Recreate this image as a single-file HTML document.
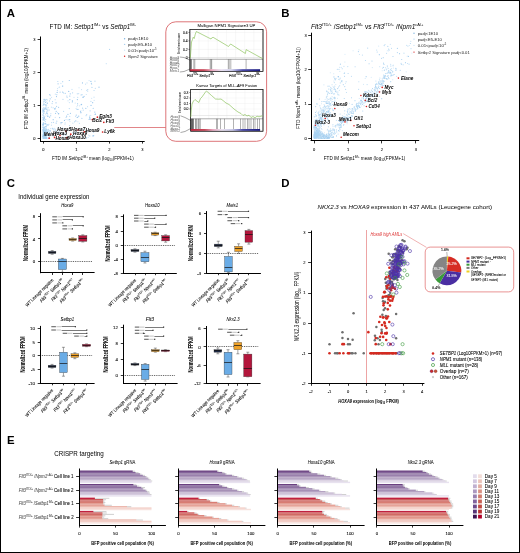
<!DOCTYPE html>
<html><head><meta charset="utf-8"><style>
html,body{margin:0;padding:0;background:#fff;}
#wrap{position:relative;width:520px;height:553px;overflow:hidden;background:#fff;}
svg{display:block;font-family:"Liberation Sans", sans-serif;filter:blur(0.3px);}
#frame{position:absolute;left:0;top:0;width:518px;height:551px;border:1px solid #000;}
</style></head><body><div id="wrap">
<svg width="520" height="553" viewBox="0 0 520 553">
<rect x="0" y="0" width="520" height="553" fill="#fff"/>
<text x="6.70" y="17.00" font-size="11.4" font-weight="bold">A</text>
<text x="281.30" y="17.00" font-size="11.4" font-weight="bold">B</text>
<text x="6.70" y="186.90" font-size="11.4" font-weight="bold">C</text>
<text x="281.20" y="187.00" font-size="11.4" font-weight="bold">D</text>
<text x="6.90" y="444.00" font-size="11.4" font-weight="bold">E</text>
<circle cx="87.77" cy="89.59" r="0.60" fill="#b3d6f2"/>
<circle cx="51.58" cy="97.29" r="0.60" fill="#c9e2f6"/>
<circle cx="46.44" cy="109.59" r="0.60" fill="#98c5ec"/>
<circle cx="51.71" cy="122.54" r="0.60" fill="#b3d6f2"/>
<circle cx="58.58" cy="107.24" r="0.60" fill="#98c5ec"/>
<circle cx="95.34" cy="88.26" r="0.60" fill="#b3d6f2"/>
<circle cx="94.83" cy="112.06" r="0.60" fill="#98c5ec"/>
<circle cx="46.25" cy="138.00" r="0.60" fill="#b3d6f2"/>
<circle cx="43.39" cy="124.85" r="0.60" fill="#98c5ec"/>
<circle cx="75.08" cy="133.05" r="0.60" fill="#b3d6f2"/>
<circle cx="49.40" cy="132.34" r="0.60" fill="#98c5ec"/>
<circle cx="45.04" cy="134.31" r="0.60" fill="#c9e2f6"/>
<circle cx="42.91" cy="111.00" r="0.60" fill="#c9e2f6"/>
<circle cx="43.19" cy="105.27" r="0.60" fill="#b3d6f2"/>
<circle cx="84.07" cy="96.28" r="0.60" fill="#98c5ec"/>
<circle cx="44.36" cy="118.77" r="0.60" fill="#b3d6f2"/>
<circle cx="85.85" cy="108.37" r="0.60" fill="#98c5ec"/>
<circle cx="43.66" cy="124.17" r="0.60" fill="#c9e2f6"/>
<circle cx="45.97" cy="107.36" r="0.60" fill="#b3d6f2"/>
<circle cx="94.03" cy="97.22" r="0.60" fill="#c9e2f6"/>
<circle cx="69.81" cy="96.12" r="0.60" fill="#98c5ec"/>
<circle cx="46.03" cy="133.13" r="0.60" fill="#b3d6f2"/>
<circle cx="44.49" cy="104.00" r="0.60" fill="#c9e2f6"/>
<circle cx="45.00" cy="131.12" r="0.60" fill="#b3d6f2"/>
<circle cx="76.77" cy="137.11" r="0.60" fill="#c9e2f6"/>
<circle cx="91.40" cy="83.42" r="0.60" fill="#b3d6f2"/>
<circle cx="45.83" cy="128.69" r="0.60" fill="#b3d6f2"/>
<circle cx="71.15" cy="136.59" r="0.60" fill="#c9e2f6"/>
<circle cx="75.72" cy="132.47" r="0.60" fill="#98c5ec"/>
<circle cx="56.81" cy="121.21" r="0.60" fill="#b3d6f2"/>
<circle cx="42.96" cy="124.79" r="0.60" fill="#98c5ec"/>
<circle cx="52.55" cy="101.60" r="0.60" fill="#b3d6f2"/>
<circle cx="46.31" cy="138.20" r="0.60" fill="#98c5ec"/>
<circle cx="48.27" cy="116.40" r="0.60" fill="#c9e2f6"/>
<circle cx="62.91" cy="86.10" r="0.60" fill="#c9e2f6"/>
<circle cx="66.85" cy="96.07" r="0.60" fill="#b3d6f2"/>
<circle cx="62.65" cy="92.07" r="0.60" fill="#98c5ec"/>
<circle cx="50.63" cy="128.61" r="0.60" fill="#c9e2f6"/>
<circle cx="42.99" cy="108.90" r="0.60" fill="#98c5ec"/>
<circle cx="45.17" cy="108.66" r="0.60" fill="#c9e2f6"/>
<circle cx="43.14" cy="109.79" r="0.60" fill="#b3d6f2"/>
<circle cx="75.55" cy="116.41" r="0.60" fill="#c9e2f6"/>
<circle cx="48.52" cy="134.92" r="0.60" fill="#98c5ec"/>
<circle cx="91.65" cy="98.27" r="0.60" fill="#c9e2f6"/>
<circle cx="50.37" cy="95.55" r="0.60" fill="#c9e2f6"/>
<circle cx="94.15" cy="100.35" r="0.60" fill="#c9e2f6"/>
<circle cx="87.72" cy="91.12" r="0.60" fill="#b3d6f2"/>
<circle cx="57.61" cy="88.49" r="0.60" fill="#c9e2f6"/>
<circle cx="89.70" cy="118.54" r="0.60" fill="#b3d6f2"/>
<circle cx="62.67" cy="81.71" r="0.60" fill="#b3d6f2"/>
<circle cx="81.11" cy="94.89" r="0.60" fill="#b3d6f2"/>
<circle cx="69.28" cy="80.48" r="0.60" fill="#98c5ec"/>
<circle cx="56.17" cy="123.12" r="0.60" fill="#98c5ec"/>
<circle cx="47.27" cy="103.40" r="0.60" fill="#c9e2f6"/>
<circle cx="44.89" cy="116.17" r="0.60" fill="#b3d6f2"/>
<circle cx="67.11" cy="97.31" r="0.60" fill="#b3d6f2"/>
<circle cx="92.67" cy="102.67" r="0.60" fill="#98c5ec"/>
<circle cx="69.63" cy="119.70" r="0.60" fill="#c9e2f6"/>
<circle cx="44.32" cy="111.25" r="0.60" fill="#98c5ec"/>
<circle cx="75.83" cy="120.89" r="0.60" fill="#98c5ec"/>
<circle cx="83.92" cy="129.20" r="0.60" fill="#c9e2f6"/>
<circle cx="89.16" cy="119.38" r="0.60" fill="#98c5ec"/>
<circle cx="43.30" cy="132.71" r="0.60" fill="#b3d6f2"/>
<circle cx="47.19" cy="115.16" r="0.60" fill="#b3d6f2"/>
<circle cx="46.55" cy="135.28" r="0.60" fill="#98c5ec"/>
<circle cx="43.06" cy="126.83" r="0.60" fill="#c9e2f6"/>
<circle cx="70.44" cy="129.90" r="0.60" fill="#98c5ec"/>
<circle cx="68.10" cy="119.78" r="0.60" fill="#b3d6f2"/>
<circle cx="43.32" cy="111.39" r="0.60" fill="#98c5ec"/>
<circle cx="86.58" cy="137.96" r="0.60" fill="#98c5ec"/>
<circle cx="52.37" cy="128.31" r="0.60" fill="#98c5ec"/>
<circle cx="80.50" cy="111.54" r="0.60" fill="#98c5ec"/>
<circle cx="83.67" cy="137.13" r="0.60" fill="#c9e2f6"/>
<circle cx="86.68" cy="114.79" r="0.60" fill="#98c5ec"/>
<circle cx="69.85" cy="99.55" r="0.60" fill="#98c5ec"/>
<circle cx="44.23" cy="117.61" r="0.60" fill="#98c5ec"/>
<circle cx="80.93" cy="110.86" r="0.60" fill="#c9e2f6"/>
<circle cx="85.54" cy="84.14" r="0.60" fill="#c9e2f6"/>
<circle cx="43.84" cy="116.73" r="0.60" fill="#98c5ec"/>
<circle cx="46.58" cy="101.82" r="0.60" fill="#c9e2f6"/>
<circle cx="49.61" cy="117.14" r="0.60" fill="#98c5ec"/>
<circle cx="44.60" cy="123.70" r="0.60" fill="#c9e2f6"/>
<circle cx="43.67" cy="107.87" r="0.60" fill="#b3d6f2"/>
<circle cx="54.87" cy="108.93" r="0.60" fill="#b3d6f2"/>
<circle cx="51.48" cy="125.21" r="0.60" fill="#c9e2f6"/>
<circle cx="43.02" cy="120.02" r="0.60" fill="#b3d6f2"/>
<circle cx="44.04" cy="111.75" r="0.60" fill="#c9e2f6"/>
<circle cx="43.04" cy="136.20" r="0.60" fill="#98c5ec"/>
<circle cx="44.36" cy="132.17" r="0.60" fill="#98c5ec"/>
<circle cx="83.03" cy="97.33" r="0.60" fill="#b3d6f2"/>
<circle cx="46.26" cy="105.08" r="0.60" fill="#c9e2f6"/>
<circle cx="74.55" cy="121.86" r="0.60" fill="#b3d6f2"/>
<circle cx="79.03" cy="87.76" r="0.60" fill="#c9e2f6"/>
<circle cx="54.82" cy="129.04" r="0.60" fill="#c9e2f6"/>
<circle cx="77.71" cy="117.34" r="0.60" fill="#b3d6f2"/>
<circle cx="63.63" cy="92.92" r="0.60" fill="#b3d6f2"/>
<circle cx="49.33" cy="136.55" r="0.60" fill="#c9e2f6"/>
<circle cx="70.22" cy="93.78" r="0.60" fill="#98c5ec"/>
<circle cx="90.94" cy="129.57" r="0.60" fill="#b3d6f2"/>
<circle cx="56.01" cy="102.86" r="0.60" fill="#98c5ec"/>
<circle cx="43.44" cy="111.57" r="0.60" fill="#b3d6f2"/>
<circle cx="58.56" cy="113.62" r="0.60" fill="#98c5ec"/>
<circle cx="43.22" cy="110.11" r="0.60" fill="#98c5ec"/>
<circle cx="55.64" cy="107.79" r="0.60" fill="#c9e2f6"/>
<circle cx="55.34" cy="94.15" r="0.60" fill="#c9e2f6"/>
<circle cx="62.72" cy="137.04" r="0.60" fill="#b3d6f2"/>
<circle cx="95.14" cy="114.38" r="0.60" fill="#98c5ec"/>
<circle cx="82.49" cy="82.89" r="0.60" fill="#98c5ec"/>
<circle cx="46.53" cy="99.45" r="0.60" fill="#c9e2f6"/>
<circle cx="44.49" cy="120.20" r="0.60" fill="#b3d6f2"/>
<circle cx="77.22" cy="117.47" r="0.60" fill="#98c5ec"/>
<circle cx="54.01" cy="130.35" r="0.60" fill="#c9e2f6"/>
<circle cx="45.66" cy="138.17" r="0.60" fill="#98c5ec"/>
<circle cx="52.11" cy="103.57" r="0.60" fill="#b3d6f2"/>
<circle cx="43.61" cy="104.41" r="0.60" fill="#98c5ec"/>
<circle cx="89.77" cy="135.89" r="0.60" fill="#b3d6f2"/>
<circle cx="48.62" cy="129.46" r="0.60" fill="#c9e2f6"/>
<circle cx="43.01" cy="136.38" r="0.60" fill="#b3d6f2"/>
<circle cx="45.39" cy="124.11" r="0.60" fill="#b3d6f2"/>
<circle cx="43.67" cy="132.28" r="0.60" fill="#b3d6f2"/>
<circle cx="50.85" cy="113.68" r="0.60" fill="#c9e2f6"/>
<circle cx="63.63" cy="111.30" r="0.60" fill="#b3d6f2"/>
<circle cx="86.00" cy="115.65" r="0.60" fill="#c9e2f6"/>
<circle cx="47.35" cy="99.91" r="0.60" fill="#c9e2f6"/>
<circle cx="54.70" cy="128.23" r="0.60" fill="#c9e2f6"/>
<circle cx="43.30" cy="123.56" r="0.60" fill="#b3d6f2"/>
<circle cx="44.97" cy="135.16" r="0.60" fill="#b3d6f2"/>
<circle cx="43.80" cy="128.48" r="0.60" fill="#98c5ec"/>
<circle cx="86.55" cy="90.37" r="0.60" fill="#c9e2f6"/>
<circle cx="77.96" cy="93.70" r="0.60" fill="#c9e2f6"/>
<circle cx="72.60" cy="92.80" r="0.60" fill="#b3d6f2"/>
<circle cx="46.52" cy="108.88" r="0.60" fill="#c9e2f6"/>
<circle cx="43.80" cy="119.22" r="0.60" fill="#c9e2f6"/>
<circle cx="90.76" cy="115.29" r="0.60" fill="#c9e2f6"/>
<circle cx="44.36" cy="104.28" r="0.60" fill="#c9e2f6"/>
<circle cx="80.94" cy="112.78" r="0.60" fill="#c9e2f6"/>
<circle cx="74.01" cy="97.30" r="0.60" fill="#c9e2f6"/>
<circle cx="65.07" cy="134.10" r="0.60" fill="#98c5ec"/>
<circle cx="83.19" cy="110.04" r="0.60" fill="#b3d6f2"/>
<circle cx="47.95" cy="114.99" r="0.60" fill="#c9e2f6"/>
<circle cx="43.78" cy="113.25" r="0.60" fill="#b3d6f2"/>
<circle cx="47.09" cy="124.75" r="0.60" fill="#98c5ec"/>
<circle cx="75.19" cy="103.02" r="0.60" fill="#c9e2f6"/>
<circle cx="44.20" cy="118.22" r="0.60" fill="#98c5ec"/>
<circle cx="90.42" cy="119.22" r="0.60" fill="#98c5ec"/>
<circle cx="69.37" cy="102.57" r="0.60" fill="#c9e2f6"/>
<circle cx="43.70" cy="133.66" r="0.60" fill="#b3d6f2"/>
<circle cx="43.03" cy="134.39" r="0.60" fill="#c9e2f6"/>
<circle cx="77.21" cy="93.79" r="0.60" fill="#c9e2f6"/>
<circle cx="81.18" cy="104.70" r="0.60" fill="#98c5ec"/>
<circle cx="82.03" cy="94.71" r="0.60" fill="#b3d6f2"/>
<circle cx="56.57" cy="106.40" r="0.60" fill="#b3d6f2"/>
<circle cx="76.80" cy="109.38" r="0.60" fill="#c9e2f6"/>
<circle cx="77.57" cy="103.57" r="0.60" fill="#b3d6f2"/>
<circle cx="82.60" cy="108.19" r="0.60" fill="#b3d6f2"/>
<circle cx="79.64" cy="105.81" r="0.60" fill="#c9e2f6"/>
<circle cx="43.24" cy="124.42" r="0.60" fill="#98c5ec"/>
<circle cx="72.54" cy="132.59" r="0.60" fill="#c9e2f6"/>
<circle cx="72.36" cy="100.50" r="0.60" fill="#c9e2f6"/>
<circle cx="47.05" cy="124.87" r="0.60" fill="#b3d6f2"/>
<circle cx="57.83" cy="81.50" r="0.60" fill="#b3d6f2"/>
<circle cx="58.70" cy="113.84" r="0.60" fill="#98c5ec"/>
<circle cx="91.63" cy="84.10" r="0.60" fill="#b3d6f2"/>
<circle cx="50.18" cy="98.80" r="0.60" fill="#98c5ec"/>
<circle cx="72.87" cy="123.20" r="0.60" fill="#c9e2f6"/>
<circle cx="58.91" cy="133.26" r="0.60" fill="#98c5ec"/>
<circle cx="44.87" cy="108.00" r="0.60" fill="#98c5ec"/>
<circle cx="60.11" cy="92.13" r="0.60" fill="#b3d6f2"/>
<circle cx="54.95" cy="108.55" r="0.60" fill="#b3d6f2"/>
<circle cx="45.65" cy="114.08" r="0.60" fill="#c9e2f6"/>
<circle cx="43.61" cy="113.29" r="0.60" fill="#b3d6f2"/>
<circle cx="58.58" cy="127.77" r="0.60" fill="#98c5ec"/>
<circle cx="49.35" cy="109.98" r="0.60" fill="#b3d6f2"/>
<circle cx="69.75" cy="116.43" r="0.60" fill="#c9e2f6"/>
<circle cx="62.97" cy="99.30" r="0.60" fill="#b3d6f2"/>
<circle cx="47.83" cy="131.51" r="0.60" fill="#98c5ec"/>
<circle cx="49.75" cy="130.75" r="0.60" fill="#98c5ec"/>
<circle cx="78.70" cy="93.54" r="0.60" fill="#c9e2f6"/>
<circle cx="43.17" cy="130.39" r="0.60" fill="#c9e2f6"/>
<circle cx="60.90" cy="83.33" r="0.60" fill="#c9e2f6"/>
<circle cx="68.73" cy="91.46" r="0.60" fill="#98c5ec"/>
<circle cx="53.55" cy="122.31" r="0.60" fill="#b3d6f2"/>
<circle cx="60.97" cy="123.79" r="0.60" fill="#c9e2f6"/>
<circle cx="69.92" cy="121.62" r="0.60" fill="#c9e2f6"/>
<circle cx="44.02" cy="131.70" r="0.60" fill="#b3d6f2"/>
<circle cx="44.22" cy="136.55" r="0.60" fill="#c9e2f6"/>
<circle cx="46.08" cy="138.39" r="0.60" fill="#b3d6f2"/>
<circle cx="46.37" cy="126.03" r="0.60" fill="#98c5ec"/>
<circle cx="47.07" cy="113.43" r="0.60" fill="#98c5ec"/>
<circle cx="57.15" cy="92.44" r="0.60" fill="#98c5ec"/>
<circle cx="44.63" cy="104.57" r="0.60" fill="#c9e2f6"/>
<circle cx="43.48" cy="115.71" r="0.60" fill="#c9e2f6"/>
<circle cx="78.73" cy="116.14" r="0.60" fill="#98c5ec"/>
<circle cx="88.23" cy="137.29" r="0.60" fill="#c9e2f6"/>
<circle cx="43.21" cy="110.57" r="0.60" fill="#98c5ec"/>
<circle cx="93.53" cy="132.02" r="0.60" fill="#98c5ec"/>
<circle cx="72.40" cy="101.16" r="0.60" fill="#98c5ec"/>
<circle cx="73.99" cy="134.94" r="0.60" fill="#98c5ec"/>
<circle cx="43.03" cy="114.27" r="0.60" fill="#b3d6f2"/>
<circle cx="57.33" cy="90.34" r="0.60" fill="#b3d6f2"/>
<circle cx="53.21" cy="129.18" r="0.60" fill="#b3d6f2"/>
<circle cx="44.83" cy="131.00" r="0.60" fill="#98c5ec"/>
<circle cx="90.10" cy="110.81" r="0.60" fill="#b3d6f2"/>
<circle cx="77.71" cy="129.46" r="0.60" fill="#c9e2f6"/>
<circle cx="42.91" cy="112.40" r="0.60" fill="#c9e2f6"/>
<circle cx="45.74" cy="108.29" r="0.60" fill="#98c5ec"/>
<circle cx="48.07" cy="125.10" r="0.60" fill="#98c5ec"/>
<circle cx="56.64" cy="131.06" r="0.60" fill="#c9e2f6"/>
<circle cx="44.90" cy="136.52" r="0.60" fill="#98c5ec"/>
<circle cx="43.25" cy="119.55" r="0.60" fill="#98c5ec"/>
<circle cx="44.19" cy="127.18" r="0.60" fill="#98c5ec"/>
<circle cx="67.94" cy="114.36" r="0.60" fill="#98c5ec"/>
<circle cx="59.09" cy="87.28" r="0.60" fill="#c9e2f6"/>
<circle cx="77.73" cy="97.25" r="0.60" fill="#b3d6f2"/>
<circle cx="55.18" cy="99.65" r="0.60" fill="#c9e2f6"/>
<circle cx="55.64" cy="129.99" r="0.60" fill="#98c5ec"/>
<circle cx="79.40" cy="136.33" r="0.60" fill="#c9e2f6"/>
<circle cx="50.67" cy="115.74" r="0.60" fill="#98c5ec"/>
<circle cx="65.82" cy="135.45" r="0.60" fill="#c9e2f6"/>
<circle cx="44.03" cy="128.84" r="0.60" fill="#b3d6f2"/>
<circle cx="46.70" cy="131.97" r="0.60" fill="#c9e2f6"/>
<circle cx="48.14" cy="107.56" r="0.60" fill="#b3d6f2"/>
<circle cx="56.86" cy="132.44" r="0.60" fill="#98c5ec"/>
<circle cx="43.99" cy="131.41" r="0.60" fill="#c9e2f6"/>
<circle cx="67.15" cy="129.98" r="0.60" fill="#b3d6f2"/>
<circle cx="46.10" cy="106.06" r="0.60" fill="#b3d6f2"/>
<circle cx="43.19" cy="132.97" r="0.60" fill="#c9e2f6"/>
<circle cx="77.89" cy="121.77" r="0.60" fill="#c9e2f6"/>
<circle cx="81.58" cy="104.46" r="0.60" fill="#98c5ec"/>
<circle cx="93.23" cy="108.47" r="0.60" fill="#b3d6f2"/>
<circle cx="43.27" cy="135.62" r="0.60" fill="#98c5ec"/>
<circle cx="43.78" cy="101.34" r="0.60" fill="#b3d6f2"/>
<circle cx="70.39" cy="113.32" r="0.60" fill="#98c5ec"/>
<circle cx="77.35" cy="99.53" r="0.60" fill="#98c5ec"/>
<circle cx="64.46" cy="120.40" r="0.60" fill="#98c5ec"/>
<circle cx="61.06" cy="122.71" r="0.60" fill="#98c5ec"/>
<circle cx="81.89" cy="118.41" r="0.60" fill="#b3d6f2"/>
<circle cx="76.08" cy="108.50" r="0.60" fill="#c9e2f6"/>
<circle cx="54.89" cy="108.80" r="0.60" fill="#98c5ec"/>
<circle cx="64.98" cy="124.14" r="0.60" fill="#c9e2f6"/>
<circle cx="89.79" cy="117.44" r="0.60" fill="#98c5ec"/>
<circle cx="46.72" cy="105.11" r="0.60" fill="#b3d6f2"/>
<circle cx="45.16" cy="134.98" r="0.60" fill="#98c5ec"/>
<circle cx="47.36" cy="103.07" r="0.60" fill="#98c5ec"/>
<circle cx="43.77" cy="123.99" r="0.60" fill="#c9e2f6"/>
<circle cx="76.89" cy="106.75" r="0.60" fill="#c9e2f6"/>
<circle cx="45.83" cy="99.77" r="0.60" fill="#b3d6f2"/>
<circle cx="45.00" cy="108.96" r="0.60" fill="#c9e2f6"/>
<circle cx="79.37" cy="123.26" r="0.60" fill="#b3d6f2"/>
<circle cx="51.20" cy="133.67" r="0.60" fill="#c9e2f6"/>
<circle cx="62.01" cy="122.48" r="0.60" fill="#98c5ec"/>
<circle cx="44.33" cy="137.86" r="0.60" fill="#b3d6f2"/>
<circle cx="42.98" cy="124.91" r="0.60" fill="#98c5ec"/>
<circle cx="66.64" cy="116.13" r="0.60" fill="#98c5ec"/>
<circle cx="46.71" cy="111.69" r="0.60" fill="#c9e2f6"/>
<circle cx="56.49" cy="96.53" r="0.60" fill="#98c5ec"/>
<circle cx="87.02" cy="82.88" r="0.60" fill="#c9e2f6"/>
<circle cx="76.24" cy="115.11" r="0.60" fill="#98c5ec"/>
<circle cx="44.31" cy="118.96" r="0.60" fill="#c9e2f6"/>
<circle cx="50.36" cy="130.95" r="0.60" fill="#98c5ec"/>
<circle cx="45.42" cy="102.37" r="0.60" fill="#98c5ec"/>
<circle cx="45.34" cy="104.96" r="0.60" fill="#98c5ec"/>
<circle cx="48.05" cy="130.03" r="0.60" fill="#98c5ec"/>
<circle cx="44.59" cy="128.77" r="0.60" fill="#b3d6f2"/>
<circle cx="43.82" cy="118.41" r="0.60" fill="#98c5ec"/>
<circle cx="65.26" cy="93.38" r="0.60" fill="#b3d6f2"/>
<circle cx="95.48" cy="113.99" r="0.60" fill="#98c5ec"/>
<circle cx="56.82" cy="94.64" r="0.60" fill="#b3d6f2"/>
<circle cx="93.64" cy="135.68" r="0.60" fill="#98c5ec"/>
<circle cx="91.23" cy="81.47" r="0.60" fill="#c9e2f6"/>
<circle cx="91.04" cy="105.46" r="0.60" fill="#98c5ec"/>
<circle cx="77.65" cy="105.07" r="0.60" fill="#b3d6f2"/>
<circle cx="55.57" cy="113.29" r="0.60" fill="#98c5ec"/>
<circle cx="44.57" cy="111.75" r="0.60" fill="#b3d6f2"/>
<circle cx="71.98" cy="89.40" r="0.60" fill="#c9e2f6"/>
<circle cx="48.87" cy="124.27" r="0.60" fill="#b3d6f2"/>
<circle cx="77.93" cy="109.44" r="0.60" fill="#98c5ec"/>
<circle cx="69.70" cy="119.57" r="0.60" fill="#98c5ec"/>
<circle cx="43.64" cy="111.63" r="0.60" fill="#b3d6f2"/>
<circle cx="69.68" cy="125.49" r="0.60" fill="#b3d6f2"/>
<circle cx="66.10" cy="117.52" r="0.60" fill="#b3d6f2"/>
<circle cx="68.03" cy="100.78" r="0.60" fill="#c9e2f6"/>
<circle cx="45.12" cy="137.34" r="0.60" fill="#c9e2f6"/>
<circle cx="53.25" cy="135.81" r="0.60" fill="#98c5ec"/>
<circle cx="45.43" cy="131.59" r="0.60" fill="#c9e2f6"/>
<circle cx="94.96" cy="81.20" r="0.60" fill="#b3d6f2"/>
<circle cx="43.39" cy="119.01" r="0.60" fill="#98c5ec"/>
<circle cx="53.18" cy="119.64" r="0.60" fill="#98c5ec"/>
<circle cx="45.24" cy="121.30" r="0.60" fill="#b3d6f2"/>
<circle cx="45.99" cy="129.97" r="0.60" fill="#c9e2f6"/>
<circle cx="43.48" cy="102.78" r="0.60" fill="#c9e2f6"/>
<circle cx="47.80" cy="109.16" r="0.60" fill="#b3d6f2"/>
<circle cx="49.46" cy="100.95" r="0.60" fill="#b3d6f2"/>
<circle cx="75.43" cy="137.51" r="0.60" fill="#c9e2f6"/>
<circle cx="43.15" cy="129.31" r="0.60" fill="#c9e2f6"/>
<circle cx="42.94" cy="117.55" r="0.60" fill="#98c5ec"/>
<circle cx="43.74" cy="104.08" r="0.60" fill="#c9e2f6"/>
<circle cx="53.05" cy="128.94" r="0.60" fill="#c9e2f6"/>
<circle cx="72.27" cy="102.31" r="0.60" fill="#c9e2f6"/>
<circle cx="44.58" cy="127.36" r="0.60" fill="#98c5ec"/>
<circle cx="91.96" cy="87.39" r="0.60" fill="#b3d6f2"/>
<circle cx="62.63" cy="128.19" r="0.60" fill="#98c5ec"/>
<circle cx="46.32" cy="137.13" r="0.60" fill="#98c5ec"/>
<circle cx="81.54" cy="89.53" r="0.60" fill="#c9e2f6"/>
<circle cx="46.83" cy="132.61" r="0.60" fill="#b3d6f2"/>
<circle cx="92.91" cy="135.91" r="0.60" fill="#98c5ec"/>
<circle cx="63.49" cy="135.20" r="0.60" fill="#b3d6f2"/>
<circle cx="42.94" cy="123.08" r="0.60" fill="#c9e2f6"/>
<circle cx="45.69" cy="123.34" r="0.60" fill="#98c5ec"/>
<circle cx="88.76" cy="135.14" r="0.60" fill="#c9e2f6"/>
<circle cx="90.95" cy="101.36" r="0.60" fill="#b3d6f2"/>
<circle cx="44.28" cy="99.31" r="0.60" fill="#98c5ec"/>
<circle cx="43.57" cy="120.45" r="0.60" fill="#c9e2f6"/>
<circle cx="58.07" cy="83.79" r="0.60" fill="#98c5ec"/>
<circle cx="49.29" cy="136.89" r="0.60" fill="#b3d6f2"/>
<circle cx="83.12" cy="97.14" r="0.60" fill="#98c5ec"/>
<circle cx="65.99" cy="119.49" r="0.60" fill="#c9e2f6"/>
<circle cx="42.99" cy="115.15" r="0.60" fill="#b3d6f2"/>
<circle cx="45.36" cy="100.16" r="0.60" fill="#b3d6f2"/>
<circle cx="43.62" cy="122.96" r="0.60" fill="#98c5ec"/>
<circle cx="43.61" cy="128.14" r="0.60" fill="#b3d6f2"/>
<circle cx="44.20" cy="128.19" r="0.60" fill="#c9e2f6"/>
<circle cx="51.40" cy="107.18" r="0.60" fill="#c9e2f6"/>
<circle cx="43.46" cy="100.98" r="0.60" fill="#c9e2f6"/>
<circle cx="59.66" cy="86.99" r="0.60" fill="#c9e2f6"/>
<circle cx="80.90" cy="112.57" r="0.60" fill="#98c5ec"/>
<circle cx="53.09" cy="107.77" r="0.60" fill="#b3d6f2"/>
<circle cx="45.68" cy="129.95" r="0.60" fill="#c9e2f6"/>
<circle cx="55.22" cy="117.29" r="0.60" fill="#c9e2f6"/>
<circle cx="43.11" cy="118.02" r="0.60" fill="#c9e2f6"/>
<circle cx="44.57" cy="100.86" r="0.60" fill="#c9e2f6"/>
<circle cx="88.38" cy="129.96" r="0.60" fill="#c9e2f6"/>
<circle cx="45.31" cy="134.25" r="0.60" fill="#b3d6f2"/>
<circle cx="87.80" cy="131.91" r="0.60" fill="#c9e2f6"/>
<circle cx="47.64" cy="116.48" r="0.60" fill="#98c5ec"/>
<circle cx="45.26" cy="130.78" r="0.60" fill="#98c5ec"/>
<circle cx="89.68" cy="116.06" r="0.60" fill="#b3d6f2"/>
<circle cx="43.32" cy="136.11" r="0.60" fill="#b3d6f2"/>
<circle cx="45.61" cy="126.62" r="0.60" fill="#98c5ec"/>
<circle cx="47.82" cy="110.83" r="0.60" fill="#98c5ec"/>
<circle cx="56.21" cy="111.33" r="0.60" fill="#98c5ec"/>
<circle cx="55.50" cy="130.89" r="0.60" fill="#c9e2f6"/>
<circle cx="87.56" cy="106.64" r="0.60" fill="#c9e2f6"/>
<circle cx="86.28" cy="94.50" r="0.60" fill="#c9e2f6"/>
<circle cx="43.50" cy="99.29" r="0.60" fill="#c9e2f6"/>
<circle cx="44.82" cy="101.05" r="0.60" fill="#b3d6f2"/>
<circle cx="43.62" cy="133.93" r="0.60" fill="#98c5ec"/>
<circle cx="45.71" cy="119.41" r="0.60" fill="#b3d6f2"/>
<circle cx="44.79" cy="109.13" r="0.60" fill="#98c5ec"/>
<circle cx="65.15" cy="122.83" r="0.60" fill="#c9e2f6"/>
<circle cx="69.27" cy="108.61" r="0.60" fill="#b3d6f2"/>
<circle cx="62.85" cy="133.09" r="0.60" fill="#c9e2f6"/>
<circle cx="44.44" cy="111.13" r="0.60" fill="#c9e2f6"/>
<circle cx="49.78" cy="94.72" r="0.60" fill="#98c5ec"/>
<circle cx="57.46" cy="112.65" r="0.60" fill="#c9e2f6"/>
<circle cx="46.79" cy="112.90" r="0.60" fill="#98c5ec"/>
<circle cx="62.49" cy="86.10" r="0.60" fill="#98c5ec"/>
<circle cx="59.64" cy="117.57" r="0.60" fill="#98c5ec"/>
<circle cx="59.08" cy="131.14" r="0.60" fill="#b3d6f2"/>
<circle cx="90.67" cy="81.38" r="0.60" fill="#b3d6f2"/>
<circle cx="109.56" cy="49.46" r="0.60" fill="#b3d6f2"/>
<circle cx="106.26" cy="63.69" r="0.60" fill="#c9e2f6"/>
<circle cx="99.00" cy="87.19" r="0.60" fill="#98c5ec"/>
<circle cx="94.05" cy="90.50" r="0.60" fill="#b3d6f2"/>
<circle cx="89.10" cy="80.57" r="0.60" fill="#c9e2f6"/>
<circle cx="43.13" cy="127.50" r="0.60" fill="#a7d0f0"/>
<circle cx="44.39" cy="132.47" r="0.60" fill="#a7d0f0"/>
<circle cx="44.68" cy="137.49" r="0.60" fill="#a7d0f0"/>
<circle cx="45.35" cy="138.11" r="0.60" fill="#a7d0f0"/>
<circle cx="47.58" cy="135.49" r="0.60" fill="#a7d0f0"/>
<circle cx="44.32" cy="133.95" r="0.60" fill="#a7d0f0"/>
<circle cx="46.13" cy="131.41" r="0.60" fill="#a7d0f0"/>
<circle cx="43.56" cy="133.73" r="0.60" fill="#a7d0f0"/>
<circle cx="43.48" cy="138.41" r="0.60" fill="#a7d0f0"/>
<circle cx="44.10" cy="136.22" r="0.60" fill="#a7d0f0"/>
<circle cx="43.70" cy="138.12" r="0.60" fill="#a7d0f0"/>
<circle cx="43.77" cy="134.87" r="0.60" fill="#a7d0f0"/>
<circle cx="43.19" cy="131.49" r="0.60" fill="#a7d0f0"/>
<circle cx="43.10" cy="130.51" r="0.60" fill="#a7d0f0"/>
<circle cx="45.71" cy="133.96" r="0.60" fill="#a7d0f0"/>
<circle cx="44.77" cy="132.06" r="0.60" fill="#a7d0f0"/>
<circle cx="46.28" cy="130.24" r="0.60" fill="#a7d0f0"/>
<circle cx="43.59" cy="134.47" r="0.60" fill="#a7d0f0"/>
<circle cx="45.90" cy="138.12" r="0.60" fill="#a7d0f0"/>
<circle cx="44.20" cy="137.07" r="0.60" fill="#a7d0f0"/>
<circle cx="48.15" cy="131.05" r="0.60" fill="#a7d0f0"/>
<circle cx="44.94" cy="131.73" r="0.60" fill="#a7d0f0"/>
<circle cx="43.32" cy="135.67" r="0.60" fill="#a7d0f0"/>
<circle cx="45.84" cy="136.66" r="0.60" fill="#a7d0f0"/>
<circle cx="43.83" cy="130.65" r="0.60" fill="#a7d0f0"/>
<circle cx="45.27" cy="136.81" r="0.60" fill="#a7d0f0"/>
<circle cx="47.55" cy="132.06" r="0.60" fill="#a7d0f0"/>
<circle cx="43.41" cy="131.35" r="0.60" fill="#a7d0f0"/>
<circle cx="45.38" cy="137.61" r="0.60" fill="#a7d0f0"/>
<circle cx="44.77" cy="136.77" r="0.60" fill="#a7d0f0"/>
<circle cx="43.02" cy="127.03" r="0.60" fill="#a7d0f0"/>
<circle cx="43.59" cy="138.43" r="0.60" fill="#a7d0f0"/>
<circle cx="43.86" cy="130.16" r="0.60" fill="#a7d0f0"/>
<circle cx="44.19" cy="133.18" r="0.60" fill="#a7d0f0"/>
<circle cx="44.70" cy="136.05" r="0.60" fill="#a7d0f0"/>
<circle cx="43.10" cy="129.19" r="0.60" fill="#a7d0f0"/>
<circle cx="48.16" cy="137.54" r="0.60" fill="#a7d0f0"/>
<circle cx="42.97" cy="137.91" r="0.60" fill="#a7d0f0"/>
<circle cx="44.60" cy="132.78" r="0.60" fill="#a7d0f0"/>
<circle cx="45.89" cy="138.29" r="0.60" fill="#a7d0f0"/>
<circle cx="44.89" cy="130.28" r="0.60" fill="#a7d0f0"/>
<circle cx="43.75" cy="138.30" r="0.60" fill="#a7d0f0"/>
<circle cx="43.69" cy="132.60" r="0.60" fill="#a7d0f0"/>
<circle cx="45.31" cy="134.98" r="0.60" fill="#a7d0f0"/>
<circle cx="43.90" cy="127.50" r="0.60" fill="#a7d0f0"/>
<circle cx="44.48" cy="131.46" r="0.60" fill="#a7d0f0"/>
<circle cx="43.39" cy="138.23" r="0.60" fill="#a7d0f0"/>
<circle cx="48.26" cy="138.32" r="0.60" fill="#a7d0f0"/>
<circle cx="45.23" cy="137.46" r="0.60" fill="#a7d0f0"/>
<circle cx="43.73" cy="136.39" r="0.60" fill="#a7d0f0"/>
<circle cx="45.43" cy="129.95" r="0.60" fill="#a7d0f0"/>
<circle cx="43.73" cy="138.11" r="0.60" fill="#a7d0f0"/>
<circle cx="44.27" cy="133.98" r="0.60" fill="#a7d0f0"/>
<circle cx="43.19" cy="136.90" r="0.60" fill="#a7d0f0"/>
<circle cx="43.82" cy="137.29" r="0.60" fill="#a7d0f0"/>
<circle cx="46.91" cy="129.83" r="0.60" fill="#a7d0f0"/>
<circle cx="44.37" cy="138.46" r="0.60" fill="#a7d0f0"/>
<circle cx="43.08" cy="136.61" r="0.60" fill="#a7d0f0"/>
<circle cx="43.73" cy="129.29" r="0.60" fill="#a7d0f0"/>
<circle cx="44.40" cy="129.22" r="0.60" fill="#a7d0f0"/>
<circle cx="46.65" cy="129.54" r="0.60" fill="#a7d0f0"/>
<circle cx="43.65" cy="136.93" r="0.60" fill="#a7d0f0"/>
<circle cx="45.69" cy="136.25" r="0.60" fill="#a7d0f0"/>
<circle cx="43.23" cy="129.71" r="0.60" fill="#a7d0f0"/>
<circle cx="43.30" cy="137.73" r="0.60" fill="#a7d0f0"/>
<circle cx="43.13" cy="134.85" r="0.60" fill="#a7d0f0"/>
<circle cx="46.05" cy="127.91" r="0.60" fill="#a7d0f0"/>
<circle cx="44.68" cy="131.28" r="0.60" fill="#a7d0f0"/>
<circle cx="44.26" cy="136.87" r="0.60" fill="#a7d0f0"/>
<circle cx="48.16" cy="138.50" r="0.60" fill="#a7d0f0"/>
<line x1="40.50" y1="36.50" x2="40.50" y2="141.30" stroke="#000" stroke-width="1.0"/>
<line x1="40.00" y1="141.50" x2="144.70" y2="141.50" stroke="#000" stroke-width="1.0"/>
<line x1="37.60" y1="39.50" x2="40.40" y2="39.50" stroke="#000" stroke-width="0.8"/>
<text x="33.30" y="40.60" font-size="4" stroke="#000" stroke-width="0.07">3</text>
<line x1="37.60" y1="72.50" x2="40.40" y2="72.50" stroke="#000" stroke-width="0.8"/>
<text x="33.30" y="73.70" font-size="4" stroke="#000" stroke-width="0.07">2</text>
<line x1="37.60" y1="105.50" x2="40.40" y2="105.50" stroke="#000" stroke-width="0.8"/>
<text x="33.30" y="106.80" font-size="4" stroke="#000" stroke-width="0.07">1</text>
<line x1="37.60" y1="138.50" x2="40.40" y2="138.50" stroke="#000" stroke-width="0.8"/>
<text x="33.30" y="139.90" font-size="4" stroke="#000" stroke-width="0.07">0</text>
<line x1="43.50" y1="141.00" x2="43.50" y2="143.60" stroke="#000" stroke-width="0.8"/>
<text x="43.30" y="151.00" font-size="4" text-anchor="middle" stroke="#000" stroke-width="0.07">0</text>
<line x1="76.50" y1="141.00" x2="76.50" y2="143.60" stroke="#000" stroke-width="0.8"/>
<text x="76.30" y="151.00" font-size="4" text-anchor="middle" stroke="#000" stroke-width="0.07">1</text>
<line x1="109.50" y1="141.00" x2="109.50" y2="143.60" stroke="#000" stroke-width="0.8"/>
<text x="109.30" y="151.00" font-size="4" text-anchor="middle" stroke="#000" stroke-width="0.07">2</text>
<line x1="142.50" y1="141.00" x2="142.50" y2="143.60" stroke="#000" stroke-width="0.8"/>
<text x="142.30" y="151.00" font-size="4" text-anchor="middle" stroke="#000" stroke-width="0.07">3</text>
<text x="28.00" y="88.50" font-size="6.0" text-anchor="middle" textLength="81.00" lengthAdjust="spacingAndGlyphs" transform="rotate(-90 28.00 88.50)"><tspan>FTD IM </tspan><tspan font-style="italic">Setbp1</tspan><tspan baseline-shift="2.52" font-size="3.72">IM-</tspan><tspan> mean (log10(FPKM+1)</tspan></text>
<text x="51.90" y="159.60" font-size="5.9" textLength="81.80" lengthAdjust="spacingAndGlyphs"><tspan>FTD IM </tspan><tspan font-style="italic">Setbp1</tspan><tspan baseline-shift="2.48" font-size="3.66">IM+</tspan><tspan> mean (log</tspan><tspan baseline-shift="-1.30" font-size="3.66">10</tspan><tspan>(FPKM+1)</tspan></text>
<text x="49.60" y="28.60" font-size="6.8" textLength="86.20" lengthAdjust="spacingAndGlyphs"><tspan>FTD IM: </tspan><tspan font-style="italic">Setbp1</tspan><tspan baseline-shift="2.86" font-size="4.22">IM+</tspan><tspan> vs </tspan><tspan font-style="italic">Setbp1</tspan><tspan baseline-shift="2.86" font-size="4.22">IM-</tspan></text>
<circle cx="124.60" cy="38.70" r="0.70" fill="#7fb5e3"/>
<text x="128.00" y="40.20" font-size="4.4" fill="#222" textLength="20.30" lengthAdjust="spacingAndGlyphs">padj&lt;1E10</text>
<circle cx="124.60" cy="44.40" r="0.70" fill="#a9cfee"/>
<text x="128.00" y="45.90" font-size="4.4" fill="#222" textLength="24.10" lengthAdjust="spacingAndGlyphs">padj&lt;E5-E10</text>
<circle cx="124.60" cy="50.20" r="0.70" fill="#cfe6f7"/>
<text x="128.00" y="51.70" font-size="4.4" fill="#222" textLength="28.50" lengthAdjust="spacingAndGlyphs"><tspan>0.01&lt;padj&lt;10</tspan><tspan baseline-shift="1.85" font-size="2.73">-5</tspan></text>
<circle cx="124.60" cy="56.20" r="0.70" fill="#d62020"/>
<text x="128.00" y="57.70" font-size="4.4" fill="#222" textLength="29.90" lengthAdjust="spacingAndGlyphs"><tspan font-style="italic">Npm1</tspan><tspan> Signature</tspan></text>
<circle cx="97.40" cy="117.20" r="0.85" fill="#d62020"/>
<circle cx="92.30" cy="119.50" r="0.85" fill="#d62020"/>
<circle cx="103.80" cy="122.30" r="0.85" fill="#d62020"/>
<circle cx="102.60" cy="132.00" r="0.85" fill="#d62020"/>
<circle cx="84.30" cy="131.80" r="0.85" fill="#d62020"/>
<circle cx="78.00" cy="130.00" r="0.85" fill="#d62020"/>
<circle cx="66.00" cy="131.00" r="0.85" fill="#d62020"/>
<circle cx="70.80" cy="134.20" r="0.85" fill="#d62020"/>
<circle cx="60.00" cy="135.50" r="0.85" fill="#d62020"/>
<circle cx="49.20" cy="138.20" r="0.85" fill="#d62020"/>
<circle cx="66.90" cy="137.70" r="0.85" fill="#d62020"/>
<circle cx="54.60" cy="137.40" r="0.85" fill="#d62020"/>
<text x="99.20" y="117.70" font-size="4.7" font-weight="600" font-style="italic">Egln3</text>
<text x="92.30" y="122.00" font-size="4.7" font-weight="600" font-style="italic">Bcl2</text>
<text x="105.80" y="123.00" font-size="4.7" font-weight="600" font-style="italic">Flt3</text>
<text x="104.30" y="132.80" font-size="4.7" font-weight="600" font-style="italic">Ly6k</text>
<text x="85.40" y="132.30" font-size="4.7" font-weight="600" font-style="italic">Hoxa9</text>
<text x="71.20" y="130.50" font-size="4.7" font-weight="600" font-style="italic">Hoxa7</text>
<text x="57.20" y="131.00" font-size="4.7" font-weight="600" font-style="italic">Hoxa5</text>
<text x="73.00" y="134.90" font-size="4.7" font-weight="600" font-style="italic">Hoxa9</text>
<text x="53.00" y="134.90" font-size="4.7" font-weight="600" font-style="italic">Hoxa3</text>
<text x="43.80" y="135.70" font-size="4.7" font-weight="600" font-style="italic">Meis1</text>
<text x="69.20" y="138.50" font-size="4.7" font-weight="600" font-style="italic">Hoxa10</text>
<text x="55.40" y="140.00" font-size="4.7" font-weight="600" font-style="italic">Hoxa6</text>
<line x1="114.30" y1="127.50" x2="165.80" y2="127.50" stroke="#d9666a" stroke-width="0.8"/>
<rect x="165.8" y="21.8" width="100.8" height="119.5" rx="10" ry="10" fill="none" stroke="#d9666a" stroke-width="0.9"/>
<rect x="189.9" y="29.4" width="73.1" height="42.199999999999996" fill="#fff" stroke="#222" stroke-width="0.6"/>
<line x1="199.04" y1="29.40" x2="199.04" y2="59.30" stroke="#e6e6e6" stroke-width="0.3"/>
<line x1="208.18" y1="29.40" x2="208.18" y2="59.30" stroke="#e6e6e6" stroke-width="0.3"/>
<line x1="217.31" y1="29.40" x2="217.31" y2="59.30" stroke="#e6e6e6" stroke-width="0.3"/>
<line x1="226.45" y1="29.40" x2="226.45" y2="59.30" stroke="#e6e6e6" stroke-width="0.3"/>
<line x1="235.59" y1="29.40" x2="235.59" y2="59.30" stroke="#e6e6e6" stroke-width="0.3"/>
<line x1="244.72" y1="29.40" x2="244.72" y2="59.30" stroke="#e6e6e6" stroke-width="0.3"/>
<line x1="253.86" y1="29.40" x2="253.86" y2="59.30" stroke="#e6e6e6" stroke-width="0.3"/>
<line x1="189.90" y1="32.50" x2="263.00" y2="32.50" stroke="#e6e6e6" stroke-width="0.3"/>
<line x1="188.40" y1="32.50" x2="189.90" y2="32.50" stroke="#000" stroke-width="0.4"/>
<text x="187.70" y="33.60" font-size="3.4" text-anchor="end" stroke="#000" stroke-width="0.07">0.6</text>
<line x1="189.90" y1="40.90" x2="263.00" y2="40.90" stroke="#e6e6e6" stroke-width="0.3"/>
<line x1="188.40" y1="40.90" x2="189.90" y2="40.90" stroke="#000" stroke-width="0.4"/>
<text x="187.70" y="42.00" font-size="3.4" text-anchor="end" stroke="#000" stroke-width="0.07">0.4</text>
<line x1="189.90" y1="49.40" x2="263.00" y2="49.40" stroke="#e6e6e6" stroke-width="0.3"/>
<line x1="188.40" y1="49.40" x2="189.90" y2="49.40" stroke="#000" stroke-width="0.4"/>
<text x="187.70" y="50.50" font-size="3.4" text-anchor="end" stroke="#000" stroke-width="0.07">0.2</text>
<line x1="189.90" y1="57.50" x2="263.00" y2="57.50" stroke="#e6e6e6" stroke-width="0.3"/>
<line x1="188.40" y1="57.50" x2="189.90" y2="57.50" stroke="#000" stroke-width="0.4"/>
<text x="187.70" y="58.60" font-size="3.4" text-anchor="end" stroke="#000" stroke-width="0.07">0</text>
<line x1="189.90" y1="57.70" x2="263.00" y2="57.70" stroke="#cccccc" stroke-width="0.4"/>
<line x1="189.90" y1="59.30" x2="263.00" y2="59.30" stroke="#333" stroke-width="0.4"/>
<line x1="190.30" y1="59.30" x2="190.30" y2="69.20" stroke="#222" stroke-width="0.35"/>
<line x1="190.70" y1="59.30" x2="190.70" y2="69.20" stroke="#222" stroke-width="0.35"/>
<line x1="191.10" y1="59.30" x2="191.10" y2="69.20" stroke="#222" stroke-width="0.35"/>
<line x1="191.50" y1="59.30" x2="191.50" y2="69.20" stroke="#222" stroke-width="0.35"/>
<line x1="193.80" y1="59.30" x2="193.80" y2="69.20" stroke="#222" stroke-width="0.35"/>
<line x1="194.80" y1="59.30" x2="194.80" y2="69.20" stroke="#222" stroke-width="0.35"/>
<line x1="210.20" y1="59.30" x2="210.20" y2="69.20" stroke="#222" stroke-width="0.35"/>
<line x1="211.10" y1="59.30" x2="211.10" y2="69.20" stroke="#222" stroke-width="0.35"/>
<line x1="211.70" y1="59.30" x2="211.70" y2="69.20" stroke="#222" stroke-width="0.35"/>
<line x1="228.30" y1="59.30" x2="228.30" y2="69.20" stroke="#222" stroke-width="0.35"/>
<line x1="229.20" y1="59.30" x2="229.20" y2="69.20" stroke="#222" stroke-width="0.35"/>
<line x1="230.80" y1="59.30" x2="230.80" y2="69.20" stroke="#222" stroke-width="0.35"/>
<line x1="246.10" y1="59.30" x2="246.10" y2="69.20" stroke="#222" stroke-width="0.35"/>
<defs><linearGradient id="g18929" x1="0" x2="1" y1="0" y2="0"><stop offset="0" stop-color="#c0203a"/><stop offset="0.2" stop-color="#c84a5a"/><stop offset="0.32" stop-color="#e8a8c0"/><stop offset="0.45" stop-color="#e8e0f0"/><stop offset="0.6" stop-color="#c8c8e8"/><stop offset="0.75" stop-color="#4a4aa8"/><stop offset="1" stop-color="#1a1a80"/></linearGradient></defs>
<rect x="189.90" y="69.20" width="70.20" height="2.10" fill="url(#g18929)"/>
<rect x="189.9" y="29.4" width="73.1" height="42.199999999999996" fill="none" stroke="#222" stroke-width="0.6"/>
<polyline points="190.30,58.00 190.90,50.00 191.50,42.00 192.50,39.50 193.20,37.20 194.20,38.50 195.20,34.50 196.30,31.50 211.00,39.00 211.60,38.00 213.10,37.30 228.50,46.50 230.60,44.00 245.40,53.50 246.10,49.60 262.50,58.60" fill="none" stroke="#7cbb45" stroke-width="0.6"/>
<text x="226.45" y="27.30" font-size="4.3" text-anchor="middle" stroke="#000" stroke-width="0.02" textLength="58.00" lengthAdjust="spacingAndGlyphs">Mulligan NPM1 Signature3 UP</text>
<text x="180.00" y="43.55" font-size="3.5" text-anchor="middle" font-weight="bold" fill="#222" textLength="21.00" lengthAdjust="spacingAndGlyphs" transform="rotate(-90 180.00 43.55)">Enrichment score</text>
<text x="187.00" y="77.20" font-size="4.4" font-style="italic" stroke="#000" stroke-width="0.07" textLength="27.00" lengthAdjust="spacingAndGlyphs"><tspan font-style="italic">Flt3</tspan><tspan baseline-shift="1.85" font-size="2.73">ITD/+</tspan><tspan> </tspan><tspan font-style="italic">Setbp1</tspan><tspan baseline-shift="1.85" font-size="2.73">IM+</tspan></text>
<text x="229.00" y="77.20" font-size="4.4" font-style="italic" stroke="#000" stroke-width="0.07" textLength="31.00" lengthAdjust="spacingAndGlyphs"><tspan font-style="italic">Flt3</tspan><tspan baseline-shift="1.85" font-size="2.73">ITD/+</tspan><tspan> </tspan><tspan font-style="italic">Setbp1</tspan><tspan baseline-shift="1.85" font-size="2.73">IM-</tspan></text>
<text x="179.20" y="58.60" font-size="2.9" text-anchor="end" font-style="italic" fill="#555" textLength="9.50" lengthAdjust="spacingAndGlyphs">Hoxa9</text>
<text x="179.20" y="61.20" font-size="2.9" text-anchor="end" font-style="italic" fill="#555" textLength="9.50" lengthAdjust="spacingAndGlyphs">Hoxa5</text>
<text x="179.20" y="63.80" font-size="2.9" text-anchor="end" font-style="italic" fill="#555" textLength="9.50" lengthAdjust="spacingAndGlyphs">Hoxa6</text>
<text x="179.20" y="66.40" font-size="2.9" text-anchor="end" font-style="italic" fill="#555" textLength="9.50" lengthAdjust="spacingAndGlyphs">Hoxa10</text>
<text x="179.20" y="69.00" font-size="2.9" text-anchor="end" font-style="italic" fill="#555" textLength="9.50" lengthAdjust="spacingAndGlyphs">Hoxa7</text>
<text x="179.20" y="71.60" font-size="2.9" text-anchor="end" font-style="italic" fill="#555" textLength="9.50" lengthAdjust="spacingAndGlyphs">Meis1</text>
<polyline points="179.80,57.00 184.00,57.50 190.00,60.20" fill="none" stroke="#000" stroke-width="0.35"/>
<polyline points="179.80,72.00 184.00,71.50 190.00,69.00" fill="none" stroke="#000" stroke-width="0.35"/>
<rect x="190.7" y="89.5" width="72.30000000000001" height="41.69999999999999" fill="#fff" stroke="#222" stroke-width="0.6"/>
<line x1="199.74" y1="89.50" x2="199.74" y2="118.80" stroke="#e6e6e6" stroke-width="0.3"/>
<line x1="208.77" y1="89.50" x2="208.77" y2="118.80" stroke="#e6e6e6" stroke-width="0.3"/>
<line x1="217.81" y1="89.50" x2="217.81" y2="118.80" stroke="#e6e6e6" stroke-width="0.3"/>
<line x1="226.85" y1="89.50" x2="226.85" y2="118.80" stroke="#e6e6e6" stroke-width="0.3"/>
<line x1="235.89" y1="89.50" x2="235.89" y2="118.80" stroke="#e6e6e6" stroke-width="0.3"/>
<line x1="244.93" y1="89.50" x2="244.93" y2="118.80" stroke="#e6e6e6" stroke-width="0.3"/>
<line x1="253.96" y1="89.50" x2="253.96" y2="118.80" stroke="#e6e6e6" stroke-width="0.3"/>
<line x1="190.70" y1="92.50" x2="263.00" y2="92.50" stroke="#e6e6e6" stroke-width="0.3"/>
<line x1="189.20" y1="92.50" x2="190.70" y2="92.50" stroke="#000" stroke-width="0.4"/>
<text x="188.50" y="93.60" font-size="3.4" text-anchor="end" stroke="#000" stroke-width="0.07">0.3</text>
<line x1="190.70" y1="98.00" x2="263.00" y2="98.00" stroke="#e6e6e6" stroke-width="0.3"/>
<line x1="189.20" y1="98.00" x2="190.70" y2="98.00" stroke="#000" stroke-width="0.4"/>
<text x="188.50" y="99.10" font-size="3.4" text-anchor="end" stroke="#000" stroke-width="0.07">0.2</text>
<line x1="190.70" y1="103.50" x2="263.00" y2="103.50" stroke="#e6e6e6" stroke-width="0.3"/>
<line x1="189.20" y1="103.50" x2="190.70" y2="103.50" stroke="#000" stroke-width="0.4"/>
<text x="188.50" y="104.60" font-size="3.4" text-anchor="end" stroke="#000" stroke-width="0.07">0.1</text>
<line x1="190.70" y1="109.00" x2="263.00" y2="109.00" stroke="#e6e6e6" stroke-width="0.3"/>
<line x1="189.20" y1="109.00" x2="190.70" y2="109.00" stroke="#000" stroke-width="0.4"/>
<text x="188.50" y="110.10" font-size="3.4" text-anchor="end" stroke="#000" stroke-width="0.07">0.0</text>
<line x1="190.70" y1="115.50" x2="263.00" y2="115.50" stroke="#cccccc" stroke-width="0.4"/>
<line x1="190.70" y1="118.80" x2="263.00" y2="118.80" stroke="#333" stroke-width="0.4"/>
<line x1="190.80" y1="118.80" x2="190.80" y2="129.00" stroke="#222" stroke-width="0.35"/>
<line x1="191.14" y1="118.80" x2="191.14" y2="129.00" stroke="#222" stroke-width="0.35"/>
<line x1="191.48" y1="118.80" x2="191.48" y2="129.00" stroke="#222" stroke-width="0.35"/>
<line x1="191.81" y1="118.80" x2="191.81" y2="129.00" stroke="#222" stroke-width="0.35"/>
<line x1="192.15" y1="118.80" x2="192.15" y2="129.00" stroke="#222" stroke-width="0.35"/>
<line x1="192.49" y1="118.80" x2="192.49" y2="129.00" stroke="#222" stroke-width="0.35"/>
<line x1="192.82" y1="118.80" x2="192.82" y2="129.00" stroke="#222" stroke-width="0.35"/>
<line x1="193.16" y1="118.80" x2="193.16" y2="129.00" stroke="#222" stroke-width="0.35"/>
<line x1="193.50" y1="118.80" x2="193.50" y2="129.00" stroke="#222" stroke-width="0.35"/>
<line x1="195.50" y1="118.80" x2="195.50" y2="129.00" stroke="#222" stroke-width="0.35"/>
<line x1="196.20" y1="118.80" x2="196.20" y2="129.00" stroke="#222" stroke-width="0.35"/>
<line x1="197.00" y1="118.80" x2="197.00" y2="129.00" stroke="#222" stroke-width="0.35"/>
<line x1="198.50" y1="118.80" x2="198.50" y2="129.00" stroke="#222" stroke-width="0.35"/>
<line x1="199.20" y1="118.80" x2="199.20" y2="129.00" stroke="#222" stroke-width="0.35"/>
<line x1="200.30" y1="118.80" x2="200.30" y2="129.00" stroke="#222" stroke-width="0.35"/>
<line x1="216.50" y1="118.80" x2="216.50" y2="129.00" stroke="#222" stroke-width="0.35"/>
<line x1="217.50" y1="118.80" x2="217.50" y2="129.00" stroke="#222" stroke-width="0.35"/>
<line x1="220.50" y1="118.80" x2="220.50" y2="129.00" stroke="#222" stroke-width="0.35"/>
<line x1="224.50" y1="118.80" x2="224.50" y2="129.00" stroke="#222" stroke-width="0.35"/>
<line x1="233.50" y1="118.80" x2="233.50" y2="129.00" stroke="#222" stroke-width="0.35"/>
<line x1="240.50" y1="118.80" x2="240.50" y2="129.00" stroke="#222" stroke-width="0.35"/>
<line x1="243.00" y1="118.80" x2="243.00" y2="129.00" stroke="#222" stroke-width="0.35"/>
<line x1="245.00" y1="118.80" x2="245.00" y2="129.00" stroke="#222" stroke-width="0.35"/>
<line x1="247.50" y1="118.80" x2="247.50" y2="129.00" stroke="#222" stroke-width="0.35"/>
<line x1="249.00" y1="118.80" x2="249.00" y2="129.00" stroke="#222" stroke-width="0.35"/>
<line x1="251.00" y1="118.80" x2="251.00" y2="129.00" stroke="#222" stroke-width="0.35"/>
<line x1="253.50" y1="118.80" x2="253.50" y2="129.00" stroke="#222" stroke-width="0.35"/>
<line x1="255.00" y1="118.80" x2="255.00" y2="129.00" stroke="#222" stroke-width="0.35"/>
<line x1="257.50" y1="118.80" x2="257.50" y2="129.00" stroke="#222" stroke-width="0.35"/>
<line x1="259.50" y1="118.80" x2="259.50" y2="129.00" stroke="#222" stroke-width="0.35"/>
<defs><linearGradient id="g19089" x1="0" x2="1" y1="0" y2="0"><stop offset="0" stop-color="#c0203a"/><stop offset="0.2" stop-color="#c84a5a"/><stop offset="0.32" stop-color="#e8a8c0"/><stop offset="0.45" stop-color="#e8e0f0"/><stop offset="0.6" stop-color="#c8c8e8"/><stop offset="0.75" stop-color="#4a4aa8"/><stop offset="1" stop-color="#1a1a80"/></linearGradient></defs>
<rect x="190.70" y="129.00" width="69.40" height="1.90" fill="url(#g19089)"/>
<rect x="190.7" y="89.5" width="72.30000000000001" height="41.69999999999999" fill="none" stroke="#222" stroke-width="0.6"/>
<polyline points="190.80,117.00 191.30,110.00 192.00,104.00 193.50,101.00 195.00,99.50 197.00,101.20 198.80,102.50 200.50,98.50 202.00,97.00 205.50,92.00 206.50,91.00 211.50,95.50 215.50,99.00 218.50,99.20 221.00,99.00 223.00,100.50 226.00,103.00 229.00,104.50 234.00,109.00 238.00,112.00 241.00,113.50 243.00,115.50 245.00,114.50 247.00,116.00 249.00,115.20 251.00,117.50 253.00,116.50 255.00,117.80 257.00,116.20 259.00,116.80 262.50,115.80" fill="none" stroke="#7cbb45" stroke-width="0.6"/>
<text x="226.85" y="86.90" font-size="4.3" text-anchor="middle" stroke="#000" stroke-width="0.02" textLength="61.00" lengthAdjust="spacingAndGlyphs">Kumar Targets of MLL-AF9 Fusion</text>
<text x="180.80" y="102.50" font-size="3.5" text-anchor="middle" font-weight="bold" fill="#222" textLength="21.00" lengthAdjust="spacingAndGlyphs" transform="rotate(-90 180.80 102.50)">Enrichment score</text>
<text x="180.00" y="117.90" font-size="2.9" text-anchor="end" font-style="italic" fill="#555" textLength="9.50" lengthAdjust="spacingAndGlyphs">Hoxa9</text>
<text x="180.00" y="120.80" font-size="2.9" text-anchor="end" font-style="italic" fill="#555" textLength="9.50" lengthAdjust="spacingAndGlyphs">Hoxa5</text>
<text x="180.00" y="123.70" font-size="2.9" text-anchor="end" font-style="italic" fill="#555" textLength="9.50" lengthAdjust="spacingAndGlyphs">Hoxa6</text>
<text x="180.00" y="126.60" font-size="2.9" text-anchor="end" font-style="italic" fill="#555" textLength="9.50" lengthAdjust="spacingAndGlyphs">Hoxa10</text>
<text x="180.00" y="129.50" font-size="2.9" text-anchor="end" font-style="italic" fill="#555" textLength="9.50" lengthAdjust="spacingAndGlyphs">Hoxa7</text>
<text x="180.00" y="132.40" font-size="2.9" text-anchor="end" font-style="italic" fill="#555" textLength="9.50" lengthAdjust="spacingAndGlyphs">Meis1</text>
<polyline points="180.50,115.80 185.00,117.50 190.70,120.50" fill="none" stroke="#000" stroke-width="0.35"/>
<polyline points="180.50,132.50 185.00,131.50 190.70,128.50" fill="none" stroke="#000" stroke-width="0.35"/>
<circle cx="324.75" cy="137.72" r="0.55" fill="#a3cdef"/>
<circle cx="314.30" cy="136.00" r="0.55" fill="#add3f1"/>
<circle cx="315.79" cy="131.11" r="0.55" fill="#b9dbf3"/>
<circle cx="314.20" cy="136.86" r="0.55" fill="#add3f1"/>
<circle cx="326.42" cy="136.28" r="0.55" fill="#add3f1"/>
<circle cx="320.22" cy="135.01" r="0.55" fill="#a3cdef"/>
<circle cx="314.95" cy="128.16" r="0.55" fill="#cfe6f7"/>
<circle cx="323.00" cy="136.28" r="0.55" fill="#a3cdef"/>
<circle cx="314.59" cy="137.03" r="0.55" fill="#cfe6f7"/>
<circle cx="316.39" cy="136.17" r="0.55" fill="#a3cdef"/>
<circle cx="314.26" cy="134.94" r="0.55" fill="#add3f1"/>
<circle cx="317.26" cy="136.70" r="0.55" fill="#a3cdef"/>
<circle cx="316.45" cy="136.17" r="0.55" fill="#add3f1"/>
<circle cx="316.36" cy="132.85" r="0.55" fill="#cfe6f7"/>
<circle cx="317.96" cy="137.44" r="0.55" fill="#a3cdef"/>
<circle cx="323.82" cy="136.54" r="0.55" fill="#add3f1"/>
<circle cx="317.40" cy="132.10" r="0.55" fill="#b9dbf3"/>
<circle cx="322.80" cy="133.87" r="0.55" fill="#add3f1"/>
<circle cx="324.21" cy="135.86" r="0.55" fill="#add3f1"/>
<circle cx="322.11" cy="137.91" r="0.55" fill="#add3f1"/>
<circle cx="321.64" cy="137.45" r="0.55" fill="#cfe6f7"/>
<circle cx="315.21" cy="137.79" r="0.55" fill="#cfe6f7"/>
<circle cx="316.60" cy="138.27" r="0.55" fill="#add3f1"/>
<circle cx="320.76" cy="133.51" r="0.55" fill="#a3cdef"/>
<circle cx="323.35" cy="138.06" r="0.55" fill="#add3f1"/>
<circle cx="320.45" cy="132.41" r="0.55" fill="#add3f1"/>
<circle cx="314.22" cy="137.19" r="0.55" fill="#add3f1"/>
<circle cx="315.29" cy="134.50" r="0.55" fill="#a3cdef"/>
<circle cx="314.65" cy="133.30" r="0.55" fill="#cfe6f7"/>
<circle cx="316.00" cy="132.21" r="0.55" fill="#b9dbf3"/>
<circle cx="318.49" cy="132.98" r="0.55" fill="#b9dbf3"/>
<circle cx="315.12" cy="131.02" r="0.55" fill="#b9dbf3"/>
<circle cx="322.41" cy="134.62" r="0.55" fill="#cfe6f7"/>
<circle cx="314.27" cy="126.36" r="0.55" fill="#a3cdef"/>
<circle cx="319.26" cy="137.06" r="0.55" fill="#add3f1"/>
<circle cx="317.07" cy="134.36" r="0.55" fill="#b9dbf3"/>
<circle cx="318.28" cy="137.12" r="0.55" fill="#b9dbf3"/>
<circle cx="315.27" cy="135.64" r="0.55" fill="#add3f1"/>
<circle cx="323.48" cy="136.83" r="0.55" fill="#a3cdef"/>
<circle cx="314.22" cy="134.34" r="0.55" fill="#b9dbf3"/>
<circle cx="314.82" cy="138.28" r="0.55" fill="#add3f1"/>
<circle cx="328.72" cy="138.19" r="0.55" fill="#b9dbf3"/>
<circle cx="318.59" cy="136.31" r="0.55" fill="#add3f1"/>
<circle cx="314.24" cy="127.19" r="0.55" fill="#a3cdef"/>
<circle cx="327.52" cy="138.17" r="0.55" fill="#add3f1"/>
<circle cx="316.86" cy="135.84" r="0.55" fill="#a3cdef"/>
<circle cx="314.63" cy="131.48" r="0.55" fill="#add3f1"/>
<circle cx="323.50" cy="134.95" r="0.55" fill="#a3cdef"/>
<circle cx="321.14" cy="138.28" r="0.55" fill="#add3f1"/>
<circle cx="315.00" cy="133.74" r="0.55" fill="#a3cdef"/>
<circle cx="321.71" cy="136.72" r="0.55" fill="#a3cdef"/>
<circle cx="317.27" cy="130.28" r="0.55" fill="#cfe6f7"/>
<circle cx="314.21" cy="136.49" r="0.55" fill="#cfe6f7"/>
<circle cx="315.48" cy="126.49" r="0.55" fill="#cfe6f7"/>
<circle cx="314.99" cy="138.17" r="0.55" fill="#cfe6f7"/>
<circle cx="316.84" cy="132.66" r="0.55" fill="#a3cdef"/>
<circle cx="314.56" cy="128.51" r="0.55" fill="#b9dbf3"/>
<circle cx="314.79" cy="130.89" r="0.55" fill="#cfe6f7"/>
<circle cx="314.60" cy="127.79" r="0.55" fill="#cfe6f7"/>
<circle cx="314.82" cy="130.48" r="0.55" fill="#cfe6f7"/>
<circle cx="324.90" cy="137.80" r="0.55" fill="#a3cdef"/>
<circle cx="314.33" cy="132.50" r="0.55" fill="#add3f1"/>
<circle cx="317.99" cy="135.05" r="0.55" fill="#a3cdef"/>
<circle cx="323.49" cy="136.70" r="0.55" fill="#add3f1"/>
<circle cx="317.96" cy="134.96" r="0.55" fill="#b9dbf3"/>
<circle cx="317.34" cy="135.63" r="0.55" fill="#cfe6f7"/>
<circle cx="314.59" cy="136.26" r="0.55" fill="#add3f1"/>
<circle cx="315.27" cy="136.80" r="0.55" fill="#b9dbf3"/>
<circle cx="323.52" cy="138.11" r="0.55" fill="#add3f1"/>
<circle cx="314.84" cy="133.53" r="0.55" fill="#a3cdef"/>
<circle cx="315.69" cy="136.92" r="0.55" fill="#b9dbf3"/>
<circle cx="316.32" cy="134.31" r="0.55" fill="#a3cdef"/>
<circle cx="321.12" cy="131.49" r="0.55" fill="#cfe6f7"/>
<circle cx="325.26" cy="137.30" r="0.55" fill="#a3cdef"/>
<circle cx="317.30" cy="135.52" r="0.55" fill="#add3f1"/>
<circle cx="315.07" cy="126.89" r="0.55" fill="#b9dbf3"/>
<circle cx="314.27" cy="137.10" r="0.55" fill="#a3cdef"/>
<circle cx="320.87" cy="134.99" r="0.55" fill="#a3cdef"/>
<circle cx="315.38" cy="127.40" r="0.55" fill="#a3cdef"/>
<circle cx="316.75" cy="133.31" r="0.55" fill="#a3cdef"/>
<circle cx="314.33" cy="127.43" r="0.55" fill="#b9dbf3"/>
<circle cx="314.36" cy="135.11" r="0.55" fill="#b9dbf3"/>
<circle cx="326.13" cy="135.72" r="0.55" fill="#a3cdef"/>
<circle cx="326.63" cy="136.51" r="0.55" fill="#cfe6f7"/>
<circle cx="315.03" cy="138.23" r="0.55" fill="#a3cdef"/>
<circle cx="317.30" cy="138.14" r="0.55" fill="#cfe6f7"/>
<circle cx="328.23" cy="138.30" r="0.55" fill="#a3cdef"/>
<circle cx="315.81" cy="137.23" r="0.55" fill="#a3cdef"/>
<circle cx="314.20" cy="133.71" r="0.55" fill="#b9dbf3"/>
<circle cx="314.29" cy="127.24" r="0.55" fill="#b9dbf3"/>
<circle cx="321.39" cy="136.75" r="0.55" fill="#add3f1"/>
<circle cx="324.97" cy="135.59" r="0.55" fill="#a3cdef"/>
<circle cx="315.82" cy="129.22" r="0.55" fill="#a3cdef"/>
<circle cx="327.34" cy="137.43" r="0.55" fill="#b9dbf3"/>
<circle cx="316.08" cy="128.54" r="0.55" fill="#add3f1"/>
<circle cx="327.72" cy="138.00" r="0.55" fill="#cfe6f7"/>
<circle cx="314.31" cy="127.84" r="0.55" fill="#cfe6f7"/>
<circle cx="320.92" cy="137.49" r="0.55" fill="#add3f1"/>
<circle cx="319.09" cy="136.79" r="0.55" fill="#b9dbf3"/>
<circle cx="327.05" cy="137.90" r="0.55" fill="#cfe6f7"/>
<circle cx="314.79" cy="138.19" r="0.55" fill="#b9dbf3"/>
<circle cx="315.98" cy="126.98" r="0.55" fill="#cfe6f7"/>
<circle cx="314.93" cy="134.45" r="0.55" fill="#a3cdef"/>
<circle cx="328.57" cy="138.30" r="0.55" fill="#cfe6f7"/>
<circle cx="315.52" cy="129.45" r="0.55" fill="#b9dbf3"/>
<circle cx="314.34" cy="126.75" r="0.55" fill="#a3cdef"/>
<circle cx="324.79" cy="138.09" r="0.55" fill="#cfe6f7"/>
<circle cx="319.54" cy="134.80" r="0.55" fill="#add3f1"/>
<circle cx="321.52" cy="137.15" r="0.55" fill="#a3cdef"/>
<circle cx="316.44" cy="136.99" r="0.55" fill="#b9dbf3"/>
<circle cx="315.50" cy="137.42" r="0.55" fill="#b9dbf3"/>
<circle cx="326.64" cy="136.32" r="0.55" fill="#cfe6f7"/>
<circle cx="316.17" cy="131.75" r="0.55" fill="#add3f1"/>
<circle cx="317.86" cy="136.83" r="0.55" fill="#b9dbf3"/>
<circle cx="316.06" cy="127.45" r="0.55" fill="#a3cdef"/>
<circle cx="315.97" cy="133.23" r="0.55" fill="#b9dbf3"/>
<circle cx="327.79" cy="138.07" r="0.55" fill="#add3f1"/>
<circle cx="324.15" cy="138.13" r="0.55" fill="#b9dbf3"/>
<circle cx="322.38" cy="133.93" r="0.55" fill="#b9dbf3"/>
<circle cx="324.87" cy="134.55" r="0.55" fill="#add3f1"/>
<circle cx="321.89" cy="132.07" r="0.55" fill="#add3f1"/>
<circle cx="315.38" cy="133.77" r="0.55" fill="#add3f1"/>
<circle cx="314.90" cy="138.00" r="0.55" fill="#b9dbf3"/>
<circle cx="317.13" cy="131.88" r="0.55" fill="#a3cdef"/>
<circle cx="323.42" cy="138.29" r="0.55" fill="#cfe6f7"/>
<circle cx="327.70" cy="138.12" r="0.55" fill="#add3f1"/>
<circle cx="315.50" cy="129.25" r="0.55" fill="#add3f1"/>
<circle cx="326.36" cy="136.65" r="0.55" fill="#b9dbf3"/>
<circle cx="315.88" cy="134.65" r="0.55" fill="#a3cdef"/>
<circle cx="324.79" cy="137.46" r="0.55" fill="#add3f1"/>
<circle cx="324.06" cy="135.13" r="0.55" fill="#cfe6f7"/>
<circle cx="317.54" cy="129.67" r="0.55" fill="#cfe6f7"/>
<circle cx="316.45" cy="131.09" r="0.55" fill="#add3f1"/>
<circle cx="320.43" cy="136.83" r="0.55" fill="#add3f1"/>
<circle cx="318.50" cy="133.89" r="0.55" fill="#add3f1"/>
<circle cx="318.58" cy="137.96" r="0.55" fill="#cfe6f7"/>
<circle cx="329.15" cy="137.65" r="0.55" fill="#a3cdef"/>
<circle cx="314.22" cy="126.36" r="0.55" fill="#b9dbf3"/>
<circle cx="318.50" cy="137.88" r="0.55" fill="#b9dbf3"/>
<circle cx="324.44" cy="137.09" r="0.55" fill="#cfe6f7"/>
<circle cx="321.94" cy="133.48" r="0.55" fill="#add3f1"/>
<circle cx="318.60" cy="138.20" r="0.55" fill="#add3f1"/>
<circle cx="324.49" cy="135.86" r="0.55" fill="#add3f1"/>
<circle cx="326.80" cy="137.99" r="0.55" fill="#a3cdef"/>
<circle cx="323.58" cy="134.22" r="0.55" fill="#a3cdef"/>
<circle cx="316.12" cy="135.31" r="0.55" fill="#b9dbf3"/>
<circle cx="315.90" cy="138.29" r="0.55" fill="#cfe6f7"/>
<circle cx="315.02" cy="135.95" r="0.55" fill="#add3f1"/>
<circle cx="314.38" cy="129.67" r="0.55" fill="#add3f1"/>
<circle cx="316.97" cy="133.73" r="0.55" fill="#a3cdef"/>
<circle cx="315.43" cy="135.71" r="0.55" fill="#b9dbf3"/>
<circle cx="322.83" cy="136.49" r="0.55" fill="#add3f1"/>
<circle cx="319.61" cy="135.99" r="0.55" fill="#add3f1"/>
<circle cx="318.92" cy="130.66" r="0.55" fill="#add3f1"/>
<circle cx="315.29" cy="133.77" r="0.55" fill="#a3cdef"/>
<circle cx="321.38" cy="138.12" r="0.55" fill="#a3cdef"/>
<circle cx="328.28" cy="137.96" r="0.55" fill="#cfe6f7"/>
<circle cx="315.12" cy="130.18" r="0.55" fill="#add3f1"/>
<circle cx="324.32" cy="136.11" r="0.55" fill="#b9dbf3"/>
<circle cx="326.97" cy="138.24" r="0.55" fill="#a3cdef"/>
<circle cx="318.43" cy="132.28" r="0.55" fill="#b9dbf3"/>
<circle cx="326.98" cy="137.23" r="0.55" fill="#b9dbf3"/>
<circle cx="319.72" cy="136.29" r="0.55" fill="#b9dbf3"/>
<circle cx="319.17" cy="134.67" r="0.55" fill="#add3f1"/>
<circle cx="326.66" cy="136.53" r="0.55" fill="#cfe6f7"/>
<circle cx="322.47" cy="133.02" r="0.55" fill="#a3cdef"/>
<circle cx="314.27" cy="129.54" r="0.55" fill="#a3cdef"/>
<circle cx="317.47" cy="131.63" r="0.55" fill="#a3cdef"/>
<circle cx="315.53" cy="134.50" r="0.55" fill="#add3f1"/>
<circle cx="324.54" cy="138.27" r="0.55" fill="#a3cdef"/>
<circle cx="315.49" cy="134.23" r="0.55" fill="#b9dbf3"/>
<circle cx="325.23" cy="137.80" r="0.55" fill="#cfe6f7"/>
<circle cx="324.50" cy="137.79" r="0.55" fill="#add3f1"/>
<circle cx="315.60" cy="133.42" r="0.55" fill="#b9dbf3"/>
<circle cx="320.70" cy="132.14" r="0.55" fill="#add3f1"/>
<circle cx="325.96" cy="137.93" r="0.55" fill="#b9dbf3"/>
<circle cx="322.66" cy="135.37" r="0.55" fill="#a3cdef"/>
<circle cx="316.47" cy="130.72" r="0.55" fill="#add3f1"/>
<circle cx="326.45" cy="137.46" r="0.55" fill="#add3f1"/>
<circle cx="326.96" cy="138.20" r="0.55" fill="#b9dbf3"/>
<circle cx="314.62" cy="129.83" r="0.55" fill="#cfe6f7"/>
<circle cx="315.62" cy="133.01" r="0.55" fill="#cfe6f7"/>
<circle cx="317.96" cy="137.75" r="0.55" fill="#a3cdef"/>
<circle cx="322.85" cy="134.71" r="0.55" fill="#add3f1"/>
<circle cx="314.52" cy="136.61" r="0.55" fill="#cfe6f7"/>
<circle cx="323.95" cy="134.22" r="0.55" fill="#b9dbf3"/>
<circle cx="325.71" cy="137.17" r="0.55" fill="#a3cdef"/>
<circle cx="316.25" cy="134.95" r="0.55" fill="#cfe6f7"/>
<circle cx="314.67" cy="133.89" r="0.55" fill="#cfe6f7"/>
<circle cx="315.01" cy="137.50" r="0.55" fill="#cfe6f7"/>
<circle cx="316.40" cy="138.12" r="0.55" fill="#cfe6f7"/>
<circle cx="317.56" cy="132.40" r="0.55" fill="#b9dbf3"/>
<circle cx="320.65" cy="131.07" r="0.55" fill="#b9dbf3"/>
<circle cx="326.13" cy="136.88" r="0.55" fill="#b9dbf3"/>
<circle cx="326.46" cy="137.55" r="0.55" fill="#cfe6f7"/>
<circle cx="323.91" cy="137.58" r="0.55" fill="#a3cdef"/>
<circle cx="318.42" cy="129.16" r="0.55" fill="#add3f1"/>
<circle cx="319.65" cy="135.28" r="0.55" fill="#add3f1"/>
<circle cx="323.63" cy="137.44" r="0.55" fill="#b9dbf3"/>
<circle cx="324.70" cy="138.29" r="0.55" fill="#a3cdef"/>
<circle cx="315.06" cy="137.38" r="0.55" fill="#a3cdef"/>
<circle cx="315.21" cy="127.11" r="0.55" fill="#cfe6f7"/>
<circle cx="314.21" cy="136.17" r="0.55" fill="#add3f1"/>
<circle cx="319.22" cy="133.15" r="0.55" fill="#cfe6f7"/>
<circle cx="323.31" cy="137.06" r="0.55" fill="#a3cdef"/>
<circle cx="314.94" cy="128.54" r="0.55" fill="#cfe6f7"/>
<circle cx="314.43" cy="138.09" r="0.55" fill="#a3cdef"/>
<circle cx="315.02" cy="134.04" r="0.55" fill="#cfe6f7"/>
<circle cx="327.70" cy="137.39" r="0.55" fill="#b9dbf3"/>
<circle cx="319.04" cy="134.96" r="0.55" fill="#cfe6f7"/>
<circle cx="321.51" cy="134.94" r="0.55" fill="#a3cdef"/>
<circle cx="315.92" cy="137.97" r="0.55" fill="#cfe6f7"/>
<circle cx="314.81" cy="129.64" r="0.55" fill="#cfe6f7"/>
<circle cx="320.32" cy="132.76" r="0.55" fill="#cfe6f7"/>
<circle cx="314.23" cy="127.18" r="0.55" fill="#cfe6f7"/>
<circle cx="316.42" cy="128.38" r="0.55" fill="#b9dbf3"/>
<circle cx="319.58" cy="134.89" r="0.55" fill="#add3f1"/>
<circle cx="324.38" cy="136.17" r="0.55" fill="#cfe6f7"/>
<circle cx="321.12" cy="137.86" r="0.55" fill="#cfe6f7"/>
<circle cx="319.76" cy="136.54" r="0.55" fill="#a3cdef"/>
<circle cx="314.29" cy="137.67" r="0.55" fill="#b9dbf3"/>
<circle cx="317.70" cy="136.95" r="0.55" fill="#add3f1"/>
<circle cx="323.11" cy="138.07" r="0.55" fill="#add3f1"/>
<circle cx="314.20" cy="125.33" r="0.55" fill="#add3f1"/>
<circle cx="315.69" cy="134.02" r="0.55" fill="#a3cdef"/>
<circle cx="314.87" cy="137.11" r="0.55" fill="#add3f1"/>
<circle cx="316.66" cy="130.63" r="0.55" fill="#add3f1"/>
<circle cx="314.22" cy="128.33" r="0.55" fill="#cfe6f7"/>
<circle cx="329.12" cy="138.01" r="0.55" fill="#add3f1"/>
<circle cx="316.17" cy="137.02" r="0.55" fill="#add3f1"/>
<circle cx="314.71" cy="135.98" r="0.55" fill="#b9dbf3"/>
<circle cx="325.23" cy="138.30" r="0.55" fill="#b9dbf3"/>
<circle cx="323.60" cy="135.58" r="0.55" fill="#a3cdef"/>
<circle cx="314.21" cy="138.06" r="0.55" fill="#cfe6f7"/>
<circle cx="322.42" cy="134.99" r="0.55" fill="#cfe6f7"/>
<circle cx="315.69" cy="128.91" r="0.55" fill="#cfe6f7"/>
<circle cx="314.87" cy="134.82" r="0.55" fill="#add3f1"/>
<circle cx="314.40" cy="131.63" r="0.55" fill="#add3f1"/>
<circle cx="314.32" cy="137.32" r="0.55" fill="#b9dbf3"/>
<circle cx="323.13" cy="136.40" r="0.55" fill="#a3cdef"/>
<circle cx="320.86" cy="133.69" r="0.55" fill="#add3f1"/>
<circle cx="319.80" cy="137.58" r="0.55" fill="#add3f1"/>
<circle cx="321.62" cy="138.04" r="0.55" fill="#b9dbf3"/>
<circle cx="315.31" cy="134.67" r="0.55" fill="#cfe6f7"/>
<circle cx="314.40" cy="137.86" r="0.55" fill="#b9dbf3"/>
<circle cx="320.67" cy="133.51" r="0.55" fill="#cfe6f7"/>
<circle cx="316.29" cy="135.56" r="0.55" fill="#add3f1"/>
<circle cx="314.86" cy="133.60" r="0.55" fill="#b9dbf3"/>
<circle cx="319.32" cy="130.50" r="0.55" fill="#add3f1"/>
<circle cx="314.23" cy="127.03" r="0.55" fill="#a3cdef"/>
<circle cx="329.13" cy="138.16" r="0.55" fill="#add3f1"/>
<circle cx="322.21" cy="133.68" r="0.55" fill="#add3f1"/>
<circle cx="320.65" cy="137.13" r="0.55" fill="#b9dbf3"/>
<circle cx="320.10" cy="131.75" r="0.55" fill="#cfe6f7"/>
<circle cx="314.37" cy="134.02" r="0.55" fill="#add3f1"/>
<circle cx="314.21" cy="128.18" r="0.55" fill="#a3cdef"/>
<circle cx="323.42" cy="138.25" r="0.55" fill="#cfe6f7"/>
<circle cx="322.66" cy="134.97" r="0.55" fill="#a3cdef"/>
<circle cx="314.44" cy="133.42" r="0.55" fill="#b9dbf3"/>
<circle cx="321.43" cy="136.97" r="0.55" fill="#a3cdef"/>
<circle cx="318.06" cy="128.92" r="0.55" fill="#a3cdef"/>
<circle cx="320.35" cy="135.54" r="0.55" fill="#add3f1"/>
<circle cx="314.27" cy="137.75" r="0.55" fill="#b9dbf3"/>
<circle cx="325.21" cy="136.00" r="0.55" fill="#a3cdef"/>
<circle cx="324.81" cy="136.57" r="0.55" fill="#a3cdef"/>
<circle cx="319.25" cy="134.93" r="0.55" fill="#cfe6f7"/>
<circle cx="322.42" cy="137.16" r="0.55" fill="#add3f1"/>
<circle cx="317.95" cy="135.14" r="0.55" fill="#cfe6f7"/>
<circle cx="320.86" cy="137.56" r="0.55" fill="#add3f1"/>
<circle cx="314.21" cy="137.96" r="0.55" fill="#b9dbf3"/>
<circle cx="314.69" cy="128.29" r="0.55" fill="#cfe6f7"/>
<circle cx="322.02" cy="134.18" r="0.55" fill="#b9dbf3"/>
<circle cx="317.20" cy="137.96" r="0.55" fill="#add3f1"/>
<circle cx="317.49" cy="130.11" r="0.55" fill="#cfe6f7"/>
<circle cx="318.14" cy="133.45" r="0.55" fill="#b9dbf3"/>
<circle cx="316.33" cy="137.65" r="0.55" fill="#add3f1"/>
<circle cx="320.17" cy="135.63" r="0.55" fill="#cfe6f7"/>
<circle cx="316.02" cy="136.79" r="0.55" fill="#a3cdef"/>
<circle cx="321.57" cy="137.10" r="0.55" fill="#b9dbf3"/>
<circle cx="319.25" cy="137.15" r="0.55" fill="#add3f1"/>
<circle cx="322.83" cy="137.01" r="0.55" fill="#cfe6f7"/>
<circle cx="317.68" cy="129.32" r="0.55" fill="#add3f1"/>
<circle cx="322.05" cy="134.31" r="0.55" fill="#b9dbf3"/>
<circle cx="315.95" cy="129.42" r="0.55" fill="#cfe6f7"/>
<circle cx="316.46" cy="127.40" r="0.55" fill="#a3cdef"/>
<circle cx="326.41" cy="136.92" r="0.55" fill="#cfe6f7"/>
<circle cx="324.72" cy="136.69" r="0.55" fill="#cfe6f7"/>
<circle cx="322.37" cy="138.03" r="0.55" fill="#add3f1"/>
<circle cx="329.06" cy="137.81" r="0.55" fill="#add3f1"/>
<circle cx="314.51" cy="136.77" r="0.55" fill="#b9dbf3"/>
<circle cx="319.23" cy="132.49" r="0.55" fill="#add3f1"/>
<circle cx="314.54" cy="126.30" r="0.55" fill="#b9dbf3"/>
<circle cx="316.02" cy="126.91" r="0.55" fill="#b9dbf3"/>
<circle cx="322.81" cy="136.39" r="0.55" fill="#a3cdef"/>
<circle cx="316.20" cy="137.96" r="0.55" fill="#a3cdef"/>
<circle cx="314.32" cy="131.84" r="0.55" fill="#add3f1"/>
<circle cx="323.30" cy="133.77" r="0.55" fill="#cfe6f7"/>
<circle cx="316.23" cy="128.04" r="0.55" fill="#a3cdef"/>
<circle cx="315.54" cy="127.47" r="0.55" fill="#add3f1"/>
<circle cx="327.04" cy="138.18" r="0.55" fill="#add3f1"/>
<circle cx="380.01" cy="81.42" r="0.55" fill="#cfe6f7"/>
<circle cx="365.43" cy="101.07" r="0.55" fill="#cfe6f7"/>
<circle cx="351.37" cy="113.11" r="0.55" fill="#add3f1"/>
<circle cx="338.49" cy="130.43" r="0.55" fill="#a3cdef"/>
<circle cx="383.88" cy="77.85" r="0.55" fill="#add3f1"/>
<circle cx="371.72" cy="90.68" r="0.55" fill="#b9dbf3"/>
<circle cx="326.83" cy="136.16" r="0.55" fill="#b9dbf3"/>
<circle cx="354.36" cy="107.96" r="0.55" fill="#add3f1"/>
<circle cx="330.24" cy="136.54" r="0.55" fill="#b9dbf3"/>
<circle cx="371.90" cy="93.06" r="0.55" fill="#a3cdef"/>
<circle cx="347.08" cy="123.69" r="0.55" fill="#cfe6f7"/>
<circle cx="320.56" cy="137.62" r="0.55" fill="#b9dbf3"/>
<circle cx="393.06" cy="65.71" r="0.55" fill="#a3cdef"/>
<circle cx="326.05" cy="137.33" r="0.55" fill="#a3cdef"/>
<circle cx="326.10" cy="137.55" r="0.55" fill="#b9dbf3"/>
<circle cx="381.58" cy="82.88" r="0.55" fill="#cfe6f7"/>
<circle cx="321.06" cy="137.07" r="0.55" fill="#a3cdef"/>
<circle cx="349.34" cy="108.59" r="0.55" fill="#b9dbf3"/>
<circle cx="351.94" cy="113.42" r="0.55" fill="#add3f1"/>
<circle cx="347.05" cy="122.17" r="0.55" fill="#a3cdef"/>
<circle cx="330.58" cy="131.54" r="0.55" fill="#b9dbf3"/>
<circle cx="320.57" cy="137.45" r="0.55" fill="#add3f1"/>
<circle cx="319.38" cy="137.36" r="0.55" fill="#a3cdef"/>
<circle cx="341.20" cy="126.02" r="0.55" fill="#b9dbf3"/>
<circle cx="328.95" cy="136.75" r="0.55" fill="#a3cdef"/>
<circle cx="368.30" cy="100.58" r="0.55" fill="#a3cdef"/>
<circle cx="390.68" cy="64.23" r="0.55" fill="#b9dbf3"/>
<circle cx="354.29" cy="106.70" r="0.55" fill="#a3cdef"/>
<circle cx="332.27" cy="136.09" r="0.55" fill="#b9dbf3"/>
<circle cx="360.42" cy="104.54" r="0.55" fill="#b9dbf3"/>
<circle cx="333.16" cy="124.78" r="0.55" fill="#cfe6f7"/>
<circle cx="322.84" cy="137.85" r="0.55" fill="#b9dbf3"/>
<circle cx="327.16" cy="136.98" r="0.55" fill="#b9dbf3"/>
<circle cx="321.17" cy="137.73" r="0.55" fill="#b9dbf3"/>
<circle cx="379.01" cy="91.85" r="0.55" fill="#a3cdef"/>
<circle cx="336.37" cy="120.34" r="0.55" fill="#b9dbf3"/>
<circle cx="364.06" cy="96.58" r="0.55" fill="#cfe6f7"/>
<circle cx="392.75" cy="71.35" r="0.55" fill="#add3f1"/>
<circle cx="362.12" cy="104.03" r="0.55" fill="#add3f1"/>
<circle cx="321.41" cy="138.12" r="0.55" fill="#a3cdef"/>
<circle cx="357.57" cy="107.18" r="0.55" fill="#add3f1"/>
<circle cx="319.40" cy="137.31" r="0.55" fill="#add3f1"/>
<circle cx="369.55" cy="98.63" r="0.55" fill="#cfe6f7"/>
<circle cx="374.98" cy="91.74" r="0.55" fill="#add3f1"/>
<circle cx="347.97" cy="109.17" r="0.55" fill="#a3cdef"/>
<circle cx="372.47" cy="93.97" r="0.55" fill="#cfe6f7"/>
<circle cx="329.78" cy="131.19" r="0.55" fill="#cfe6f7"/>
<circle cx="363.63" cy="95.51" r="0.55" fill="#cfe6f7"/>
<circle cx="379.49" cy="84.15" r="0.55" fill="#cfe6f7"/>
<circle cx="387.91" cy="73.27" r="0.55" fill="#b9dbf3"/>
<circle cx="392.06" cy="75.24" r="0.55" fill="#add3f1"/>
<circle cx="368.30" cy="97.03" r="0.55" fill="#b9dbf3"/>
<circle cx="342.61" cy="121.46" r="0.55" fill="#a3cdef"/>
<circle cx="320.43" cy="136.11" r="0.55" fill="#cfe6f7"/>
<circle cx="368.76" cy="90.30" r="0.55" fill="#add3f1"/>
<circle cx="348.31" cy="113.80" r="0.55" fill="#b9dbf3"/>
<circle cx="329.86" cy="136.53" r="0.55" fill="#cfe6f7"/>
<circle cx="349.03" cy="114.33" r="0.55" fill="#a3cdef"/>
<circle cx="365.60" cy="101.88" r="0.55" fill="#b9dbf3"/>
<circle cx="331.54" cy="134.15" r="0.55" fill="#a3cdef"/>
<circle cx="345.89" cy="117.16" r="0.55" fill="#cfe6f7"/>
<circle cx="319.66" cy="138.29" r="0.55" fill="#b9dbf3"/>
<circle cx="341.91" cy="122.09" r="0.55" fill="#add3f1"/>
<circle cx="370.72" cy="95.58" r="0.55" fill="#b9dbf3"/>
<circle cx="326.30" cy="135.80" r="0.55" fill="#b9dbf3"/>
<circle cx="388.74" cy="70.60" r="0.55" fill="#a3cdef"/>
<circle cx="376.78" cy="88.49" r="0.55" fill="#b9dbf3"/>
<circle cx="333.94" cy="130.03" r="0.55" fill="#add3f1"/>
<circle cx="325.08" cy="137.23" r="0.55" fill="#add3f1"/>
<circle cx="319.49" cy="136.47" r="0.55" fill="#add3f1"/>
<circle cx="364.97" cy="101.10" r="0.55" fill="#b9dbf3"/>
<circle cx="377.59" cy="88.84" r="0.55" fill="#add3f1"/>
<circle cx="378.67" cy="85.97" r="0.55" fill="#a3cdef"/>
<circle cx="386.42" cy="78.63" r="0.55" fill="#a3cdef"/>
<circle cx="320.34" cy="138.06" r="0.55" fill="#cfe6f7"/>
<circle cx="330.85" cy="135.66" r="0.55" fill="#b9dbf3"/>
<circle cx="381.22" cy="84.30" r="0.55" fill="#b9dbf3"/>
<circle cx="326.72" cy="137.63" r="0.55" fill="#add3f1"/>
<circle cx="329.10" cy="134.69" r="0.55" fill="#a3cdef"/>
<circle cx="390.38" cy="72.40" r="0.55" fill="#add3f1"/>
<circle cx="344.47" cy="120.55" r="0.55" fill="#a3cdef"/>
<circle cx="331.91" cy="134.56" r="0.55" fill="#b9dbf3"/>
<circle cx="373.46" cy="93.68" r="0.55" fill="#a3cdef"/>
<circle cx="365.82" cy="98.32" r="0.55" fill="#b9dbf3"/>
<circle cx="366.99" cy="97.94" r="0.55" fill="#b9dbf3"/>
<circle cx="324.01" cy="137.66" r="0.55" fill="#b9dbf3"/>
<circle cx="379.96" cy="83.09" r="0.55" fill="#a3cdef"/>
<circle cx="363.73" cy="103.06" r="0.55" fill="#a3cdef"/>
<circle cx="327.43" cy="138.18" r="0.55" fill="#a3cdef"/>
<circle cx="383.70" cy="75.10" r="0.55" fill="#add3f1"/>
<circle cx="344.05" cy="118.53" r="0.55" fill="#add3f1"/>
<circle cx="387.03" cy="68.67" r="0.55" fill="#cfe6f7"/>
<circle cx="333.63" cy="129.06" r="0.55" fill="#b9dbf3"/>
<circle cx="340.13" cy="129.19" r="0.55" fill="#cfe6f7"/>
<circle cx="345.48" cy="117.51" r="0.55" fill="#cfe6f7"/>
<circle cx="319.62" cy="136.69" r="0.55" fill="#cfe6f7"/>
<circle cx="378.09" cy="86.94" r="0.55" fill="#b9dbf3"/>
<circle cx="329.92" cy="131.61" r="0.55" fill="#b9dbf3"/>
<circle cx="387.34" cy="66.72" r="0.55" fill="#a3cdef"/>
<circle cx="327.78" cy="137.10" r="0.55" fill="#a3cdef"/>
<circle cx="380.70" cy="84.48" r="0.55" fill="#add3f1"/>
<circle cx="341.62" cy="123.43" r="0.55" fill="#a3cdef"/>
<circle cx="380.94" cy="80.82" r="0.55" fill="#cfe6f7"/>
<circle cx="379.11" cy="84.04" r="0.55" fill="#add3f1"/>
<circle cx="333.00" cy="126.60" r="0.55" fill="#cfe6f7"/>
<circle cx="380.94" cy="84.48" r="0.55" fill="#b9dbf3"/>
<circle cx="338.50" cy="120.44" r="0.55" fill="#a3cdef"/>
<circle cx="344.41" cy="117.41" r="0.55" fill="#add3f1"/>
<circle cx="328.98" cy="135.06" r="0.55" fill="#b9dbf3"/>
<circle cx="331.75" cy="132.56" r="0.55" fill="#b9dbf3"/>
<circle cx="349.67" cy="112.87" r="0.55" fill="#cfe6f7"/>
<circle cx="372.47" cy="88.58" r="0.55" fill="#add3f1"/>
<circle cx="344.12" cy="121.29" r="0.55" fill="#add3f1"/>
<circle cx="324.40" cy="137.18" r="0.55" fill="#cfe6f7"/>
<circle cx="352.47" cy="110.80" r="0.55" fill="#cfe6f7"/>
<circle cx="372.90" cy="96.17" r="0.55" fill="#a3cdef"/>
<circle cx="377.40" cy="90.15" r="0.55" fill="#b9dbf3"/>
<circle cx="363.29" cy="99.39" r="0.55" fill="#cfe6f7"/>
<circle cx="346.26" cy="121.36" r="0.55" fill="#b9dbf3"/>
<circle cx="374.05" cy="92.73" r="0.55" fill="#add3f1"/>
<circle cx="328.73" cy="133.36" r="0.55" fill="#b9dbf3"/>
<circle cx="353.96" cy="108.98" r="0.55" fill="#b9dbf3"/>
<circle cx="379.13" cy="83.71" r="0.55" fill="#add3f1"/>
<circle cx="385.68" cy="78.20" r="0.55" fill="#b9dbf3"/>
<circle cx="375.01" cy="88.78" r="0.55" fill="#cfe6f7"/>
<circle cx="350.68" cy="117.35" r="0.55" fill="#b9dbf3"/>
<circle cx="370.55" cy="92.28" r="0.55" fill="#add3f1"/>
<circle cx="325.58" cy="137.56" r="0.55" fill="#b9dbf3"/>
<circle cx="346.81" cy="118.59" r="0.55" fill="#cfe6f7"/>
<circle cx="319.93" cy="134.78" r="0.55" fill="#add3f1"/>
<circle cx="349.51" cy="117.24" r="0.55" fill="#a3cdef"/>
<circle cx="357.17" cy="107.91" r="0.55" fill="#b9dbf3"/>
<circle cx="374.90" cy="89.80" r="0.55" fill="#b9dbf3"/>
<circle cx="367.15" cy="96.87" r="0.55" fill="#b9dbf3"/>
<circle cx="321.08" cy="136.44" r="0.55" fill="#add3f1"/>
<circle cx="360.28" cy="101.23" r="0.55" fill="#cfe6f7"/>
<circle cx="365.77" cy="95.89" r="0.55" fill="#add3f1"/>
<circle cx="342.25" cy="118.12" r="0.55" fill="#cfe6f7"/>
<circle cx="347.63" cy="111.02" r="0.55" fill="#cfe6f7"/>
<circle cx="342.89" cy="121.93" r="0.55" fill="#b9dbf3"/>
<circle cx="319.96" cy="137.89" r="0.55" fill="#b9dbf3"/>
<circle cx="359.48" cy="107.38" r="0.55" fill="#add3f1"/>
<circle cx="357.80" cy="108.71" r="0.55" fill="#add3f1"/>
<circle cx="357.75" cy="106.22" r="0.55" fill="#a3cdef"/>
<circle cx="339.14" cy="131.08" r="0.55" fill="#add3f1"/>
<circle cx="388.26" cy="72.52" r="0.55" fill="#cfe6f7"/>
<circle cx="319.43" cy="135.73" r="0.55" fill="#a3cdef"/>
<circle cx="357.22" cy="103.44" r="0.55" fill="#b9dbf3"/>
<circle cx="356.10" cy="106.69" r="0.55" fill="#cfe6f7"/>
<circle cx="330.30" cy="136.77" r="0.55" fill="#add3f1"/>
<circle cx="362.63" cy="104.34" r="0.55" fill="#add3f1"/>
<circle cx="366.53" cy="97.88" r="0.55" fill="#a3cdef"/>
<circle cx="366.10" cy="101.56" r="0.55" fill="#b9dbf3"/>
<circle cx="342.63" cy="122.04" r="0.55" fill="#a3cdef"/>
<circle cx="319.66" cy="137.22" r="0.55" fill="#b9dbf3"/>
<circle cx="387.98" cy="75.67" r="0.55" fill="#add3f1"/>
<circle cx="385.02" cy="75.58" r="0.55" fill="#a3cdef"/>
<circle cx="382.96" cy="80.81" r="0.55" fill="#add3f1"/>
<circle cx="359.03" cy="102.73" r="0.55" fill="#b9dbf3"/>
<circle cx="365.65" cy="94.58" r="0.55" fill="#add3f1"/>
<circle cx="351.63" cy="112.14" r="0.55" fill="#a3cdef"/>
<circle cx="319.29" cy="136.91" r="0.55" fill="#add3f1"/>
<circle cx="328.45" cy="134.90" r="0.55" fill="#cfe6f7"/>
<circle cx="330.51" cy="133.69" r="0.55" fill="#add3f1"/>
<circle cx="355.43" cy="108.90" r="0.55" fill="#b9dbf3"/>
<circle cx="379.43" cy="79.86" r="0.55" fill="#b9dbf3"/>
<circle cx="382.25" cy="85.60" r="0.55" fill="#a3cdef"/>
<circle cx="324.60" cy="135.42" r="0.55" fill="#add3f1"/>
<circle cx="358.45" cy="105.23" r="0.55" fill="#add3f1"/>
<circle cx="375.86" cy="86.21" r="0.55" fill="#cfe6f7"/>
<circle cx="342.38" cy="115.48" r="0.55" fill="#cfe6f7"/>
<circle cx="379.99" cy="91.60" r="0.55" fill="#b9dbf3"/>
<circle cx="359.19" cy="106.18" r="0.55" fill="#add3f1"/>
<circle cx="326.42" cy="137.71" r="0.55" fill="#cfe6f7"/>
<circle cx="368.29" cy="102.30" r="0.55" fill="#cfe6f7"/>
<circle cx="353.22" cy="113.00" r="0.55" fill="#add3f1"/>
<circle cx="357.38" cy="105.33" r="0.55" fill="#b9dbf3"/>
<circle cx="349.46" cy="111.07" r="0.55" fill="#cfe6f7"/>
<circle cx="353.55" cy="112.75" r="0.55" fill="#cfe6f7"/>
<circle cx="375.24" cy="90.46" r="0.55" fill="#add3f1"/>
<circle cx="375.90" cy="81.06" r="0.55" fill="#b9dbf3"/>
<circle cx="371.89" cy="94.20" r="0.55" fill="#cfe6f7"/>
<circle cx="383.71" cy="85.46" r="0.55" fill="#add3f1"/>
<circle cx="322.86" cy="137.59" r="0.55" fill="#cfe6f7"/>
<circle cx="339.35" cy="121.28" r="0.55" fill="#b9dbf3"/>
<circle cx="341.01" cy="121.75" r="0.55" fill="#add3f1"/>
<circle cx="322.30" cy="137.99" r="0.55" fill="#b9dbf3"/>
<circle cx="335.52" cy="125.37" r="0.55" fill="#b9dbf3"/>
<circle cx="387.20" cy="76.51" r="0.55" fill="#add3f1"/>
<circle cx="375.28" cy="88.27" r="0.55" fill="#cfe6f7"/>
<circle cx="389.02" cy="72.30" r="0.55" fill="#a3cdef"/>
<circle cx="339.71" cy="127.55" r="0.55" fill="#add3f1"/>
<circle cx="345.67" cy="116.23" r="0.55" fill="#cfe6f7"/>
<circle cx="326.88" cy="133.79" r="0.55" fill="#b9dbf3"/>
<circle cx="383.33" cy="81.55" r="0.55" fill="#b9dbf3"/>
<circle cx="349.09" cy="117.82" r="0.55" fill="#add3f1"/>
<circle cx="328.87" cy="136.32" r="0.55" fill="#add3f1"/>
<circle cx="330.55" cy="128.91" r="0.55" fill="#b9dbf3"/>
<circle cx="349.90" cy="108.89" r="0.55" fill="#cfe6f7"/>
<circle cx="382.43" cy="80.10" r="0.55" fill="#cfe6f7"/>
<circle cx="320.37" cy="134.99" r="0.55" fill="#a3cdef"/>
<circle cx="372.56" cy="95.53" r="0.55" fill="#b9dbf3"/>
<circle cx="357.74" cy="107.88" r="0.55" fill="#a3cdef"/>
<circle cx="319.63" cy="136.93" r="0.55" fill="#add3f1"/>
<circle cx="335.97" cy="125.81" r="0.55" fill="#cfe6f7"/>
<circle cx="347.83" cy="110.72" r="0.55" fill="#b9dbf3"/>
<circle cx="319.29" cy="137.28" r="0.55" fill="#add3f1"/>
<circle cx="343.76" cy="117.02" r="0.55" fill="#cfe6f7"/>
<circle cx="352.31" cy="116.55" r="0.55" fill="#a3cdef"/>
<circle cx="320.01" cy="137.18" r="0.55" fill="#a3cdef"/>
<circle cx="319.85" cy="136.15" r="0.55" fill="#b9dbf3"/>
<circle cx="365.83" cy="92.19" r="0.55" fill="#a3cdef"/>
<circle cx="338.71" cy="125.01" r="0.55" fill="#a3cdef"/>
<circle cx="384.71" cy="76.91" r="0.55" fill="#a3cdef"/>
<circle cx="321.97" cy="138.11" r="0.55" fill="#add3f1"/>
<circle cx="334.82" cy="131.94" r="0.55" fill="#add3f1"/>
<circle cx="356.28" cy="104.51" r="0.55" fill="#a3cdef"/>
<circle cx="356.54" cy="106.41" r="0.55" fill="#add3f1"/>
<circle cx="341.27" cy="121.78" r="0.55" fill="#cfe6f7"/>
<circle cx="319.56" cy="136.59" r="0.55" fill="#add3f1"/>
<circle cx="324.24" cy="136.78" r="0.55" fill="#add3f1"/>
<circle cx="375.78" cy="88.04" r="0.55" fill="#cfe6f7"/>
<circle cx="327.20" cy="136.10" r="0.55" fill="#cfe6f7"/>
<circle cx="355.20" cy="109.22" r="0.55" fill="#add3f1"/>
<circle cx="390.36" cy="72.39" r="0.55" fill="#add3f1"/>
<circle cx="336.74" cy="131.89" r="0.55" fill="#add3f1"/>
<circle cx="323.70" cy="137.68" r="0.55" fill="#a3cdef"/>
<circle cx="323.11" cy="137.10" r="0.55" fill="#a3cdef"/>
<circle cx="334.55" cy="132.90" r="0.55" fill="#b9dbf3"/>
<circle cx="321.56" cy="134.23" r="0.55" fill="#add3f1"/>
<circle cx="361.39" cy="100.31" r="0.55" fill="#add3f1"/>
<circle cx="366.14" cy="91.72" r="0.55" fill="#a3cdef"/>
<circle cx="361.96" cy="98.01" r="0.55" fill="#a3cdef"/>
<circle cx="368.92" cy="99.90" r="0.55" fill="#b9dbf3"/>
<circle cx="328.42" cy="131.16" r="0.55" fill="#add3f1"/>
<circle cx="327.31" cy="136.56" r="0.55" fill="#cfe6f7"/>
<circle cx="331.35" cy="135.60" r="0.55" fill="#add3f1"/>
<circle cx="377.49" cy="84.17" r="0.55" fill="#cfe6f7"/>
<circle cx="344.21" cy="118.91" r="0.55" fill="#cfe6f7"/>
<circle cx="374.76" cy="87.46" r="0.55" fill="#cfe6f7"/>
<circle cx="343.81" cy="124.61" r="0.55" fill="#add3f1"/>
<circle cx="364.55" cy="92.05" r="0.55" fill="#add3f1"/>
<circle cx="362.09" cy="102.50" r="0.55" fill="#a3cdef"/>
<circle cx="352.48" cy="108.52" r="0.55" fill="#cfe6f7"/>
<circle cx="378.26" cy="91.18" r="0.55" fill="#add3f1"/>
<circle cx="346.43" cy="122.00" r="0.55" fill="#cfe6f7"/>
<circle cx="320.85" cy="137.89" r="0.55" fill="#add3f1"/>
<circle cx="387.30" cy="65.67" r="0.55" fill="#cfe6f7"/>
<circle cx="384.92" cy="76.40" r="0.55" fill="#add3f1"/>
<circle cx="377.50" cy="88.62" r="0.55" fill="#b9dbf3"/>
<circle cx="336.45" cy="129.90" r="0.55" fill="#b9dbf3"/>
<circle cx="328.52" cy="138.01" r="0.55" fill="#b9dbf3"/>
<circle cx="376.90" cy="91.89" r="0.55" fill="#a3cdef"/>
<circle cx="322.48" cy="138.22" r="0.55" fill="#a3cdef"/>
<circle cx="386.89" cy="73.30" r="0.55" fill="#add3f1"/>
<circle cx="363.47" cy="98.36" r="0.55" fill="#add3f1"/>
<circle cx="327.64" cy="129.18" r="0.55" fill="#b9dbf3"/>
<circle cx="364.30" cy="100.54" r="0.55" fill="#add3f1"/>
<circle cx="380.39" cy="82.17" r="0.55" fill="#cfe6f7"/>
<circle cx="329.83" cy="137.46" r="0.55" fill="#add3f1"/>
<circle cx="361.25" cy="102.64" r="0.55" fill="#a3cdef"/>
<circle cx="335.11" cy="126.16" r="0.55" fill="#add3f1"/>
<circle cx="345.60" cy="117.81" r="0.55" fill="#b9dbf3"/>
<circle cx="351.50" cy="115.70" r="0.55" fill="#a3cdef"/>
<circle cx="360.05" cy="107.52" r="0.55" fill="#a3cdef"/>
<circle cx="347.63" cy="118.73" r="0.55" fill="#a3cdef"/>
<circle cx="347.78" cy="120.33" r="0.55" fill="#a3cdef"/>
<circle cx="326.73" cy="136.46" r="0.55" fill="#a3cdef"/>
<circle cx="340.51" cy="121.63" r="0.55" fill="#a3cdef"/>
<circle cx="387.47" cy="72.23" r="0.55" fill="#cfe6f7"/>
<circle cx="322.68" cy="137.78" r="0.55" fill="#cfe6f7"/>
<circle cx="333.30" cy="137.43" r="0.55" fill="#add3f1"/>
<circle cx="347.09" cy="115.35" r="0.55" fill="#add3f1"/>
<circle cx="321.24" cy="135.98" r="0.55" fill="#cfe6f7"/>
<circle cx="375.70" cy="86.37" r="0.55" fill="#a3cdef"/>
<circle cx="319.71" cy="137.58" r="0.55" fill="#cfe6f7"/>
<circle cx="343.94" cy="121.60" r="0.55" fill="#a3cdef"/>
<circle cx="385.62" cy="73.54" r="0.55" fill="#b9dbf3"/>
<circle cx="372.36" cy="91.47" r="0.55" fill="#a3cdef"/>
<circle cx="325.04" cy="136.69" r="0.55" fill="#b9dbf3"/>
<circle cx="321.79" cy="137.81" r="0.55" fill="#cfe6f7"/>
<circle cx="341.35" cy="122.33" r="0.55" fill="#b9dbf3"/>
<circle cx="332.01" cy="136.03" r="0.55" fill="#cfe6f7"/>
<circle cx="322.73" cy="136.99" r="0.55" fill="#a3cdef"/>
<circle cx="366.36" cy="98.66" r="0.55" fill="#b9dbf3"/>
<circle cx="388.93" cy="78.62" r="0.55" fill="#a3cdef"/>
<circle cx="382.08" cy="81.36" r="0.55" fill="#add3f1"/>
<circle cx="361.76" cy="100.67" r="0.55" fill="#cfe6f7"/>
<circle cx="340.62" cy="127.34" r="0.55" fill="#b9dbf3"/>
<circle cx="359.23" cy="98.50" r="0.55" fill="#cfe6f7"/>
<circle cx="350.97" cy="109.33" r="0.55" fill="#cfe6f7"/>
<circle cx="329.19" cy="130.30" r="0.55" fill="#b9dbf3"/>
<circle cx="390.85" cy="65.95" r="0.55" fill="#a3cdef"/>
<circle cx="331.38" cy="134.09" r="0.55" fill="#b9dbf3"/>
<circle cx="349.91" cy="112.34" r="0.55" fill="#cfe6f7"/>
<circle cx="339.37" cy="125.71" r="0.55" fill="#add3f1"/>
<circle cx="366.07" cy="100.49" r="0.55" fill="#b9dbf3"/>
<circle cx="358.39" cy="103.08" r="0.55" fill="#b9dbf3"/>
<circle cx="363.18" cy="97.20" r="0.55" fill="#b9dbf3"/>
<circle cx="388.33" cy="71.72" r="0.55" fill="#cfe6f7"/>
<circle cx="379.90" cy="77.93" r="0.55" fill="#b9dbf3"/>
<circle cx="344.70" cy="118.95" r="0.55" fill="#cfe6f7"/>
<circle cx="333.54" cy="136.48" r="0.55" fill="#add3f1"/>
<circle cx="320.76" cy="137.66" r="0.55" fill="#add3f1"/>
<circle cx="321.33" cy="136.94" r="0.55" fill="#cfe6f7"/>
<circle cx="380.10" cy="86.48" r="0.55" fill="#b9dbf3"/>
<circle cx="339.46" cy="121.48" r="0.55" fill="#a3cdef"/>
<circle cx="353.24" cy="113.60" r="0.55" fill="#b9dbf3"/>
<circle cx="328.76" cy="130.52" r="0.55" fill="#cfe6f7"/>
<circle cx="327.70" cy="136.31" r="0.55" fill="#b9dbf3"/>
<circle cx="348.02" cy="116.80" r="0.55" fill="#b9dbf3"/>
<circle cx="353.20" cy="111.58" r="0.55" fill="#add3f1"/>
<circle cx="320.21" cy="136.98" r="0.55" fill="#add3f1"/>
<circle cx="381.72" cy="84.33" r="0.55" fill="#b9dbf3"/>
<circle cx="337.09" cy="124.61" r="0.55" fill="#add3f1"/>
<circle cx="364.78" cy="102.74" r="0.55" fill="#b9dbf3"/>
<circle cx="320.84" cy="137.30" r="0.55" fill="#a3cdef"/>
<circle cx="328.72" cy="132.88" r="0.55" fill="#add3f1"/>
<circle cx="333.45" cy="133.82" r="0.55" fill="#add3f1"/>
<circle cx="321.52" cy="138.21" r="0.55" fill="#a3cdef"/>
<circle cx="383.44" cy="76.49" r="0.55" fill="#cfe6f7"/>
<circle cx="352.15" cy="108.50" r="0.55" fill="#a3cdef"/>
<circle cx="343.07" cy="121.37" r="0.55" fill="#add3f1"/>
<circle cx="393.18" cy="74.93" r="0.55" fill="#a3cdef"/>
<circle cx="341.22" cy="118.43" r="0.55" fill="#b9dbf3"/>
<circle cx="371.30" cy="90.09" r="0.55" fill="#b9dbf3"/>
<circle cx="375.87" cy="89.33" r="0.55" fill="#cfe6f7"/>
<circle cx="343.46" cy="117.61" r="0.55" fill="#cfe6f7"/>
<circle cx="340.69" cy="124.56" r="0.55" fill="#add3f1"/>
<circle cx="342.10" cy="120.43" r="0.55" fill="#b9dbf3"/>
<circle cx="322.03" cy="135.95" r="0.55" fill="#add3f1"/>
<circle cx="327.95" cy="136.66" r="0.55" fill="#add3f1"/>
<circle cx="391.52" cy="68.67" r="0.55" fill="#cfe6f7"/>
<circle cx="383.96" cy="78.02" r="0.55" fill="#b9dbf3"/>
<circle cx="355.67" cy="110.77" r="0.55" fill="#b9dbf3"/>
<circle cx="356.69" cy="103.35" r="0.55" fill="#b9dbf3"/>
<circle cx="338.04" cy="124.12" r="0.55" fill="#a3cdef"/>
<circle cx="321.14" cy="138.03" r="0.55" fill="#add3f1"/>
<circle cx="352.67" cy="109.51" r="0.55" fill="#b9dbf3"/>
<circle cx="375.61" cy="87.10" r="0.55" fill="#a3cdef"/>
<circle cx="386.80" cy="79.03" r="0.55" fill="#b9dbf3"/>
<circle cx="352.94" cy="110.80" r="0.55" fill="#cfe6f7"/>
<circle cx="376.63" cy="87.63" r="0.55" fill="#b9dbf3"/>
<circle cx="319.55" cy="137.75" r="0.55" fill="#add3f1"/>
<circle cx="340.97" cy="126.03" r="0.55" fill="#cfe6f7"/>
<circle cx="320.36" cy="137.45" r="0.55" fill="#b9dbf3"/>
<circle cx="322.54" cy="137.35" r="0.55" fill="#cfe6f7"/>
<circle cx="364.06" cy="105.71" r="0.55" fill="#a3cdef"/>
<circle cx="392.76" cy="79.80" r="0.55" fill="#cfe6f7"/>
<circle cx="393.25" cy="65.09" r="0.55" fill="#cfe6f7"/>
<circle cx="327.79" cy="137.62" r="0.55" fill="#a3cdef"/>
<circle cx="350.37" cy="117.02" r="0.55" fill="#a3cdef"/>
<circle cx="366.54" cy="101.38" r="0.55" fill="#add3f1"/>
<circle cx="375.65" cy="84.87" r="0.55" fill="#add3f1"/>
<circle cx="380.41" cy="84.71" r="0.55" fill="#add3f1"/>
<circle cx="319.38" cy="136.70" r="0.55" fill="#cfe6f7"/>
<circle cx="350.78" cy="118.72" r="0.55" fill="#add3f1"/>
<circle cx="382.52" cy="83.98" r="0.55" fill="#b9dbf3"/>
<circle cx="362.42" cy="101.45" r="0.55" fill="#add3f1"/>
<circle cx="335.29" cy="125.93" r="0.55" fill="#b9dbf3"/>
<circle cx="385.25" cy="75.18" r="0.55" fill="#add3f1"/>
<circle cx="330.97" cy="130.70" r="0.55" fill="#add3f1"/>
<circle cx="355.26" cy="110.71" r="0.55" fill="#a3cdef"/>
<circle cx="323.11" cy="137.01" r="0.55" fill="#add3f1"/>
<circle cx="365.64" cy="94.02" r="0.55" fill="#add3f1"/>
<circle cx="334.36" cy="130.91" r="0.55" fill="#b9dbf3"/>
<circle cx="351.05" cy="113.34" r="0.55" fill="#cfe6f7"/>
<circle cx="343.91" cy="117.26" r="0.55" fill="#b9dbf3"/>
<circle cx="327.86" cy="136.42" r="0.55" fill="#cfe6f7"/>
<circle cx="383.71" cy="80.91" r="0.55" fill="#b9dbf3"/>
<circle cx="329.90" cy="136.04" r="0.55" fill="#cfe6f7"/>
<circle cx="341.09" cy="124.94" r="0.55" fill="#b9dbf3"/>
<circle cx="388.94" cy="71.84" r="0.55" fill="#a3cdef"/>
<circle cx="355.16" cy="111.04" r="0.55" fill="#add3f1"/>
<circle cx="356.30" cy="105.43" r="0.55" fill="#a3cdef"/>
<circle cx="340.00" cy="124.41" r="0.55" fill="#add3f1"/>
<circle cx="390.97" cy="73.04" r="0.55" fill="#a3cdef"/>
<circle cx="367.44" cy="95.57" r="0.55" fill="#b9dbf3"/>
<circle cx="334.19" cy="130.42" r="0.55" fill="#add3f1"/>
<circle cx="323.53" cy="137.48" r="0.55" fill="#b9dbf3"/>
<circle cx="340.12" cy="125.00" r="0.55" fill="#cfe6f7"/>
<circle cx="344.06" cy="116.57" r="0.55" fill="#add3f1"/>
<circle cx="342.62" cy="118.19" r="0.55" fill="#add3f1"/>
<circle cx="332.37" cy="128.92" r="0.55" fill="#cfe6f7"/>
<circle cx="343.41" cy="125.28" r="0.55" fill="#b9dbf3"/>
<circle cx="344.37" cy="113.77" r="0.55" fill="#cfe6f7"/>
<circle cx="372.84" cy="96.00" r="0.55" fill="#a3cdef"/>
<circle cx="340.63" cy="125.07" r="0.55" fill="#a3cdef"/>
<circle cx="336.48" cy="135.89" r="0.55" fill="#a3cdef"/>
<circle cx="366.85" cy="96.29" r="0.55" fill="#b9dbf3"/>
<circle cx="339.79" cy="125.54" r="0.55" fill="#b9dbf3"/>
<circle cx="350.55" cy="111.70" r="0.55" fill="#add3f1"/>
<circle cx="392.63" cy="72.09" r="0.55" fill="#b9dbf3"/>
<circle cx="352.13" cy="116.39" r="0.55" fill="#cfe6f7"/>
<circle cx="343.08" cy="121.76" r="0.55" fill="#a3cdef"/>
<circle cx="332.12" cy="137.45" r="0.55" fill="#cfe6f7"/>
<circle cx="388.48" cy="68.35" r="0.55" fill="#cfe6f7"/>
<circle cx="332.84" cy="137.51" r="0.55" fill="#a3cdef"/>
<circle cx="340.86" cy="121.54" r="0.55" fill="#add3f1"/>
<circle cx="352.68" cy="115.43" r="0.55" fill="#cfe6f7"/>
<circle cx="323.12" cy="136.74" r="0.55" fill="#add3f1"/>
<circle cx="390.85" cy="73.24" r="0.55" fill="#cfe6f7"/>
<circle cx="384.79" cy="76.87" r="0.55" fill="#add3f1"/>
<circle cx="330.90" cy="130.50" r="0.55" fill="#add3f1"/>
<circle cx="359.13" cy="101.98" r="0.55" fill="#cfe6f7"/>
<circle cx="322.93" cy="137.24" r="0.55" fill="#a3cdef"/>
<circle cx="347.71" cy="117.67" r="0.55" fill="#a3cdef"/>
<circle cx="384.06" cy="81.42" r="0.55" fill="#b9dbf3"/>
<circle cx="342.65" cy="117.00" r="0.55" fill="#cfe6f7"/>
<circle cx="337.47" cy="124.00" r="0.55" fill="#cfe6f7"/>
<circle cx="329.73" cy="134.80" r="0.55" fill="#add3f1"/>
<circle cx="369.81" cy="91.72" r="0.55" fill="#b9dbf3"/>
<circle cx="347.24" cy="121.19" r="0.55" fill="#b9dbf3"/>
<circle cx="359.29" cy="105.53" r="0.55" fill="#cfe6f7"/>
<circle cx="334.56" cy="129.44" r="0.55" fill="#cfe6f7"/>
<circle cx="326.89" cy="138.23" r="0.55" fill="#b9dbf3"/>
<circle cx="320.71" cy="138.11" r="0.55" fill="#b9dbf3"/>
<circle cx="339.65" cy="128.85" r="0.55" fill="#a3cdef"/>
<circle cx="365.73" cy="98.81" r="0.55" fill="#a3cdef"/>
<circle cx="368.11" cy="92.17" r="0.55" fill="#b9dbf3"/>
<circle cx="351.78" cy="110.76" r="0.55" fill="#b9dbf3"/>
<circle cx="319.29" cy="138.07" r="0.55" fill="#b9dbf3"/>
<circle cx="332.30" cy="132.14" r="0.55" fill="#b9dbf3"/>
<circle cx="338.12" cy="134.05" r="0.55" fill="#b9dbf3"/>
<circle cx="359.15" cy="103.54" r="0.55" fill="#b9dbf3"/>
<circle cx="320.85" cy="135.34" r="0.55" fill="#a3cdef"/>
<circle cx="332.59" cy="124.86" r="0.55" fill="#cfe6f7"/>
<circle cx="374.19" cy="89.51" r="0.55" fill="#cfe6f7"/>
<circle cx="385.28" cy="76.34" r="0.55" fill="#cfe6f7"/>
<circle cx="329.17" cy="133.96" r="0.55" fill="#a3cdef"/>
<circle cx="349.13" cy="114.60" r="0.55" fill="#b9dbf3"/>
<circle cx="354.09" cy="107.36" r="0.55" fill="#b9dbf3"/>
<circle cx="356.87" cy="109.53" r="0.55" fill="#b9dbf3"/>
<circle cx="320.13" cy="137.78" r="0.55" fill="#add3f1"/>
<circle cx="321.90" cy="137.72" r="0.55" fill="#add3f1"/>
<circle cx="321.96" cy="135.45" r="0.55" fill="#cfe6f7"/>
<circle cx="382.15" cy="70.74" r="0.55" fill="#cfe6f7"/>
<circle cx="358.35" cy="104.14" r="0.55" fill="#cfe6f7"/>
<circle cx="362.75" cy="111.07" r="0.55" fill="#add3f1"/>
<circle cx="331.17" cy="132.81" r="0.55" fill="#b9dbf3"/>
<circle cx="369.22" cy="99.55" r="0.55" fill="#add3f1"/>
<circle cx="338.41" cy="126.94" r="0.55" fill="#cfe6f7"/>
<circle cx="328.11" cy="138.11" r="0.55" fill="#a3cdef"/>
<circle cx="332.30" cy="129.94" r="0.55" fill="#a3cdef"/>
<circle cx="382.03" cy="85.73" r="0.55" fill="#b9dbf3"/>
<circle cx="393.33" cy="67.97" r="0.55" fill="#cfe6f7"/>
<circle cx="378.67" cy="81.77" r="0.55" fill="#add3f1"/>
<circle cx="328.73" cy="135.98" r="0.55" fill="#add3f1"/>
<circle cx="376.78" cy="91.89" r="0.55" fill="#b9dbf3"/>
<circle cx="328.08" cy="134.13" r="0.55" fill="#b9dbf3"/>
<circle cx="324.38" cy="138.26" r="0.55" fill="#a3cdef"/>
<circle cx="358.97" cy="106.38" r="0.55" fill="#b9dbf3"/>
<circle cx="327.29" cy="129.94" r="0.55" fill="#b9dbf3"/>
<circle cx="331.97" cy="134.70" r="0.55" fill="#cfe6f7"/>
<circle cx="387.31" cy="78.95" r="0.55" fill="#a3cdef"/>
<circle cx="390.92" cy="70.19" r="0.55" fill="#cfe6f7"/>
<circle cx="360.68" cy="103.30" r="0.55" fill="#a3cdef"/>
<circle cx="341.09" cy="127.16" r="0.55" fill="#add3f1"/>
<circle cx="374.87" cy="87.81" r="0.55" fill="#cfe6f7"/>
<circle cx="347.61" cy="119.34" r="0.55" fill="#b9dbf3"/>
<circle cx="361.03" cy="100.10" r="0.55" fill="#add3f1"/>
<circle cx="331.89" cy="137.46" r="0.55" fill="#a3cdef"/>
<circle cx="329.36" cy="134.92" r="0.55" fill="#a3cdef"/>
<circle cx="374.31" cy="89.97" r="0.55" fill="#a3cdef"/>
<circle cx="376.41" cy="84.11" r="0.55" fill="#a3cdef"/>
<circle cx="343.52" cy="120.80" r="0.55" fill="#a3cdef"/>
<circle cx="361.34" cy="100.92" r="0.55" fill="#a3cdef"/>
<circle cx="390.21" cy="73.30" r="0.55" fill="#b9dbf3"/>
<circle cx="325.80" cy="136.36" r="0.55" fill="#add3f1"/>
<circle cx="320.30" cy="137.69" r="0.55" fill="#b9dbf3"/>
<circle cx="358.16" cy="105.84" r="0.55" fill="#a3cdef"/>
<circle cx="367.26" cy="92.27" r="0.55" fill="#a3cdef"/>
<circle cx="352.83" cy="113.53" r="0.55" fill="#b9dbf3"/>
<circle cx="319.45" cy="136.95" r="0.55" fill="#b9dbf3"/>
<circle cx="326.51" cy="134.65" r="0.55" fill="#a3cdef"/>
<circle cx="363.11" cy="94.25" r="0.55" fill="#cfe6f7"/>
<circle cx="345.19" cy="119.90" r="0.55" fill="#cfe6f7"/>
<circle cx="370.74" cy="95.70" r="0.55" fill="#a3cdef"/>
<circle cx="361.45" cy="102.63" r="0.55" fill="#cfe6f7"/>
<circle cx="380.88" cy="80.90" r="0.55" fill="#cfe6f7"/>
<circle cx="326.64" cy="136.36" r="0.55" fill="#a3cdef"/>
<circle cx="370.20" cy="96.73" r="0.55" fill="#b9dbf3"/>
<circle cx="388.18" cy="75.68" r="0.55" fill="#cfe6f7"/>
<circle cx="378.43" cy="82.95" r="0.55" fill="#a3cdef"/>
<circle cx="321.37" cy="138.01" r="0.55" fill="#add3f1"/>
<circle cx="342.78" cy="118.48" r="0.55" fill="#b9dbf3"/>
<circle cx="335.64" cy="127.20" r="0.55" fill="#cfe6f7"/>
<circle cx="346.39" cy="118.29" r="0.55" fill="#a3cdef"/>
<circle cx="383.07" cy="83.13" r="0.55" fill="#b9dbf3"/>
<circle cx="390.40" cy="69.24" r="0.55" fill="#add3f1"/>
<circle cx="339.67" cy="123.77" r="0.55" fill="#b9dbf3"/>
<circle cx="354.97" cy="100.67" r="0.55" fill="#add3f1"/>
<circle cx="375.41" cy="84.92" r="0.55" fill="#add3f1"/>
<circle cx="327.82" cy="135.45" r="0.55" fill="#add3f1"/>
<circle cx="319.99" cy="136.12" r="0.55" fill="#b9dbf3"/>
<circle cx="333.99" cy="129.37" r="0.55" fill="#b9dbf3"/>
<circle cx="346.80" cy="114.48" r="0.55" fill="#b9dbf3"/>
<circle cx="384.53" cy="78.15" r="0.55" fill="#a3cdef"/>
<circle cx="337.03" cy="125.72" r="0.55" fill="#add3f1"/>
<circle cx="361.18" cy="105.90" r="0.55" fill="#cfe6f7"/>
<circle cx="340.89" cy="127.16" r="0.55" fill="#b9dbf3"/>
<circle cx="319.34" cy="135.49" r="0.55" fill="#b9dbf3"/>
<circle cx="339.93" cy="129.69" r="0.55" fill="#cfe6f7"/>
<circle cx="351.64" cy="112.08" r="0.55" fill="#cfe6f7"/>
<circle cx="376.26" cy="83.31" r="0.55" fill="#b9dbf3"/>
<circle cx="334.35" cy="134.40" r="0.55" fill="#cfe6f7"/>
<circle cx="357.22" cy="107.03" r="0.55" fill="#b9dbf3"/>
<circle cx="347.64" cy="112.71" r="0.55" fill="#a3cdef"/>
<circle cx="335.28" cy="133.34" r="0.55" fill="#b9dbf3"/>
<circle cx="391.31" cy="75.47" r="0.55" fill="#add3f1"/>
<circle cx="376.82" cy="93.18" r="0.55" fill="#a3cdef"/>
<circle cx="340.40" cy="121.84" r="0.55" fill="#cfe6f7"/>
<circle cx="382.23" cy="80.03" r="0.55" fill="#b9dbf3"/>
<circle cx="328.81" cy="137.43" r="0.55" fill="#a3cdef"/>
<circle cx="322.43" cy="137.67" r="0.55" fill="#cfe6f7"/>
<circle cx="334.60" cy="131.06" r="0.55" fill="#cfe6f7"/>
<circle cx="338.10" cy="124.74" r="0.55" fill="#add3f1"/>
<circle cx="378.40" cy="82.77" r="0.55" fill="#b9dbf3"/>
<circle cx="368.88" cy="98.37" r="0.55" fill="#b9dbf3"/>
<circle cx="367.75" cy="95.42" r="0.55" fill="#a3cdef"/>
<circle cx="382.98" cy="82.80" r="0.55" fill="#a3cdef"/>
<circle cx="410.38" cy="43.56" r="0.55" fill="#add3f1"/>
<circle cx="400.22" cy="70.19" r="0.55" fill="#a3cdef"/>
<circle cx="384.32" cy="70.14" r="0.55" fill="#a3cdef"/>
<circle cx="406.15" cy="71.84" r="0.55" fill="#cfe6f7"/>
<circle cx="382.25" cy="78.33" r="0.55" fill="#cfe6f7"/>
<circle cx="399.58" cy="53.65" r="0.55" fill="#a3cdef"/>
<circle cx="411.00" cy="48.67" r="0.55" fill="#b9dbf3"/>
<circle cx="409.39" cy="45.44" r="0.55" fill="#cfe6f7"/>
<circle cx="403.96" cy="53.15" r="0.55" fill="#b9dbf3"/>
<circle cx="379.62" cy="96.26" r="0.55" fill="#add3f1"/>
<circle cx="384.74" cy="85.01" r="0.55" fill="#b9dbf3"/>
<circle cx="386.28" cy="69.81" r="0.55" fill="#a3cdef"/>
<circle cx="389.66" cy="73.38" r="0.55" fill="#cfe6f7"/>
<circle cx="401.37" cy="64.45" r="0.55" fill="#add3f1"/>
<circle cx="407.91" cy="45.95" r="0.55" fill="#a3cdef"/>
<circle cx="401.71" cy="59.52" r="0.55" fill="#a3cdef"/>
<circle cx="381.73" cy="98.66" r="0.55" fill="#a3cdef"/>
<circle cx="409.07" cy="64.17" r="0.55" fill="#b9dbf3"/>
<circle cx="395.89" cy="68.40" r="0.55" fill="#a3cdef"/>
<circle cx="403.10" cy="64.74" r="0.55" fill="#add3f1"/>
<circle cx="390.69" cy="81.64" r="0.55" fill="#add3f1"/>
<circle cx="390.90" cy="75.91" r="0.55" fill="#a3cdef"/>
<circle cx="405.44" cy="62.67" r="0.55" fill="#add3f1"/>
<circle cx="406.60" cy="45.18" r="0.55" fill="#b9dbf3"/>
<circle cx="411.88" cy="53.04" r="0.55" fill="#cfe6f7"/>
<circle cx="391.17" cy="74.54" r="0.55" fill="#b9dbf3"/>
<circle cx="379.29" cy="88.54" r="0.55" fill="#a3cdef"/>
<circle cx="394.11" cy="74.44" r="0.55" fill="#a3cdef"/>
<circle cx="408.42" cy="56.41" r="0.55" fill="#a3cdef"/>
<circle cx="395.90" cy="70.40" r="0.55" fill="#add3f1"/>
<circle cx="381.62" cy="83.67" r="0.55" fill="#a3cdef"/>
<circle cx="396.12" cy="69.28" r="0.55" fill="#b9dbf3"/>
<circle cx="407.61" cy="63.49" r="0.55" fill="#b9dbf3"/>
<circle cx="407.24" cy="56.15" r="0.55" fill="#cfe6f7"/>
<circle cx="396.65" cy="76.36" r="0.55" fill="#b9dbf3"/>
<circle cx="383.33" cy="77.91" r="0.55" fill="#b9dbf3"/>
<circle cx="410.80" cy="41.25" r="0.55" fill="#b9dbf3"/>
<circle cx="378.50" cy="87.57" r="0.55" fill="#add3f1"/>
<circle cx="401.10" cy="63.31" r="0.55" fill="#a3cdef"/>
<circle cx="322.77" cy="119.74" r="0.55" fill="#b9dbf3"/>
<circle cx="315.59" cy="129.65" r="0.55" fill="#cfe6f7"/>
<circle cx="315.65" cy="106.60" r="0.55" fill="#a3cdef"/>
<circle cx="326.87" cy="112.56" r="0.55" fill="#cfe6f7"/>
<circle cx="315.35" cy="127.01" r="0.55" fill="#add3f1"/>
<circle cx="315.73" cy="128.96" r="0.55" fill="#cfe6f7"/>
<circle cx="320.53" cy="111.68" r="0.55" fill="#cfe6f7"/>
<circle cx="319.99" cy="118.25" r="0.55" fill="#add3f1"/>
<circle cx="316.11" cy="133.84" r="0.55" fill="#cfe6f7"/>
<circle cx="315.59" cy="114.86" r="0.55" fill="#a3cdef"/>
<circle cx="344.75" cy="86.59" r="0.55" fill="#add3f1"/>
<circle cx="317.52" cy="121.06" r="0.55" fill="#add3f1"/>
<circle cx="315.30" cy="131.57" r="0.55" fill="#cfe6f7"/>
<circle cx="328.40" cy="110.69" r="0.55" fill="#a3cdef"/>
<circle cx="321.79" cy="112.47" r="0.55" fill="#a3cdef"/>
<circle cx="314.44" cy="132.58" r="0.55" fill="#b9dbf3"/>
<circle cx="322.85" cy="110.29" r="0.55" fill="#b9dbf3"/>
<circle cx="315.22" cy="120.36" r="0.55" fill="#add3f1"/>
<circle cx="318.79" cy="112.15" r="0.55" fill="#a3cdef"/>
<circle cx="342.21" cy="68.76" r="0.55" fill="#add3f1"/>
<circle cx="337.47" cy="98.27" r="0.55" fill="#cfe6f7"/>
<circle cx="321.81" cy="119.14" r="0.55" fill="#cfe6f7"/>
<circle cx="323.61" cy="111.38" r="0.55" fill="#add3f1"/>
<circle cx="319.34" cy="131.17" r="0.55" fill="#a3cdef"/>
<circle cx="319.08" cy="123.97" r="0.55" fill="#cfe6f7"/>
<circle cx="316.96" cy="130.58" r="0.55" fill="#a3cdef"/>
<circle cx="334.98" cy="97.90" r="0.55" fill="#a3cdef"/>
<circle cx="315.58" cy="112.40" r="0.55" fill="#add3f1"/>
<circle cx="347.79" cy="66.58" r="0.55" fill="#b9dbf3"/>
<circle cx="330.11" cy="89.02" r="0.55" fill="#add3f1"/>
<circle cx="337.33" cy="69.29" r="0.55" fill="#add3f1"/>
<circle cx="328.01" cy="119.39" r="0.55" fill="#add3f1"/>
<circle cx="345.63" cy="89.27" r="0.55" fill="#a3cdef"/>
<circle cx="330.15" cy="116.31" r="0.55" fill="#a3cdef"/>
<circle cx="320.62" cy="108.72" r="0.55" fill="#a3cdef"/>
<circle cx="344.55" cy="76.19" r="0.55" fill="#a3cdef"/>
<circle cx="319.41" cy="120.49" r="0.55" fill="#b9dbf3"/>
<circle cx="315.74" cy="134.49" r="0.55" fill="#add3f1"/>
<circle cx="318.60" cy="125.43" r="0.55" fill="#add3f1"/>
<circle cx="325.74" cy="117.43" r="0.55" fill="#cfe6f7"/>
<circle cx="332.74" cy="109.03" r="0.55" fill="#add3f1"/>
<circle cx="319.50" cy="119.39" r="0.55" fill="#a3cdef"/>
<circle cx="319.97" cy="119.40" r="0.55" fill="#add3f1"/>
<circle cx="339.67" cy="85.85" r="0.55" fill="#add3f1"/>
<circle cx="320.08" cy="119.11" r="0.55" fill="#cfe6f7"/>
<circle cx="315.54" cy="120.28" r="0.55" fill="#add3f1"/>
<circle cx="319.14" cy="116.62" r="0.55" fill="#cfe6f7"/>
<circle cx="332.47" cy="92.54" r="0.55" fill="#cfe6f7"/>
<circle cx="319.71" cy="126.30" r="0.55" fill="#a3cdef"/>
<circle cx="322.59" cy="120.28" r="0.55" fill="#b9dbf3"/>
<circle cx="339.79" cy="67.19" r="0.55" fill="#b9dbf3"/>
<circle cx="327.18" cy="112.08" r="0.55" fill="#add3f1"/>
<circle cx="319.11" cy="115.03" r="0.55" fill="#b9dbf3"/>
<circle cx="318.68" cy="124.16" r="0.55" fill="#cfe6f7"/>
<circle cx="314.99" cy="123.98" r="0.55" fill="#b9dbf3"/>
<circle cx="338.52" cy="87.01" r="0.55" fill="#add3f1"/>
<circle cx="346.11" cy="81.70" r="0.55" fill="#add3f1"/>
<circle cx="344.88" cy="62.06" r="0.55" fill="#cfe6f7"/>
<circle cx="324.62" cy="115.40" r="0.55" fill="#b9dbf3"/>
<circle cx="325.03" cy="114.81" r="0.55" fill="#cfe6f7"/>
<circle cx="341.90" cy="80.57" r="0.55" fill="#a3cdef"/>
<circle cx="316.28" cy="129.42" r="0.55" fill="#add3f1"/>
<circle cx="319.97" cy="122.20" r="0.55" fill="#b9dbf3"/>
<circle cx="331.87" cy="88.82" r="0.55" fill="#a3cdef"/>
<circle cx="328.05" cy="86.13" r="0.55" fill="#add3f1"/>
<circle cx="322.86" cy="114.37" r="0.55" fill="#add3f1"/>
<circle cx="330.76" cy="104.07" r="0.55" fill="#add3f1"/>
<circle cx="326.33" cy="103.19" r="0.55" fill="#cfe6f7"/>
<circle cx="317.44" cy="112.94" r="0.55" fill="#cfe6f7"/>
<circle cx="317.88" cy="130.42" r="0.55" fill="#add3f1"/>
<circle cx="320.28" cy="114.37" r="0.55" fill="#cfe6f7"/>
<circle cx="314.94" cy="130.69" r="0.55" fill="#b9dbf3"/>
<circle cx="323.01" cy="112.45" r="0.55" fill="#b9dbf3"/>
<circle cx="332.08" cy="96.82" r="0.55" fill="#b9dbf3"/>
<circle cx="316.91" cy="128.96" r="0.55" fill="#b9dbf3"/>
<circle cx="318.60" cy="124.65" r="0.55" fill="#b9dbf3"/>
<circle cx="334.57" cy="78.59" r="0.55" fill="#a3cdef"/>
<circle cx="324.21" cy="116.97" r="0.55" fill="#cfe6f7"/>
<circle cx="317.11" cy="122.74" r="0.55" fill="#add3f1"/>
<circle cx="320.70" cy="118.41" r="0.55" fill="#a3cdef"/>
<circle cx="325.13" cy="119.50" r="0.55" fill="#b9dbf3"/>
<circle cx="328.46" cy="112.27" r="0.55" fill="#add3f1"/>
<circle cx="348.09" cy="73.54" r="0.55" fill="#add3f1"/>
<circle cx="314.45" cy="135.36" r="0.55" fill="#add3f1"/>
<circle cx="322.91" cy="122.76" r="0.55" fill="#b9dbf3"/>
<circle cx="358.92" cy="49.83" r="0.55" fill="#cfe6f7"/>
<circle cx="321.16" cy="113.25" r="0.55" fill="#cfe6f7"/>
<circle cx="325.16" cy="99.27" r="0.55" fill="#cfe6f7"/>
<circle cx="321.75" cy="123.47" r="0.55" fill="#b9dbf3"/>
<circle cx="335.25" cy="89.37" r="0.55" fill="#add3f1"/>
<circle cx="314.72" cy="132.97" r="0.55" fill="#cfe6f7"/>
<circle cx="315.97" cy="133.71" r="0.55" fill="#b9dbf3"/>
<circle cx="326.37" cy="97.76" r="0.55" fill="#a3cdef"/>
<circle cx="319.07" cy="129.73" r="0.55" fill="#cfe6f7"/>
<circle cx="326.22" cy="103.48" r="0.55" fill="#b9dbf3"/>
<circle cx="326.19" cy="108.80" r="0.55" fill="#add3f1"/>
<circle cx="330.20" cy="103.96" r="0.55" fill="#b9dbf3"/>
<circle cx="329.53" cy="104.03" r="0.55" fill="#a3cdef"/>
<circle cx="318.94" cy="120.19" r="0.55" fill="#a3cdef"/>
<circle cx="314.46" cy="135.09" r="0.55" fill="#b9dbf3"/>
<circle cx="321.49" cy="110.80" r="0.55" fill="#add3f1"/>
<circle cx="330.24" cy="98.29" r="0.55" fill="#a3cdef"/>
<circle cx="323.20" cy="101.43" r="0.55" fill="#add3f1"/>
<circle cx="318.09" cy="132.52" r="0.55" fill="#add3f1"/>
<circle cx="333.95" cy="76.92" r="0.55" fill="#a3cdef"/>
<circle cx="334.32" cy="88.36" r="0.55" fill="#b9dbf3"/>
<circle cx="334.81" cy="78.40" r="0.55" fill="#cfe6f7"/>
<circle cx="314.92" cy="123.12" r="0.55" fill="#b9dbf3"/>
<circle cx="338.24" cy="76.70" r="0.55" fill="#add3f1"/>
<circle cx="318.19" cy="129.10" r="0.55" fill="#b9dbf3"/>
<circle cx="336.59" cy="92.08" r="0.55" fill="#cfe6f7"/>
<circle cx="343.95" cy="66.20" r="0.55" fill="#b9dbf3"/>
<circle cx="317.57" cy="128.60" r="0.55" fill="#a3cdef"/>
<circle cx="326.00" cy="102.21" r="0.55" fill="#b9dbf3"/>
<circle cx="316.74" cy="103.84" r="0.55" fill="#add3f1"/>
<circle cx="324.97" cy="108.64" r="0.55" fill="#cfe6f7"/>
<circle cx="331.60" cy="98.42" r="0.55" fill="#cfe6f7"/>
<circle cx="334.59" cy="93.79" r="0.55" fill="#b9dbf3"/>
<circle cx="315.06" cy="127.18" r="0.55" fill="#a3cdef"/>
<circle cx="319.63" cy="122.76" r="0.55" fill="#add3f1"/>
<circle cx="315.55" cy="130.85" r="0.55" fill="#cfe6f7"/>
<circle cx="330.12" cy="108.27" r="0.55" fill="#add3f1"/>
<circle cx="329.49" cy="86.14" r="0.55" fill="#cfe6f7"/>
<circle cx="338.96" cy="95.05" r="0.55" fill="#b9dbf3"/>
<circle cx="327.23" cy="100.94" r="0.55" fill="#add3f1"/>
<circle cx="335.98" cy="78.23" r="0.55" fill="#a3cdef"/>
<circle cx="318.61" cy="113.55" r="0.55" fill="#b9dbf3"/>
<circle cx="314.47" cy="131.02" r="0.55" fill="#cfe6f7"/>
<circle cx="328.27" cy="107.91" r="0.55" fill="#b9dbf3"/>
<circle cx="334.35" cy="97.24" r="0.55" fill="#add3f1"/>
<circle cx="326.17" cy="121.88" r="0.55" fill="#cfe6f7"/>
<circle cx="330.93" cy="105.62" r="0.55" fill="#a3cdef"/>
<circle cx="320.99" cy="118.12" r="0.55" fill="#cfe6f7"/>
<circle cx="320.34" cy="114.56" r="0.55" fill="#a3cdef"/>
<circle cx="325.50" cy="112.85" r="0.55" fill="#b9dbf3"/>
<circle cx="323.87" cy="108.05" r="0.55" fill="#b9dbf3"/>
<circle cx="324.68" cy="105.89" r="0.55" fill="#a3cdef"/>
<circle cx="338.79" cy="79.36" r="0.55" fill="#b9dbf3"/>
<circle cx="319.65" cy="128.67" r="0.55" fill="#b9dbf3"/>
<circle cx="329.30" cy="108.87" r="0.55" fill="#a3cdef"/>
<circle cx="327.38" cy="108.59" r="0.55" fill="#cfe6f7"/>
<circle cx="333.85" cy="93.81" r="0.55" fill="#cfe6f7"/>
<circle cx="326.24" cy="106.52" r="0.55" fill="#b9dbf3"/>
<circle cx="321.96" cy="115.42" r="0.55" fill="#add3f1"/>
<circle cx="320.37" cy="117.19" r="0.55" fill="#add3f1"/>
<circle cx="321.38" cy="122.57" r="0.55" fill="#cfe6f7"/>
<circle cx="353.07" cy="50.69" r="0.55" fill="#cfe6f7"/>
<circle cx="327.90" cy="116.97" r="0.55" fill="#a3cdef"/>
<circle cx="323.61" cy="123.99" r="0.55" fill="#add3f1"/>
<circle cx="322.77" cy="107.70" r="0.55" fill="#cfe6f7"/>
<circle cx="321.77" cy="109.12" r="0.55" fill="#b9dbf3"/>
<circle cx="324.16" cy="111.76" r="0.55" fill="#cfe6f7"/>
<circle cx="331.29" cy="114.87" r="0.55" fill="#cfe6f7"/>
<circle cx="316.56" cy="111.09" r="0.55" fill="#cfe6f7"/>
<circle cx="320.47" cy="123.43" r="0.55" fill="#a3cdef"/>
<circle cx="343.29" cy="84.67" r="0.55" fill="#add3f1"/>
<circle cx="316.09" cy="125.30" r="0.55" fill="#cfe6f7"/>
<circle cx="321.77" cy="111.90" r="0.55" fill="#cfe6f7"/>
<circle cx="321.71" cy="101.59" r="0.55" fill="#b9dbf3"/>
<circle cx="327.27" cy="91.98" r="0.55" fill="#b9dbf3"/>
<circle cx="316.49" cy="131.24" r="0.55" fill="#add3f1"/>
<circle cx="331.89" cy="93.51" r="0.55" fill="#a3cdef"/>
<circle cx="317.26" cy="119.81" r="0.55" fill="#cfe6f7"/>
<circle cx="324.59" cy="101.44" r="0.55" fill="#b9dbf3"/>
<circle cx="321.46" cy="103.75" r="0.55" fill="#cfe6f7"/>
<circle cx="317.11" cy="132.06" r="0.55" fill="#cfe6f7"/>
<circle cx="314.79" cy="132.97" r="0.55" fill="#add3f1"/>
<circle cx="331.13" cy="93.01" r="0.55" fill="#add3f1"/>
<circle cx="323.95" cy="124.81" r="0.55" fill="#a3cdef"/>
<circle cx="316.48" cy="130.44" r="0.55" fill="#a3cdef"/>
<circle cx="327.45" cy="94.55" r="0.55" fill="#b9dbf3"/>
<circle cx="328.57" cy="92.57" r="0.55" fill="#a3cdef"/>
<circle cx="330.27" cy="112.82" r="0.55" fill="#a3cdef"/>
<circle cx="330.64" cy="115.38" r="0.55" fill="#add3f1"/>
<circle cx="333.06" cy="86.44" r="0.55" fill="#cfe6f7"/>
<circle cx="320.48" cy="123.96" r="0.55" fill="#cfe6f7"/>
<circle cx="315.74" cy="134.02" r="0.55" fill="#cfe6f7"/>
<circle cx="316.01" cy="116.58" r="0.55" fill="#b9dbf3"/>
<circle cx="325.09" cy="109.25" r="0.55" fill="#b9dbf3"/>
<circle cx="318.55" cy="126.24" r="0.55" fill="#cfe6f7"/>
<circle cx="321.40" cy="119.65" r="0.55" fill="#b9dbf3"/>
<circle cx="327.91" cy="93.50" r="0.55" fill="#b9dbf3"/>
<circle cx="315.35" cy="135.16" r="0.55" fill="#add3f1"/>
<circle cx="321.17" cy="125.26" r="0.55" fill="#cfe6f7"/>
<circle cx="340.27" cy="82.92" r="0.55" fill="#b9dbf3"/>
<circle cx="328.52" cy="89.01" r="0.55" fill="#b9dbf3"/>
<circle cx="323.15" cy="111.14" r="0.55" fill="#add3f1"/>
<circle cx="319.34" cy="99.06" r="0.55" fill="#a3cdef"/>
<circle cx="317.23" cy="122.96" r="0.55" fill="#a3cdef"/>
<circle cx="321.00" cy="110.26" r="0.55" fill="#cfe6f7"/>
<circle cx="317.92" cy="128.02" r="0.55" fill="#cfe6f7"/>
<circle cx="321.31" cy="120.61" r="0.55" fill="#add3f1"/>
<circle cx="339.77" cy="79.80" r="0.55" fill="#b9dbf3"/>
<circle cx="320.44" cy="117.89" r="0.55" fill="#add3f1"/>
<circle cx="326.67" cy="91.14" r="0.55" fill="#a3cdef"/>
<circle cx="333.01" cy="110.05" r="0.55" fill="#b9dbf3"/>
<circle cx="326.01" cy="101.59" r="0.55" fill="#a3cdef"/>
<circle cx="334.74" cy="97.31" r="0.55" fill="#b9dbf3"/>
<circle cx="326.40" cy="96.24" r="0.55" fill="#b9dbf3"/>
<circle cx="315.03" cy="134.15" r="0.55" fill="#b9dbf3"/>
<circle cx="329.35" cy="102.16" r="0.55" fill="#cfe6f7"/>
<circle cx="345.53" cy="83.18" r="0.55" fill="#cfe6f7"/>
<circle cx="323.74" cy="119.89" r="0.55" fill="#b9dbf3"/>
<circle cx="327.84" cy="111.59" r="0.55" fill="#a3cdef"/>
<circle cx="319.16" cy="127.49" r="0.55" fill="#add3f1"/>
<circle cx="334.86" cy="98.66" r="0.55" fill="#a3cdef"/>
<circle cx="327.22" cy="103.43" r="0.55" fill="#a3cdef"/>
<circle cx="327.35" cy="118.36" r="0.55" fill="#add3f1"/>
<circle cx="317.33" cy="126.76" r="0.55" fill="#cfe6f7"/>
<circle cx="315.63" cy="114.47" r="0.55" fill="#cfe6f7"/>
<circle cx="329.33" cy="106.69" r="0.55" fill="#cfe6f7"/>
<circle cx="325.42" cy="114.12" r="0.55" fill="#b9dbf3"/>
<circle cx="326.87" cy="103.57" r="0.55" fill="#a3cdef"/>
<circle cx="323.48" cy="109.98" r="0.55" fill="#add3f1"/>
<circle cx="318.83" cy="117.67" r="0.55" fill="#cfe6f7"/>
<circle cx="320.94" cy="123.37" r="0.55" fill="#add3f1"/>
<circle cx="325.73" cy="107.36" r="0.55" fill="#a3cdef"/>
<circle cx="328.68" cy="111.83" r="0.55" fill="#a3cdef"/>
<circle cx="329.03" cy="108.46" r="0.55" fill="#b9dbf3"/>
<circle cx="323.82" cy="115.50" r="0.55" fill="#b9dbf3"/>
<circle cx="324.86" cy="110.28" r="0.55" fill="#b9dbf3"/>
<circle cx="332.19" cy="99.24" r="0.55" fill="#b9dbf3"/>
<circle cx="316.62" cy="132.09" r="0.55" fill="#b9dbf3"/>
<circle cx="314.26" cy="136.17" r="0.55" fill="#a3cdef"/>
<circle cx="321.81" cy="120.43" r="0.55" fill="#a3cdef"/>
<circle cx="334.65" cy="101.93" r="0.55" fill="#add3f1"/>
<circle cx="320.59" cy="124.49" r="0.55" fill="#add3f1"/>
<circle cx="337.58" cy="93.73" r="0.55" fill="#cfe6f7"/>
<circle cx="320.93" cy="115.49" r="0.55" fill="#cfe6f7"/>
<circle cx="332.67" cy="104.52" r="0.55" fill="#a3cdef"/>
<circle cx="328.84" cy="99.32" r="0.55" fill="#a3cdef"/>
<circle cx="318.00" cy="126.60" r="0.55" fill="#cfe6f7"/>
<circle cx="316.37" cy="129.36" r="0.55" fill="#cfe6f7"/>
<circle cx="318.43" cy="131.53" r="0.55" fill="#add3f1"/>
<circle cx="328.83" cy="103.81" r="0.55" fill="#add3f1"/>
<circle cx="317.32" cy="103.97" r="0.55" fill="#b9dbf3"/>
<circle cx="324.98" cy="114.46" r="0.55" fill="#cfe6f7"/>
<circle cx="330.59" cy="89.87" r="0.55" fill="#b9dbf3"/>
<circle cx="327.46" cy="98.70" r="0.55" fill="#cfe6f7"/>
<circle cx="315.79" cy="132.81" r="0.55" fill="#add3f1"/>
<circle cx="320.20" cy="117.71" r="0.55" fill="#cfe6f7"/>
<circle cx="318.89" cy="114.82" r="0.55" fill="#b9dbf3"/>
<circle cx="331.14" cy="91.13" r="0.55" fill="#a3cdef"/>
<circle cx="318.71" cy="122.02" r="0.55" fill="#b9dbf3"/>
<circle cx="328.21" cy="108.30" r="0.55" fill="#cfe6f7"/>
<circle cx="327.84" cy="91.23" r="0.55" fill="#cfe6f7"/>
<circle cx="318.36" cy="117.93" r="0.55" fill="#cfe6f7"/>
<circle cx="322.96" cy="109.87" r="0.55" fill="#a3cdef"/>
<circle cx="335.80" cy="84.56" r="0.55" fill="#cfe6f7"/>
<circle cx="322.68" cy="115.74" r="0.55" fill="#b9dbf3"/>
<circle cx="330.88" cy="100.06" r="0.55" fill="#add3f1"/>
<circle cx="324.59" cy="111.07" r="0.55" fill="#add3f1"/>
<circle cx="320.24" cy="117.09" r="0.55" fill="#b9dbf3"/>
<circle cx="330.42" cy="103.73" r="0.55" fill="#cfe6f7"/>
<circle cx="324.05" cy="104.47" r="0.55" fill="#cfe6f7"/>
<circle cx="335.78" cy="90.43" r="0.55" fill="#b9dbf3"/>
<circle cx="322.96" cy="118.62" r="0.55" fill="#b9dbf3"/>
<circle cx="319.15" cy="120.20" r="0.55" fill="#b9dbf3"/>
<circle cx="336.50" cy="91.76" r="0.55" fill="#cfe6f7"/>
<circle cx="315.97" cy="124.70" r="0.55" fill="#b9dbf3"/>
<circle cx="326.51" cy="111.62" r="0.55" fill="#a3cdef"/>
<circle cx="327.98" cy="103.21" r="0.55" fill="#add3f1"/>
<circle cx="339.27" cy="90.25" r="0.55" fill="#b9dbf3"/>
<circle cx="320.31" cy="107.50" r="0.55" fill="#cfe6f7"/>
<circle cx="319.03" cy="115.20" r="0.55" fill="#a3cdef"/>
<circle cx="326.57" cy="113.80" r="0.55" fill="#a3cdef"/>
<circle cx="314.32" cy="116.82" r="0.55" fill="#a3cdef"/>
<circle cx="340.52" cy="104.26" r="0.55" fill="#a3cdef"/>
<circle cx="330.75" cy="87.29" r="0.55" fill="#add3f1"/>
<circle cx="319.84" cy="116.59" r="0.55" fill="#cfe6f7"/>
<circle cx="319.84" cy="121.18" r="0.55" fill="#a3cdef"/>
<circle cx="318.54" cy="131.24" r="0.55" fill="#b9dbf3"/>
<circle cx="330.10" cy="99.71" r="0.55" fill="#cfe6f7"/>
<circle cx="333.91" cy="97.89" r="0.55" fill="#add3f1"/>
<circle cx="315.32" cy="125.21" r="0.55" fill="#add3f1"/>
<circle cx="320.90" cy="121.16" r="0.55" fill="#b9dbf3"/>
<circle cx="344.19" cy="73.53" r="0.55" fill="#a3cdef"/>
<circle cx="334.90" cy="101.02" r="0.55" fill="#a3cdef"/>
<circle cx="314.23" cy="121.70" r="0.55" fill="#a3cdef"/>
<circle cx="326.97" cy="102.40" r="0.55" fill="#b9dbf3"/>
<circle cx="329.88" cy="113.81" r="0.55" fill="#b9dbf3"/>
<circle cx="334.78" cy="79.61" r="0.55" fill="#cfe6f7"/>
<circle cx="323.93" cy="84.84" r="0.55" fill="#cfe6f7"/>
<circle cx="328.96" cy="112.39" r="0.55" fill="#cfe6f7"/>
<circle cx="314.90" cy="116.82" r="0.55" fill="#cfe6f7"/>
<circle cx="327.49" cy="109.98" r="0.55" fill="#cfe6f7"/>
<circle cx="321.12" cy="117.02" r="0.55" fill="#b9dbf3"/>
<circle cx="329.44" cy="93.49" r="0.55" fill="#b9dbf3"/>
<circle cx="316.67" cy="124.10" r="0.55" fill="#a3cdef"/>
<circle cx="319.21" cy="114.45" r="0.55" fill="#a3cdef"/>
<circle cx="316.62" cy="115.71" r="0.55" fill="#a3cdef"/>
<circle cx="337.69" cy="88.60" r="0.55" fill="#a3cdef"/>
<circle cx="328.99" cy="101.90" r="0.55" fill="#a3cdef"/>
<circle cx="316.06" cy="132.66" r="0.55" fill="#b9dbf3"/>
<circle cx="319.82" cy="105.78" r="0.55" fill="#add3f1"/>
<circle cx="319.66" cy="129.98" r="0.55" fill="#add3f1"/>
<circle cx="316.23" cy="132.60" r="0.55" fill="#cfe6f7"/>
<circle cx="330.16" cy="103.65" r="0.55" fill="#a3cdef"/>
<circle cx="358.37" cy="51.58" r="0.55" fill="#a3cdef"/>
<circle cx="340.09" cy="78.17" r="0.55" fill="#add3f1"/>
<circle cx="341.42" cy="67.26" r="0.55" fill="#cfe6f7"/>
<circle cx="325.32" cy="107.30" r="0.55" fill="#cfe6f7"/>
<circle cx="331.30" cy="88.33" r="0.55" fill="#cfe6f7"/>
<circle cx="326.67" cy="114.38" r="0.55" fill="#add3f1"/>
<circle cx="327.71" cy="116.60" r="0.55" fill="#cfe6f7"/>
<circle cx="326.44" cy="113.28" r="0.55" fill="#b9dbf3"/>
<circle cx="321.36" cy="124.42" r="0.55" fill="#cfe6f7"/>
<circle cx="318.09" cy="125.98" r="0.55" fill="#add3f1"/>
<circle cx="314.72" cy="134.96" r="0.55" fill="#b9dbf3"/>
<circle cx="326.38" cy="114.88" r="0.55" fill="#b9dbf3"/>
<circle cx="321.31" cy="117.31" r="0.55" fill="#b9dbf3"/>
<circle cx="332.05" cy="84.72" r="0.55" fill="#b9dbf3"/>
<circle cx="314.62" cy="126.43" r="0.55" fill="#b9dbf3"/>
<circle cx="317.70" cy="132.96" r="0.55" fill="#add3f1"/>
<circle cx="339.81" cy="71.33" r="0.55" fill="#cfe6f7"/>
<circle cx="320.42" cy="127.30" r="0.55" fill="#cfe6f7"/>
<circle cx="328.53" cy="92.61" r="0.55" fill="#cfe6f7"/>
<circle cx="321.27" cy="119.32" r="0.55" fill="#a3cdef"/>
<circle cx="315.07" cy="135.94" r="0.55" fill="#add3f1"/>
<circle cx="321.87" cy="121.54" r="0.55" fill="#b9dbf3"/>
<circle cx="317.25" cy="124.56" r="0.55" fill="#a3cdef"/>
<circle cx="321.24" cy="118.43" r="0.55" fill="#a3cdef"/>
<circle cx="318.97" cy="131.97" r="0.55" fill="#cfe6f7"/>
<circle cx="319.07" cy="115.09" r="0.55" fill="#add3f1"/>
<circle cx="320.24" cy="122.67" r="0.55" fill="#cfe6f7"/>
<circle cx="316.63" cy="134.01" r="0.55" fill="#cfe6f7"/>
<circle cx="329.23" cy="109.89" r="0.55" fill="#a3cdef"/>
<circle cx="323.97" cy="110.88" r="0.55" fill="#cfe6f7"/>
<circle cx="337.83" cy="92.07" r="0.55" fill="#add3f1"/>
<circle cx="317.34" cy="124.89" r="0.55" fill="#a3cdef"/>
<circle cx="314.35" cy="136.28" r="0.55" fill="#add3f1"/>
<circle cx="315.04" cy="129.42" r="0.55" fill="#cfe6f7"/>
<circle cx="333.76" cy="73.73" r="0.55" fill="#cfe6f7"/>
<circle cx="328.62" cy="106.73" r="0.55" fill="#cfe6f7"/>
<circle cx="321.44" cy="126.37" r="0.55" fill="#b9dbf3"/>
<circle cx="317.30" cy="121.73" r="0.55" fill="#b9dbf3"/>
<circle cx="334.80" cy="86.13" r="0.55" fill="#b9dbf3"/>
<circle cx="333.88" cy="80.99" r="0.55" fill="#cfe6f7"/>
<circle cx="317.47" cy="129.91" r="0.55" fill="#cfe6f7"/>
<circle cx="315.25" cy="133.25" r="0.55" fill="#cfe6f7"/>
<circle cx="327.61" cy="95.96" r="0.55" fill="#b9dbf3"/>
<circle cx="318.11" cy="125.78" r="0.55" fill="#a3cdef"/>
<circle cx="330.71" cy="108.71" r="0.55" fill="#b9dbf3"/>
<circle cx="327.15" cy="99.88" r="0.55" fill="#cfe6f7"/>
<circle cx="327.25" cy="105.77" r="0.55" fill="#a3cdef"/>
<circle cx="326.15" cy="117.08" r="0.55" fill="#a3cdef"/>
<circle cx="316.83" cy="119.17" r="0.55" fill="#b9dbf3"/>
<circle cx="324.87" cy="106.35" r="0.55" fill="#add3f1"/>
<circle cx="321.60" cy="123.10" r="0.55" fill="#a3cdef"/>
<circle cx="323.67" cy="112.24" r="0.55" fill="#add3f1"/>
<circle cx="316.54" cy="119.98" r="0.55" fill="#a3cdef"/>
<circle cx="334.29" cy="82.59" r="0.55" fill="#b9dbf3"/>
<circle cx="315.15" cy="119.58" r="0.55" fill="#cfe6f7"/>
<circle cx="320.77" cy="117.47" r="0.55" fill="#add3f1"/>
<circle cx="332.16" cy="91.04" r="0.55" fill="#b9dbf3"/>
<circle cx="317.14" cy="131.57" r="0.55" fill="#add3f1"/>
<circle cx="320.62" cy="113.94" r="0.55" fill="#cfe6f7"/>
<circle cx="333.23" cy="110.60" r="0.55" fill="#add3f1"/>
<circle cx="316.16" cy="123.80" r="0.55" fill="#add3f1"/>
<circle cx="323.19" cy="110.48" r="0.55" fill="#a3cdef"/>
<circle cx="335.03" cy="105.86" r="0.55" fill="#add3f1"/>
<circle cx="337.98" cy="94.63" r="0.55" fill="#b9dbf3"/>
<circle cx="335.45" cy="91.62" r="0.55" fill="#a3cdef"/>
<circle cx="340.36" cy="64.16" r="0.55" fill="#a3cdef"/>
<circle cx="318.96" cy="128.64" r="0.55" fill="#b9dbf3"/>
<circle cx="338.32" cy="76.80" r="0.55" fill="#a3cdef"/>
<circle cx="328.93" cy="111.40" r="0.55" fill="#add3f1"/>
<circle cx="330.35" cy="98.10" r="0.55" fill="#b9dbf3"/>
<circle cx="317.49" cy="120.90" r="0.55" fill="#a3cdef"/>
<circle cx="317.92" cy="123.80" r="0.55" fill="#cfe6f7"/>
<circle cx="315.15" cy="135.26" r="0.55" fill="#b9dbf3"/>
<circle cx="320.22" cy="123.12" r="0.55" fill="#cfe6f7"/>
<circle cx="321.97" cy="117.41" r="0.55" fill="#a3cdef"/>
<circle cx="344.97" cy="54.31" r="0.55" fill="#cfe6f7"/>
<circle cx="322.71" cy="110.86" r="0.55" fill="#cfe6f7"/>
<circle cx="330.28" cy="72.68" r="0.55" fill="#cfe6f7"/>
<circle cx="323.82" cy="107.07" r="0.55" fill="#add3f1"/>
<circle cx="315.38" cy="124.43" r="0.55" fill="#add3f1"/>
<circle cx="318.27" cy="128.60" r="0.55" fill="#cfe6f7"/>
<circle cx="348.42" cy="119.39" r="0.55" fill="#a3cdef"/>
<circle cx="359.09" cy="106.43" r="0.55" fill="#b9dbf3"/>
<circle cx="383.98" cy="64.42" r="0.55" fill="#add3f1"/>
<circle cx="391.47" cy="48.19" r="0.55" fill="#add3f1"/>
<circle cx="386.62" cy="53.30" r="0.55" fill="#add3f1"/>
<circle cx="315.50" cy="128.95" r="0.55" fill="#add3f1"/>
<circle cx="342.33" cy="130.58" r="0.55" fill="#cfe6f7"/>
<circle cx="347.30" cy="111.44" r="0.55" fill="#add3f1"/>
<circle cx="334.99" cy="109.46" r="0.55" fill="#cfe6f7"/>
<circle cx="390.30" cy="44.40" r="0.55" fill="#cfe6f7"/>
<circle cx="345.16" cy="135.11" r="0.55" fill="#add3f1"/>
<circle cx="359.44" cy="54.50" r="0.55" fill="#cfe6f7"/>
<circle cx="355.09" cy="66.81" r="0.55" fill="#add3f1"/>
<circle cx="388.54" cy="77.35" r="0.55" fill="#add3f1"/>
<circle cx="371.99" cy="61.00" r="0.55" fill="#a3cdef"/>
<circle cx="344.80" cy="110.87" r="0.55" fill="#add3f1"/>
<circle cx="381.58" cy="58.22" r="0.55" fill="#a3cdef"/>
<circle cx="321.33" cy="128.80" r="0.55" fill="#a3cdef"/>
<circle cx="367.69" cy="48.08" r="0.55" fill="#add3f1"/>
<circle cx="365.10" cy="91.49" r="0.55" fill="#add3f1"/>
<circle cx="377.20" cy="51.93" r="0.55" fill="#add3f1"/>
<circle cx="338.99" cy="69.36" r="0.55" fill="#add3f1"/>
<circle cx="383.23" cy="57.66" r="0.55" fill="#add3f1"/>
<circle cx="333.90" cy="87.48" r="0.55" fill="#add3f1"/>
<circle cx="379.70" cy="66.64" r="0.55" fill="#cfe6f7"/>
<circle cx="384.99" cy="44.48" r="0.55" fill="#b9dbf3"/>
<circle cx="385.42" cy="67.69" r="0.55" fill="#b9dbf3"/>
<circle cx="388.57" cy="49.09" r="0.55" fill="#add3f1"/>
<circle cx="344.24" cy="98.51" r="0.55" fill="#add3f1"/>
<circle cx="363.46" cy="84.36" r="0.55" fill="#cfe6f7"/>
<circle cx="382.53" cy="68.47" r="0.55" fill="#cfe6f7"/>
<circle cx="324.42" cy="132.68" r="0.55" fill="#cfe6f7"/>
<circle cx="372.27" cy="67.58" r="0.55" fill="#cfe6f7"/>
<circle cx="319.01" cy="120.30" r="0.55" fill="#cfe6f7"/>
<circle cx="335.18" cy="113.69" r="0.55" fill="#cfe6f7"/>
<circle cx="331.72" cy="102.02" r="0.55" fill="#b9dbf3"/>
<circle cx="328.60" cy="101.87" r="0.55" fill="#cfe6f7"/>
<circle cx="322.00" cy="129.24" r="0.55" fill="#cfe6f7"/>
<circle cx="351.22" cy="117.04" r="0.55" fill="#cfe6f7"/>
<circle cx="387.85" cy="46.37" r="0.55" fill="#a3cdef"/>
<circle cx="324.84" cy="116.67" r="0.55" fill="#b9dbf3"/>
<circle cx="371.22" cy="77.21" r="0.55" fill="#cfe6f7"/>
<circle cx="362.39" cy="55.11" r="0.55" fill="#b9dbf3"/>
<circle cx="369.87" cy="99.52" r="0.55" fill="#add3f1"/>
<circle cx="321.44" cy="113.88" r="0.55" fill="#b9dbf3"/>
<circle cx="317.08" cy="124.79" r="0.55" fill="#add3f1"/>
<circle cx="366.14" cy="76.64" r="0.55" fill="#a3cdef"/>
<circle cx="328.37" cy="126.74" r="0.55" fill="#add3f1"/>
<circle cx="346.42" cy="92.44" r="0.55" fill="#b9dbf3"/>
<circle cx="344.62" cy="72.91" r="0.55" fill="#b9dbf3"/>
<circle cx="345.67" cy="105.53" r="0.55" fill="#cfe6f7"/>
<circle cx="326.04" cy="137.82" r="0.55" fill="#add3f1"/>
<circle cx="379.32" cy="54.66" r="0.55" fill="#a3cdef"/>
<circle cx="338.31" cy="76.57" r="0.55" fill="#a3cdef"/>
<circle cx="388.40" cy="50.87" r="0.55" fill="#cfe6f7"/>
<circle cx="350.90" cy="119.14" r="0.55" fill="#a3cdef"/>
<circle cx="328.24" cy="121.23" r="0.55" fill="#a3cdef"/>
<circle cx="338.20" cy="94.29" r="0.55" fill="#cfe6f7"/>
<circle cx="334.10" cy="89.59" r="0.55" fill="#a3cdef"/>
<circle cx="320.59" cy="131.98" r="0.55" fill="#b9dbf3"/>
<circle cx="384.18" cy="45.61" r="0.55" fill="#add3f1"/>
<circle cx="358.83" cy="81.79" r="0.55" fill="#b9dbf3"/>
<circle cx="365.41" cy="60.45" r="0.55" fill="#add3f1"/>
<circle cx="383.51" cy="63.15" r="0.55" fill="#add3f1"/>
<circle cx="369.08" cy="63.71" r="0.55" fill="#a3cdef"/>
<circle cx="358.64" cy="89.18" r="0.55" fill="#add3f1"/>
<circle cx="367.10" cy="84.61" r="0.55" fill="#b9dbf3"/>
<circle cx="319.22" cy="110.96" r="0.55" fill="#cfe6f7"/>
<circle cx="335.58" cy="79.74" r="0.55" fill="#a3cdef"/>
<circle cx="334.46" cy="113.53" r="0.55" fill="#a3cdef"/>
<circle cx="397.34" cy="52.62" r="0.55" fill="#add3f1"/>
<circle cx="341.35" cy="81.34" r="0.55" fill="#b9dbf3"/>
<circle cx="397.38" cy="48.41" r="0.55" fill="#add3f1"/>
<circle cx="360.58" cy="100.38" r="0.55" fill="#b9dbf3"/>
<circle cx="324.95" cy="119.91" r="0.55" fill="#cfe6f7"/>
<circle cx="383.25" cy="67.42" r="0.55" fill="#a3cdef"/>
<circle cx="331.01" cy="133.82" r="0.55" fill="#cfe6f7"/>
<circle cx="330.62" cy="90.03" r="0.55" fill="#add3f1"/>
<circle cx="340.12" cy="114.07" r="0.55" fill="#add3f1"/>
<circle cx="340.48" cy="121.73" r="0.55" fill="#b9dbf3"/>
<circle cx="392.98" cy="56.44" r="0.55" fill="#a3cdef"/>
<circle cx="328.97" cy="105.83" r="0.55" fill="#a3cdef"/>
<circle cx="325.99" cy="113.41" r="0.55" fill="#cfe6f7"/>
<circle cx="320.18" cy="125.52" r="0.55" fill="#b9dbf3"/>
<circle cx="329.17" cy="113.89" r="0.55" fill="#add3f1"/>
<circle cx="351.40" cy="76.30" r="0.55" fill="#add3f1"/>
<circle cx="352.12" cy="104.39" r="0.55" fill="#add3f1"/>
<circle cx="391.66" cy="70.49" r="0.55" fill="#b9dbf3"/>
<circle cx="376.71" cy="50.08" r="0.55" fill="#b9dbf3"/>
<circle cx="333.79" cy="94.04" r="0.55" fill="#add3f1"/>
<circle cx="349.49" cy="103.22" r="0.55" fill="#cfe6f7"/>
<circle cx="333.08" cy="132.97" r="0.55" fill="#b9dbf3"/>
<circle cx="328.06" cy="106.72" r="0.55" fill="#b9dbf3"/>
<circle cx="389.43" cy="49.97" r="0.55" fill="#b9dbf3"/>
<circle cx="387.30" cy="50.68" r="0.55" fill="#cfe6f7"/>
<circle cx="365.20" cy="78.55" r="0.55" fill="#cfe6f7"/>
<circle cx="341.95" cy="81.79" r="0.55" fill="#a3cdef"/>
<circle cx="351.50" cy="97.76" r="0.55" fill="#add3f1"/>
<circle cx="343.51" cy="107.30" r="0.55" fill="#cfe6f7"/>
<circle cx="378.71" cy="46.09" r="0.55" fill="#cfe6f7"/>
<circle cx="332.93" cy="101.48" r="0.55" fill="#a3cdef"/>
<circle cx="314.80" cy="135.34" r="0.60" fill="#a8d2f2"/>
<circle cx="315.77" cy="135.27" r="0.60" fill="#a8d2f2"/>
<circle cx="318.05" cy="133.40" r="0.60" fill="#a8d2f2"/>
<circle cx="315.93" cy="136.82" r="0.60" fill="#a8d2f2"/>
<circle cx="317.20" cy="135.76" r="0.60" fill="#a8d2f2"/>
<circle cx="316.86" cy="136.84" r="0.60" fill="#a8d2f2"/>
<circle cx="316.67" cy="136.05" r="0.60" fill="#a8d2f2"/>
<circle cx="319.45" cy="134.14" r="0.60" fill="#a8d2f2"/>
<circle cx="317.19" cy="135.49" r="0.60" fill="#a8d2f2"/>
<circle cx="314.79" cy="136.81" r="0.60" fill="#a8d2f2"/>
<circle cx="315.43" cy="134.31" r="0.60" fill="#a8d2f2"/>
<circle cx="317.27" cy="134.86" r="0.60" fill="#a8d2f2"/>
<circle cx="317.71" cy="132.90" r="0.60" fill="#a8d2f2"/>
<circle cx="314.68" cy="137.28" r="0.60" fill="#a8d2f2"/>
<circle cx="314.55" cy="136.93" r="0.60" fill="#a8d2f2"/>
<circle cx="314.68" cy="137.35" r="0.60" fill="#a8d2f2"/>
<circle cx="314.32" cy="135.54" r="0.60" fill="#a8d2f2"/>
<circle cx="317.06" cy="133.61" r="0.60" fill="#a8d2f2"/>
<circle cx="315.24" cy="137.47" r="0.60" fill="#a8d2f2"/>
<circle cx="318.00" cy="134.65" r="0.60" fill="#a8d2f2"/>
<circle cx="316.37" cy="136.41" r="0.60" fill="#a8d2f2"/>
<circle cx="316.29" cy="133.96" r="0.60" fill="#a8d2f2"/>
<circle cx="314.60" cy="135.37" r="0.60" fill="#a8d2f2"/>
<circle cx="315.11" cy="133.86" r="0.60" fill="#a8d2f2"/>
<circle cx="315.14" cy="137.02" r="0.60" fill="#a8d2f2"/>
<circle cx="315.63" cy="135.68" r="0.60" fill="#a8d2f2"/>
<circle cx="315.06" cy="135.74" r="0.60" fill="#a8d2f2"/>
<circle cx="314.29" cy="137.90" r="0.60" fill="#a8d2f2"/>
<circle cx="316.69" cy="134.94" r="0.60" fill="#a8d2f2"/>
<circle cx="314.77" cy="137.25" r="0.60" fill="#a8d2f2"/>
<circle cx="314.64" cy="137.62" r="0.60" fill="#a8d2f2"/>
<circle cx="318.04" cy="130.57" r="0.60" fill="#a8d2f2"/>
<circle cx="314.43" cy="137.25" r="0.60" fill="#a8d2f2"/>
<circle cx="317.06" cy="134.41" r="0.60" fill="#a8d2f2"/>
<circle cx="315.20" cy="135.54" r="0.60" fill="#a8d2f2"/>
<circle cx="315.07" cy="133.46" r="0.60" fill="#a8d2f2"/>
<circle cx="314.87" cy="135.26" r="0.60" fill="#a8d2f2"/>
<circle cx="315.92" cy="135.57" r="0.60" fill="#a8d2f2"/>
<circle cx="318.60" cy="135.54" r="0.60" fill="#a8d2f2"/>
<circle cx="315.92" cy="136.40" r="0.60" fill="#a8d2f2"/>
<circle cx="316.60" cy="135.96" r="0.60" fill="#a8d2f2"/>
<circle cx="317.91" cy="136.09" r="0.60" fill="#a8d2f2"/>
<circle cx="316.57" cy="135.02" r="0.60" fill="#a8d2f2"/>
<circle cx="315.11" cy="132.12" r="0.60" fill="#a8d2f2"/>
<circle cx="317.34" cy="133.56" r="0.60" fill="#a8d2f2"/>
<circle cx="317.16" cy="132.47" r="0.60" fill="#a8d2f2"/>
<circle cx="317.41" cy="134.51" r="0.60" fill="#a8d2f2"/>
<circle cx="316.67" cy="136.20" r="0.60" fill="#a8d2f2"/>
<circle cx="314.41" cy="136.31" r="0.60" fill="#a8d2f2"/>
<circle cx="314.66" cy="137.34" r="0.60" fill="#a8d2f2"/>
<circle cx="314.78" cy="135.12" r="0.60" fill="#a8d2f2"/>
<circle cx="315.86" cy="133.25" r="0.60" fill="#a8d2f2"/>
<circle cx="314.82" cy="136.25" r="0.60" fill="#a8d2f2"/>
<circle cx="315.91" cy="136.17" r="0.60" fill="#a8d2f2"/>
<circle cx="318.71" cy="135.30" r="0.60" fill="#a8d2f2"/>
<circle cx="317.22" cy="134.96" r="0.60" fill="#a8d2f2"/>
<circle cx="316.24" cy="135.37" r="0.60" fill="#a8d2f2"/>
<circle cx="315.22" cy="137.05" r="0.60" fill="#a8d2f2"/>
<circle cx="318.95" cy="135.84" r="0.60" fill="#a8d2f2"/>
<circle cx="316.81" cy="134.50" r="0.60" fill="#a8d2f2"/>
<circle cx="316.17" cy="136.82" r="0.60" fill="#a8d2f2"/>
<circle cx="314.36" cy="135.72" r="0.60" fill="#a8d2f2"/>
<circle cx="314.76" cy="137.54" r="0.60" fill="#a8d2f2"/>
<circle cx="315.13" cy="137.68" r="0.60" fill="#a8d2f2"/>
<circle cx="315.05" cy="135.83" r="0.60" fill="#a8d2f2"/>
<circle cx="316.21" cy="136.13" r="0.60" fill="#a8d2f2"/>
<circle cx="318.23" cy="134.47" r="0.60" fill="#a8d2f2"/>
<circle cx="315.02" cy="132.06" r="0.60" fill="#a8d2f2"/>
<circle cx="315.17" cy="136.57" r="0.60" fill="#a8d2f2"/>
<circle cx="315.38" cy="135.17" r="0.60" fill="#a8d2f2"/>
<circle cx="318.50" cy="132.65" r="0.60" fill="#a8d2f2"/>
<circle cx="314.67" cy="134.74" r="0.60" fill="#a8d2f2"/>
<circle cx="317.42" cy="134.10" r="0.60" fill="#a8d2f2"/>
<circle cx="320.68" cy="132.90" r="0.60" fill="#a8d2f2"/>
<circle cx="314.68" cy="135.57" r="0.60" fill="#a8d2f2"/>
<circle cx="314.52" cy="135.12" r="0.60" fill="#a8d2f2"/>
<circle cx="314.32" cy="135.50" r="0.60" fill="#a8d2f2"/>
<circle cx="314.84" cy="137.48" r="0.60" fill="#a8d2f2"/>
<circle cx="317.99" cy="134.36" r="0.60" fill="#a8d2f2"/>
<circle cx="316.62" cy="136.48" r="0.60" fill="#a8d2f2"/>
<circle cx="314.84" cy="137.77" r="0.60" fill="#a8d2f2"/>
<circle cx="314.63" cy="138.08" r="0.60" fill="#a8d2f2"/>
<circle cx="315.93" cy="136.18" r="0.60" fill="#a8d2f2"/>
<circle cx="315.36" cy="137.57" r="0.60" fill="#a8d2f2"/>
<circle cx="316.84" cy="135.38" r="0.60" fill="#a8d2f2"/>
<circle cx="315.73" cy="137.51" r="0.60" fill="#a8d2f2"/>
<circle cx="314.73" cy="137.70" r="0.60" fill="#a8d2f2"/>
<circle cx="315.64" cy="137.42" r="0.60" fill="#a8d2f2"/>
<circle cx="317.34" cy="129.89" r="0.60" fill="#a8d2f2"/>
<circle cx="314.23" cy="134.41" r="0.60" fill="#a8d2f2"/>
<circle cx="316.35" cy="134.41" r="0.60" fill="#a8d2f2"/>
<circle cx="315.78" cy="134.68" r="0.60" fill="#a8d2f2"/>
<circle cx="314.94" cy="136.83" r="0.60" fill="#a8d2f2"/>
<circle cx="317.05" cy="133.15" r="0.60" fill="#a8d2f2"/>
<circle cx="315.36" cy="136.71" r="0.60" fill="#a8d2f2"/>
<circle cx="316.10" cy="132.88" r="0.60" fill="#a8d2f2"/>
<circle cx="314.90" cy="137.21" r="0.60" fill="#a8d2f2"/>
<circle cx="314.44" cy="137.87" r="0.60" fill="#a8d2f2"/>
<circle cx="314.98" cy="135.81" r="0.60" fill="#a8d2f2"/>
<circle cx="318.96" cy="131.46" r="0.60" fill="#a8d2f2"/>
<circle cx="314.84" cy="136.87" r="0.60" fill="#a8d2f2"/>
<circle cx="314.59" cy="135.83" r="0.60" fill="#a8d2f2"/>
<circle cx="314.62" cy="137.01" r="0.60" fill="#a8d2f2"/>
<circle cx="316.71" cy="136.94" r="0.60" fill="#a8d2f2"/>
<circle cx="315.14" cy="136.52" r="0.60" fill="#a8d2f2"/>
<circle cx="315.83" cy="134.94" r="0.60" fill="#a8d2f2"/>
<circle cx="315.25" cy="136.31" r="0.60" fill="#a8d2f2"/>
<circle cx="315.22" cy="137.61" r="0.60" fill="#a8d2f2"/>
<circle cx="314.77" cy="135.66" r="0.60" fill="#a8d2f2"/>
<circle cx="316.03" cy="135.31" r="0.60" fill="#a8d2f2"/>
<circle cx="314.61" cy="136.31" r="0.60" fill="#a8d2f2"/>
<circle cx="316.74" cy="135.80" r="0.60" fill="#a8d2f2"/>
<circle cx="314.39" cy="134.31" r="0.60" fill="#a8d2f2"/>
<circle cx="319.45" cy="133.54" r="0.60" fill="#a8d2f2"/>
<circle cx="315.79" cy="133.75" r="0.60" fill="#a8d2f2"/>
<circle cx="318.42" cy="134.90" r="0.60" fill="#a8d2f2"/>
<circle cx="316.12" cy="133.27" r="0.60" fill="#a8d2f2"/>
<circle cx="319.65" cy="135.15" r="0.60" fill="#a8d2f2"/>
<circle cx="314.98" cy="136.31" r="0.60" fill="#a8d2f2"/>
<circle cx="316.03" cy="133.61" r="0.60" fill="#a8d2f2"/>
<circle cx="317.87" cy="133.26" r="0.60" fill="#a8d2f2"/>
<circle cx="314.57" cy="136.23" r="0.60" fill="#a8d2f2"/>
<circle cx="317.48" cy="132.75" r="0.60" fill="#a8d2f2"/>
<circle cx="315.98" cy="136.89" r="0.60" fill="#a8d2f2"/>
<circle cx="315.47" cy="135.32" r="0.60" fill="#a8d2f2"/>
<circle cx="314.95" cy="132.71" r="0.60" fill="#a8d2f2"/>
<circle cx="315.39" cy="137.35" r="0.60" fill="#a8d2f2"/>
<circle cx="316.15" cy="136.48" r="0.60" fill="#a8d2f2"/>
<circle cx="314.97" cy="136.72" r="0.60" fill="#a8d2f2"/>
<circle cx="315.80" cy="134.71" r="0.60" fill="#a8d2f2"/>
<circle cx="315.59" cy="133.80" r="0.60" fill="#a8d2f2"/>
<circle cx="315.01" cy="133.99" r="0.60" fill="#a8d2f2"/>
<circle cx="318.98" cy="131.90" r="0.60" fill="#a8d2f2"/>
<circle cx="316.71" cy="136.42" r="0.60" fill="#a8d2f2"/>
<circle cx="315.68" cy="134.72" r="0.60" fill="#a8d2f2"/>
<circle cx="314.53" cy="136.90" r="0.60" fill="#a8d2f2"/>
<circle cx="316.00" cy="134.94" r="0.60" fill="#a8d2f2"/>
<circle cx="316.19" cy="137.14" r="0.60" fill="#a8d2f2"/>
<circle cx="318.39" cy="134.50" r="0.60" fill="#a8d2f2"/>
<circle cx="315.27" cy="136.57" r="0.60" fill="#a8d2f2"/>
<circle cx="315.37" cy="135.94" r="0.60" fill="#a8d2f2"/>
<circle cx="314.49" cy="135.30" r="0.60" fill="#a8d2f2"/>
<circle cx="320.01" cy="134.11" r="0.60" fill="#a8d2f2"/>
<circle cx="315.28" cy="133.94" r="0.60" fill="#a8d2f2"/>
<circle cx="317.38" cy="134.71" r="0.60" fill="#a8d2f2"/>
<circle cx="316.84" cy="135.32" r="0.60" fill="#a8d2f2"/>
<circle cx="315.49" cy="136.73" r="0.60" fill="#a8d2f2"/>
<circle cx="315.20" cy="135.59" r="0.60" fill="#a8d2f2"/>
<circle cx="314.78" cy="135.55" r="0.60" fill="#a8d2f2"/>
<circle cx="314.84" cy="132.60" r="0.60" fill="#a8d2f2"/>
<line x1="311.50" y1="32.70" x2="311.50" y2="141.00" stroke="#000" stroke-width="1.0"/>
<line x1="310.60" y1="140.50" x2="419.20" y2="140.50" stroke="#000" stroke-width="1.0"/>
<line x1="308.20" y1="35.50" x2="311.00" y2="35.50" stroke="#000" stroke-width="0.8"/>
<text x="304.50" y="36.80" font-size="4" stroke="#000" stroke-width="0.07">3</text>
<line x1="308.20" y1="69.50" x2="311.00" y2="69.50" stroke="#000" stroke-width="0.8"/>
<text x="304.50" y="71.10" font-size="4" stroke="#000" stroke-width="0.07">2</text>
<line x1="308.20" y1="104.50" x2="311.00" y2="104.50" stroke="#000" stroke-width="0.8"/>
<text x="304.50" y="105.40" font-size="4" stroke="#000" stroke-width="0.07">1</text>
<line x1="308.20" y1="138.50" x2="311.00" y2="138.50" stroke="#000" stroke-width="0.8"/>
<text x="304.50" y="139.70" font-size="4" stroke="#000" stroke-width="0.07">0</text>
<line x1="314.50" y1="140.80" x2="314.50" y2="143.40" stroke="#000" stroke-width="0.8"/>
<text x="314.20" y="150.60" font-size="4" text-anchor="middle" stroke="#000" stroke-width="0.07">0</text>
<line x1="348.50" y1="140.80" x2="348.50" y2="143.40" stroke="#000" stroke-width="0.8"/>
<text x="348.00" y="150.60" font-size="4" text-anchor="middle" stroke="#000" stroke-width="0.07">1</text>
<line x1="381.50" y1="140.80" x2="381.50" y2="143.40" stroke="#000" stroke-width="0.8"/>
<text x="381.90" y="150.60" font-size="4" text-anchor="middle" stroke="#000" stroke-width="0.07">2</text>
<line x1="415.50" y1="140.80" x2="415.50" y2="143.40" stroke="#000" stroke-width="0.8"/>
<text x="415.80" y="150.60" font-size="4" text-anchor="middle" stroke="#000" stroke-width="0.07">3</text>
<text x="300.30" y="88.00" font-size="5.8" text-anchor="middle" textLength="82.00" lengthAdjust="spacingAndGlyphs" transform="rotate(-90 300.30 88.00)"><tspan>FTD </tspan><tspan font-style="italic">Npm1</tspan><tspan baseline-shift="2.44" font-size="3.60">cA/+</tspan><tspan> mean (log10(FPKM+1))</tspan></text>
<text x="323.80" y="159.80" font-size="5.9" textLength="81.50" lengthAdjust="spacingAndGlyphs"><tspan>FTD IM </tspan><tspan font-style="italic">Setbp1</tspan><tspan baseline-shift="2.48" font-size="3.66">IM+</tspan><tspan> mean (log</tspan><tspan baseline-shift="-1.30" font-size="3.66">10</tspan><tspan>(FPKM+1)</tspan></text>
<text x="311.00" y="28.60" font-size="6.8" textLength="112.50" lengthAdjust="spacingAndGlyphs"><tspan font-style="italic">Flt3</tspan><tspan baseline-shift="2.86" font-size="4.22">ITD/+</tspan><tspan> /</tspan><tspan font-style="italic">Setbp1</tspan><tspan baseline-shift="2.86" font-size="4.22">IM+</tspan><tspan> vs </tspan><tspan font-style="italic">Flt3</tspan><tspan baseline-shift="2.86" font-size="4.22">ITD/+</tspan><tspan> /</tspan><tspan font-style="italic">Npm1</tspan><tspan baseline-shift="2.86" font-size="4.22">cA/+</tspan></text>
<circle cx="414.00" cy="33.30" r="0.70" fill="#7fb5e3"/>
<text x="417.70" y="34.80" font-size="4.4" fill="#222" textLength="20.30" lengthAdjust="spacingAndGlyphs">padj&lt;1E10</text>
<circle cx="414.00" cy="39.10" r="0.70" fill="#a9cfee"/>
<text x="417.70" y="40.60" font-size="4.4" fill="#222" textLength="24.10" lengthAdjust="spacingAndGlyphs">padj&lt;E5-E10</text>
<circle cx="414.00" cy="45.40" r="0.70" fill="#cfe6f7"/>
<text x="417.70" y="46.90" font-size="4.4" fill="#222" textLength="28.50" lengthAdjust="spacingAndGlyphs"><tspan>0.01&lt;padj&lt;10</tspan><tspan baseline-shift="1.85" font-size="2.73">-5</tspan></text>
<circle cx="414.00" cy="52.10" r="0.70" fill="#d62020"/>
<text x="417.70" y="53.60" font-size="4.4" fill="#222" textLength="52.10" lengthAdjust="spacingAndGlyphs"><tspan font-style="italic">Setbp1</tspan><tspan> Signature padj&lt;0.01</tspan></text>
<circle cx="398.40" cy="78.10" r="0.80" fill="#d62020"/>
<circle cx="382.20" cy="87.40" r="0.80" fill="#d62020"/>
<circle cx="379.50" cy="92.00" r="0.80" fill="#d62020"/>
<circle cx="360.90" cy="95.50" r="0.80" fill="#d62020"/>
<circle cx="365.30" cy="100.40" r="0.80" fill="#d62020"/>
<circle cx="366.40" cy="106.50" r="0.80" fill="#d62020"/>
<circle cx="334.80" cy="108.50" r="0.80" fill="#d62020"/>
<circle cx="325.20" cy="118.50" r="0.80" fill="#d62020"/>
<circle cx="315.40" cy="125.20" r="0.80" fill="#d62020"/>
<circle cx="345.00" cy="121.90" r="0.80" fill="#d62020"/>
<circle cx="350.80" cy="120.40" r="0.80" fill="#d62020"/>
<circle cx="354.00" cy="125.80" r="0.80" fill="#d62020"/>
<circle cx="341.20" cy="137.30" r="0.80" fill="#d62020"/>
<text x="401.00" y="80.00" font-size="4.6" font-weight="bold" font-style="italic">Elane</text>
<text x="384.50" y="88.50" font-size="4.6" font-weight="bold" font-style="italic">Myc</text>
<text x="382.00" y="94.30" font-size="4.6" font-weight="bold" font-style="italic">Myb</text>
<text x="363.00" y="97.20" font-size="4.6" font-weight="bold" font-style="italic">Kdm1a</text>
<text x="367.50" y="102.20" font-size="4.6" font-weight="bold" font-style="italic">Bcl2</text>
<text x="368.50" y="108.30" font-size="4.6" font-weight="bold" font-style="italic">Cd34</text>
<text x="333.50" y="106.30" font-size="4.6" font-weight="bold" font-style="italic">Hoxa9</text>
<text x="322.00" y="117.00" font-size="4.6" font-weight="bold" font-style="italic">Hoxa3</text>
<text x="315.00" y="123.60" font-size="4.6" font-weight="bold" font-style="italic">Nkx2-3</text>
<text x="338.80" y="121.20" font-size="4.6" font-weight="bold" font-style="italic">Meis1</text>
<text x="354.00" y="119.80" font-size="4.6" font-weight="bold" font-style="italic">Gfi1</text>
<text x="356.00" y="127.50" font-size="4.6" font-weight="bold" font-style="italic">Setbp1</text>
<text x="343.00" y="136.20" font-size="4.6" font-weight="bold" font-style="italic">Mecom</text>
<text x="18.30" y="198.70" font-size="6.6" textLength="71.10" lengthAdjust="spacingAndGlyphs">Individual gene expression</text>
<rect x="52.30" y="216.25" width="4.60" height="1.10" fill="#666"/>
<rect x="57.40" y="216.30" width="4.60" height="1.00" fill="#c4c4c4"/>
<line x1="62.60" y1="216.50" x2="83.30" y2="216.50" stroke="#444" stroke-width="0.7"/>
<rect x="82.60" y="216.20" width="1.20" height="1.20" fill="#333"/>
<rect x="52.30" y="219.35" width="4.60" height="1.10" fill="#666"/>
<rect x="57.40" y="219.40" width="4.60" height="1.00" fill="#c4c4c4"/>
<line x1="62.60" y1="219.50" x2="72.50" y2="219.50" stroke="#444" stroke-width="0.7"/>
<rect x="71.80" y="219.30" width="1.20" height="1.20" fill="#333"/>
<rect x="52.30" y="222.35" width="4.60" height="1.10" fill="#666"/>
<rect x="57.40" y="222.40" width="4.60" height="1.00" fill="#c4c4c4"/>
<line x1="62.60" y1="222.50" x2="62.90" y2="222.50" stroke="#444" stroke-width="0.7"/>
<rect x="62.20" y="222.30" width="1.20" height="1.20" fill="#333"/>
<rect x="62.40" y="225.25" width="4.60" height="1.10" fill="#666"/>
<rect x="67.50" y="225.30" width="4.60" height="1.00" fill="#c4c4c4"/>
<line x1="72.70" y1="225.50" x2="83.30" y2="225.50" stroke="#444" stroke-width="0.7"/>
<rect x="82.60" y="225.20" width="1.20" height="1.20" fill="#333"/>
<rect x="62.40" y="228.35" width="4.60" height="1.10" fill="#666"/>
<rect x="67.50" y="228.40" width="4.60" height="1.00" fill="#c4c4c4"/>
<line x1="72.70" y1="228.50" x2="72.50" y2="228.50" stroke="#444" stroke-width="0.7"/>
<rect x="71.80" y="228.30" width="1.20" height="1.20" fill="#333"/>
<line x1="40.70" y1="261.50" x2="92.60" y2="261.50" stroke="#222" stroke-width="0.75" stroke-dasharray="0.9 0.9"/>
<line x1="52.20" y1="250.50" x2="52.20" y2="251.30" stroke="#333" stroke-width="0.45"/>
<line x1="52.20" y1="253.50" x2="52.20" y2="254.30" stroke="#333" stroke-width="0.45"/>
<line x1="50.70" y1="250.50" x2="53.70" y2="250.50" stroke="#333" stroke-width="0.45"/>
<line x1="50.70" y1="254.30" x2="53.70" y2="254.30" stroke="#333" stroke-width="0.45"/>
<rect x="48.50" y="251.30" width="7.40" height="2.20" fill="#1e2a45" stroke="#333" stroke-width="0.35"/>
<line x1="48.50" y1="252.50" x2="55.90" y2="252.50" stroke="#111" stroke-width="0.7"/>
<line x1="62.40" y1="258.40" x2="62.40" y2="259.00" stroke="#333" stroke-width="0.45"/>
<line x1="62.40" y1="269.60" x2="62.40" y2="272.30" stroke="#333" stroke-width="0.45"/>
<line x1="60.90" y1="258.40" x2="63.90" y2="258.40" stroke="#333" stroke-width="0.45"/>
<line x1="60.90" y1="272.30" x2="63.90" y2="272.30" stroke="#333" stroke-width="0.45"/>
<rect x="58.30" y="259.00" width="8.20" height="10.60" fill="#6aace6" stroke="#333" stroke-width="0.35"/>
<line x1="58.30" y1="261.50" x2="66.50" y2="261.50" stroke="#111" stroke-width="0.7"/>
<line x1="72.65" y1="237.90" x2="72.65" y2="238.50" stroke="#333" stroke-width="0.45"/>
<line x1="72.65" y1="240.50" x2="72.65" y2="241.10" stroke="#333" stroke-width="0.45"/>
<line x1="71.15" y1="237.90" x2="74.15" y2="237.90" stroke="#333" stroke-width="0.45"/>
<line x1="71.15" y1="241.10" x2="74.15" y2="241.10" stroke="#333" stroke-width="0.45"/>
<rect x="69.00" y="238.50" width="7.30" height="2.00" fill="#eea128" stroke="#333" stroke-width="0.35"/>
<line x1="69.00" y1="239.50" x2="76.30" y2="239.50" stroke="#111" stroke-width="0.7"/>
<line x1="82.80" y1="234.80" x2="82.80" y2="235.60" stroke="#333" stroke-width="0.45"/>
<line x1="82.80" y1="241.30" x2="82.80" y2="242.00" stroke="#333" stroke-width="0.45"/>
<line x1="81.30" y1="234.80" x2="84.30" y2="234.80" stroke="#333" stroke-width="0.45"/>
<line x1="81.30" y1="242.00" x2="84.30" y2="242.00" stroke="#333" stroke-width="0.45"/>
<rect x="78.70" y="235.60" width="8.20" height="5.70" fill="#b3163c" stroke="#333" stroke-width="0.35"/>
<line x1="78.70" y1="238.50" x2="86.90" y2="238.50" stroke="#111" stroke-width="0.7"/>
<line x1="40.50" y1="213.20" x2="40.50" y2="273.20" stroke="#000" stroke-width="1.0"/>
<line x1="40.30" y1="272.50" x2="94.60" y2="272.50" stroke="#000" stroke-width="1.0"/>
<line x1="38.10" y1="216.50" x2="40.70" y2="216.50" stroke="#000" stroke-width="0.8"/>
<text x="35.30" y="217.70" font-size="4.4" text-anchor="end" stroke="#000" stroke-width="0.07">8</text>
<line x1="38.10" y1="238.50" x2="40.70" y2="238.50" stroke="#000" stroke-width="0.8"/>
<text x="35.30" y="240.50" font-size="4.4" text-anchor="end" stroke="#000" stroke-width="0.07">4</text>
<line x1="38.10" y1="261.50" x2="40.70" y2="261.50" stroke="#000" stroke-width="0.8"/>
<text x="35.30" y="263.30" font-size="4.4" text-anchor="end" stroke="#000" stroke-width="0.07">0</text>
<line x1="52.50" y1="272.80" x2="52.50" y2="275.00" stroke="#000" stroke-width="0.8"/>
<line x1="62.50" y1="272.80" x2="62.50" y2="275.00" stroke="#000" stroke-width="0.8"/>
<line x1="72.50" y1="272.80" x2="72.50" y2="275.00" stroke="#000" stroke-width="0.8"/>
<line x1="82.50" y1="272.80" x2="82.50" y2="275.00" stroke="#000" stroke-width="0.8"/>
<text x="53.80" y="280.40" font-size="4.6" text-anchor="end" stroke="#000" stroke-width="0.07" textLength="37.50" lengthAdjust="spacingAndGlyphs" transform="rotate(-45 53.80 280.40)"><tspan>WT Lineage negative</tspan></text>
<text x="64.00" y="280.40" font-size="4.6" text-anchor="end" stroke="#000" stroke-width="0.07" textLength="31.50" lengthAdjust="spacingAndGlyphs" transform="rotate(-45 64.00 280.40)"><tspan font-style="italic">Flt3</tspan><tspan baseline-shift="1.93" font-size="2.85">ITD/+</tspan><tspan> </tspan><tspan font-style="italic">Setbp1</tspan><tspan baseline-shift="1.93" font-size="2.85">IM-</tspan></text>
<text x="74.20" y="280.40" font-size="4.6" text-anchor="end" stroke="#000" stroke-width="0.07" textLength="30.00" lengthAdjust="spacingAndGlyphs" transform="rotate(-45 74.20 280.40)"><tspan font-style="italic">Flt3</tspan><tspan baseline-shift="1.93" font-size="2.85">ITD/+</tspan><tspan> </tspan><tspan font-style="italic">Npm1</tspan><tspan baseline-shift="1.93" font-size="2.85">cA/+</tspan></text>
<text x="84.40" y="280.40" font-size="4.6" text-anchor="end" stroke="#000" stroke-width="0.07" textLength="32.50" lengthAdjust="spacingAndGlyphs" transform="rotate(-45 84.40 280.40)"><tspan font-style="italic">Flt3</tspan><tspan baseline-shift="1.93" font-size="2.85">ITD/+</tspan><tspan> </tspan><tspan font-style="italic">Setbp1</tspan><tspan baseline-shift="1.93" font-size="2.85">IM+</tspan></text>
<text x="67.30" y="207.30" font-size="5.0" text-anchor="middle" font-style="italic" stroke="#000" stroke-width="0.04" textLength="12.00" lengthAdjust="spacingAndGlyphs">Hoxa9</text>
<text x="28.10" y="243.00" font-size="6.4" text-anchor="middle" font-weight="bold" textLength="36.00" lengthAdjust="spacingAndGlyphs" transform="rotate(-90 28.10 243.00)">Normalized FPKM</text>
<rect x="134.00" y="214.85" width="4.60" height="1.10" fill="#666"/>
<rect x="139.10" y="214.90" width="4.60" height="1.00" fill="#c4c4c4"/>
<line x1="144.30" y1="215.50" x2="166.20" y2="215.50" stroke="#444" stroke-width="0.7"/>
<rect x="165.50" y="214.80" width="1.20" height="1.20" fill="#333"/>
<rect x="134.00" y="217.65" width="4.60" height="1.10" fill="#666"/>
<rect x="139.10" y="217.70" width="4.60" height="1.00" fill="#c4c4c4"/>
<line x1="144.30" y1="218.50" x2="154.80" y2="218.50" stroke="#444" stroke-width="0.7"/>
<rect x="154.10" y="217.60" width="1.20" height="1.20" fill="#333"/>
<rect x="134.00" y="220.45" width="4.60" height="1.10" fill="#666"/>
<rect x="139.10" y="220.50" width="4.60" height="1.00" fill="#c4c4c4"/>
<line x1="144.30" y1="221.50" x2="147.90" y2="221.50" stroke="#444" stroke-width="0.7"/>
<rect x="147.20" y="220.40" width="1.20" height="1.20" fill="#333"/>
<rect x="144.10" y="223.55" width="4.60" height="1.10" fill="#666"/>
<rect x="149.20" y="223.60" width="4.60" height="1.00" fill="#c4c4c4"/>
<line x1="154.40" y1="224.50" x2="166.20" y2="224.50" stroke="#444" stroke-width="0.7"/>
<rect x="165.50" y="223.50" width="1.20" height="1.20" fill="#333"/>
<rect x="144.10" y="226.65" width="4.60" height="1.10" fill="#666"/>
<rect x="149.20" y="226.70" width="4.60" height="1.00" fill="#c4c4c4"/>
<line x1="154.40" y1="227.50" x2="155.60" y2="227.50" stroke="#444" stroke-width="0.7"/>
<rect x="154.90" y="226.60" width="1.20" height="1.20" fill="#333"/>
<line x1="123.40" y1="245.50" x2="174.80" y2="245.50" stroke="#222" stroke-width="0.75" stroke-dasharray="0.9 0.9"/>
<line x1="134.95" y1="248.80" x2="134.95" y2="249.50" stroke="#333" stroke-width="0.45"/>
<line x1="134.95" y1="251.50" x2="134.95" y2="252.20" stroke="#333" stroke-width="0.45"/>
<line x1="133.45" y1="248.80" x2="136.45" y2="248.80" stroke="#333" stroke-width="0.45"/>
<line x1="133.45" y1="252.20" x2="136.45" y2="252.20" stroke="#333" stroke-width="0.45"/>
<rect x="131.00" y="249.50" width="7.90" height="2.00" fill="#1e2a45" stroke="#333" stroke-width="0.35"/>
<line x1="131.00" y1="250.50" x2="138.90" y2="250.50" stroke="#111" stroke-width="0.7"/>
<line x1="144.95" y1="251.20" x2="144.95" y2="252.60" stroke="#333" stroke-width="0.45"/>
<line x1="144.95" y1="261.80" x2="144.95" y2="263.00" stroke="#333" stroke-width="0.45"/>
<line x1="143.45" y1="251.20" x2="146.45" y2="251.20" stroke="#333" stroke-width="0.45"/>
<line x1="143.45" y1="263.00" x2="146.45" y2="263.00" stroke="#333" stroke-width="0.45"/>
<rect x="140.90" y="252.60" width="8.10" height="9.20" fill="#6aace6" stroke="#333" stroke-width="0.35"/>
<line x1="140.90" y1="257.50" x2="149.00" y2="257.50" stroke="#111" stroke-width="0.7"/>
<line x1="155.15" y1="232.20" x2="155.15" y2="232.70" stroke="#333" stroke-width="0.45"/>
<line x1="155.15" y1="235.10" x2="155.15" y2="235.60" stroke="#333" stroke-width="0.45"/>
<line x1="153.65" y1="232.20" x2="156.65" y2="232.20" stroke="#333" stroke-width="0.45"/>
<line x1="153.65" y1="235.60" x2="156.65" y2="235.60" stroke="#333" stroke-width="0.45"/>
<rect x="151.50" y="232.70" width="7.30" height="2.40" fill="#eea128" stroke="#333" stroke-width="0.35"/>
<line x1="151.50" y1="233.50" x2="158.80" y2="233.50" stroke="#111" stroke-width="0.7"/>
<line x1="165.65" y1="234.80" x2="165.65" y2="235.60" stroke="#333" stroke-width="0.45"/>
<line x1="165.65" y1="240.90" x2="165.65" y2="242.20" stroke="#333" stroke-width="0.45"/>
<line x1="164.15" y1="234.80" x2="167.15" y2="234.80" stroke="#333" stroke-width="0.45"/>
<line x1="164.15" y1="242.20" x2="167.15" y2="242.20" stroke="#333" stroke-width="0.45"/>
<rect x="161.80" y="235.60" width="7.70" height="5.30" fill="#b3163c" stroke="#333" stroke-width="0.35"/>
<line x1="161.80" y1="237.50" x2="169.50" y2="237.50" stroke="#111" stroke-width="0.7"/>
<line x1="123.50" y1="214.40" x2="123.50" y2="273.40" stroke="#000" stroke-width="1.0"/>
<line x1="123.00" y1="273.50" x2="176.80" y2="273.50" stroke="#000" stroke-width="1.0"/>
<line x1="120.80" y1="216.50" x2="123.40" y2="216.50" stroke="#000" stroke-width="0.8"/>
<text x="118.00" y="218.40" font-size="4.4" text-anchor="end" stroke="#000" stroke-width="0.07">8</text>
<line x1="120.80" y1="231.50" x2="123.40" y2="231.50" stroke="#000" stroke-width="0.8"/>
<text x="118.00" y="232.60" font-size="4.4" text-anchor="end" stroke="#000" stroke-width="0.07">4</text>
<line x1="120.80" y1="245.50" x2="123.40" y2="245.50" stroke="#000" stroke-width="0.8"/>
<text x="118.00" y="246.70" font-size="4.4" text-anchor="end" stroke="#000" stroke-width="0.07">0</text>
<line x1="120.80" y1="259.50" x2="123.40" y2="259.50" stroke="#000" stroke-width="0.8"/>
<text x="118.00" y="260.70" font-size="4.4" text-anchor="end" stroke="#000" stroke-width="0.07">-4</text>
<line x1="120.80" y1="273.50" x2="123.40" y2="273.50" stroke="#000" stroke-width="0.8"/>
<text x="118.00" y="274.60" font-size="4.4" text-anchor="end" stroke="#000" stroke-width="0.07">-8</text>
<line x1="135.50" y1="273.00" x2="135.50" y2="275.20" stroke="#000" stroke-width="0.8"/>
<line x1="145.50" y1="273.00" x2="145.50" y2="275.20" stroke="#000" stroke-width="0.8"/>
<line x1="155.50" y1="273.00" x2="155.50" y2="275.20" stroke="#000" stroke-width="0.8"/>
<line x1="165.50" y1="273.00" x2="165.50" y2="275.20" stroke="#000" stroke-width="0.8"/>
<text x="136.60" y="280.60" font-size="4.6" text-anchor="end" stroke="#000" stroke-width="0.07" textLength="37.50" lengthAdjust="spacingAndGlyphs" transform="rotate(-45 136.60 280.60)"><tspan>WT Lineage negative</tspan></text>
<text x="146.60" y="280.60" font-size="4.6" text-anchor="end" stroke="#000" stroke-width="0.07" textLength="31.50" lengthAdjust="spacingAndGlyphs" transform="rotate(-45 146.60 280.60)"><tspan font-style="italic">Flt3</tspan><tspan baseline-shift="1.93" font-size="2.85">ITD/+</tspan><tspan> </tspan><tspan font-style="italic">Setbp1</tspan><tspan baseline-shift="1.93" font-size="2.85">IM-</tspan></text>
<text x="156.80" y="280.60" font-size="4.6" text-anchor="end" stroke="#000" stroke-width="0.07" textLength="30.00" lengthAdjust="spacingAndGlyphs" transform="rotate(-45 156.80 280.60)"><tspan font-style="italic">Flt3</tspan><tspan baseline-shift="1.93" font-size="2.85">ITD/+</tspan><tspan> </tspan><tspan font-style="italic">Npm1</tspan><tspan baseline-shift="1.93" font-size="2.85">cA/+</tspan></text>
<text x="167.20" y="280.60" font-size="4.6" text-anchor="end" stroke="#000" stroke-width="0.07" textLength="32.50" lengthAdjust="spacingAndGlyphs" transform="rotate(-45 167.20 280.60)"><tspan font-style="italic">Flt3</tspan><tspan baseline-shift="1.93" font-size="2.85">ITD/+</tspan><tspan> </tspan><tspan font-style="italic">Setbp1</tspan><tspan baseline-shift="1.93" font-size="2.85">IM+</tspan></text>
<text x="152.30" y="207.30" font-size="5.0" text-anchor="middle" font-style="italic" stroke="#000" stroke-width="0.04" textLength="14.50" lengthAdjust="spacingAndGlyphs">Hoxa10</text>
<text x="110.00" y="243.50" font-size="6.4" text-anchor="middle" font-weight="bold" textLength="36.00" lengthAdjust="spacingAndGlyphs" transform="rotate(-90 110.00 243.50)">Normalized FPKM</text>
<rect x="217.60" y="210.75" width="4.60" height="1.10" fill="#666"/>
<rect x="222.70" y="210.80" width="4.60" height="1.00" fill="#c4c4c4"/>
<line x1="227.90" y1="211.50" x2="248.60" y2="211.50" stroke="#444" stroke-width="0.7"/>
<rect x="247.90" y="210.70" width="1.20" height="1.20" fill="#333"/>
<rect x="217.60" y="214.05" width="4.60" height="1.10" fill="#666"/>
<rect x="222.70" y="214.10" width="4.60" height="1.00" fill="#c4c4c4"/>
<line x1="227.90" y1="214.50" x2="226.00" y2="214.50" stroke="#444" stroke-width="0.7"/>
<rect x="225.30" y="214.00" width="1.20" height="1.20" fill="#333"/>
<rect x="227.40" y="217.05" width="4.60" height="1.10" fill="#666"/>
<rect x="232.50" y="217.10" width="4.60" height="1.00" fill="#c4c4c4"/>
<line x1="237.70" y1="217.50" x2="248.60" y2="217.50" stroke="#444" stroke-width="0.7"/>
<rect x="247.90" y="217.00" width="1.20" height="1.20" fill="#333"/>
<rect x="227.40" y="220.15" width="4.60" height="1.10" fill="#666"/>
<rect x="232.50" y="220.20" width="4.60" height="1.00" fill="#c4c4c4"/>
<line x1="237.70" y1="220.50" x2="238.80" y2="220.50" stroke="#444" stroke-width="0.7"/>
<rect x="238.10" y="220.10" width="1.20" height="1.20" fill="#333"/>
<rect x="230.70" y="223.05" width="4.60" height="1.10" fill="#666"/>
<rect x="235.80" y="223.10" width="4.60" height="1.00" fill="#c4c4c4"/>
<line x1="241.00" y1="223.50" x2="241.80" y2="223.50" stroke="#444" stroke-width="0.7"/>
<rect x="241.10" y="223.00" width="1.20" height="1.20" fill="#333"/>
<line x1="206.60" y1="253.50" x2="258.90" y2="253.50" stroke="#222" stroke-width="0.75" stroke-dasharray="0.9 0.9"/>
<line x1="218.25" y1="241.20" x2="218.25" y2="244.10" stroke="#333" stroke-width="0.45"/>
<line x1="218.25" y1="246.60" x2="218.25" y2="247.90" stroke="#333" stroke-width="0.45"/>
<line x1="216.75" y1="241.20" x2="219.75" y2="241.20" stroke="#333" stroke-width="0.45"/>
<line x1="216.75" y1="247.90" x2="219.75" y2="247.90" stroke="#333" stroke-width="0.45"/>
<rect x="214.30" y="244.10" width="7.90" height="2.50" fill="#1e2a45" stroke="#333" stroke-width="0.35"/>
<line x1="214.30" y1="245.50" x2="222.20" y2="245.50" stroke="#111" stroke-width="0.7"/>
<line x1="228.45" y1="252.30" x2="228.45" y2="256.40" stroke="#333" stroke-width="0.45"/>
<line x1="228.45" y1="271.90" x2="228.45" y2="272.60" stroke="#333" stroke-width="0.45"/>
<line x1="226.95" y1="252.30" x2="229.95" y2="252.30" stroke="#333" stroke-width="0.45"/>
<line x1="226.95" y1="272.60" x2="229.95" y2="272.60" stroke="#333" stroke-width="0.45"/>
<rect x="224.60" y="256.40" width="7.70" height="15.50" fill="#6aace6" stroke="#333" stroke-width="0.35"/>
<line x1="224.60" y1="267.50" x2="232.30" y2="267.50" stroke="#111" stroke-width="0.7"/>
<line x1="238.60" y1="243.80" x2="238.60" y2="246.30" stroke="#333" stroke-width="0.45"/>
<line x1="238.60" y1="251.50" x2="238.60" y2="253.40" stroke="#333" stroke-width="0.45"/>
<line x1="237.10" y1="243.80" x2="240.10" y2="243.80" stroke="#333" stroke-width="0.45"/>
<line x1="237.10" y1="253.40" x2="240.10" y2="253.40" stroke="#333" stroke-width="0.45"/>
<rect x="234.80" y="246.30" width="7.60" height="5.20" fill="#eea128" stroke="#333" stroke-width="0.35"/>
<line x1="234.80" y1="248.50" x2="242.40" y2="248.50" stroke="#111" stroke-width="0.7"/>
<line x1="248.85" y1="229.40" x2="248.85" y2="230.60" stroke="#333" stroke-width="0.45"/>
<line x1="248.85" y1="242.20" x2="248.85" y2="244.10" stroke="#333" stroke-width="0.45"/>
<line x1="247.35" y1="229.40" x2="250.35" y2="229.40" stroke="#333" stroke-width="0.45"/>
<line x1="247.35" y1="244.10" x2="250.35" y2="244.10" stroke="#333" stroke-width="0.45"/>
<rect x="245.00" y="230.60" width="7.70" height="11.60" fill="#b3163c" stroke="#333" stroke-width="0.35"/>
<line x1="245.00" y1="234.50" x2="252.70" y2="234.50" stroke="#111" stroke-width="0.7"/>
<line x1="206.50" y1="211.10" x2="206.50" y2="273.40" stroke="#000" stroke-width="1.0"/>
<line x1="206.20" y1="273.50" x2="260.90" y2="273.50" stroke="#000" stroke-width="1.0"/>
<line x1="204.00" y1="213.50" x2="206.60" y2="213.50" stroke="#000" stroke-width="0.8"/>
<text x="201.20" y="215.20" font-size="4.4" text-anchor="end" stroke="#000" stroke-width="0.07">6</text>
<line x1="204.00" y1="233.50" x2="206.60" y2="233.50" stroke="#000" stroke-width="0.8"/>
<text x="201.20" y="235.00" font-size="4.4" text-anchor="end" stroke="#000" stroke-width="0.07">3</text>
<line x1="204.00" y1="253.50" x2="206.60" y2="253.50" stroke="#000" stroke-width="0.8"/>
<text x="201.20" y="254.80" font-size="4.4" text-anchor="end" stroke="#000" stroke-width="0.07">0</text>
<line x1="204.00" y1="273.50" x2="206.60" y2="273.50" stroke="#000" stroke-width="0.8"/>
<text x="201.20" y="274.60" font-size="4.4" text-anchor="end" stroke="#000" stroke-width="0.07">-3</text>
<line x1="218.50" y1="273.00" x2="218.50" y2="275.20" stroke="#000" stroke-width="0.8"/>
<line x1="228.50" y1="273.00" x2="228.50" y2="275.20" stroke="#000" stroke-width="0.8"/>
<line x1="238.50" y1="273.00" x2="238.50" y2="275.20" stroke="#000" stroke-width="0.8"/>
<line x1="248.50" y1="273.00" x2="248.50" y2="275.20" stroke="#000" stroke-width="0.8"/>
<text x="219.90" y="280.60" font-size="4.6" text-anchor="end" stroke="#000" stroke-width="0.07" textLength="37.50" lengthAdjust="spacingAndGlyphs" transform="rotate(-45 219.90 280.60)"><tspan>WT Lineage negative</tspan></text>
<text x="230.10" y="280.60" font-size="4.6" text-anchor="end" stroke="#000" stroke-width="0.07" textLength="31.50" lengthAdjust="spacingAndGlyphs" transform="rotate(-45 230.10 280.60)"><tspan font-style="italic">Flt3</tspan><tspan baseline-shift="1.93" font-size="2.85">ITD/+</tspan><tspan> </tspan><tspan font-style="italic">Setbp1</tspan><tspan baseline-shift="1.93" font-size="2.85">IM-</tspan></text>
<text x="240.20" y="280.60" font-size="4.6" text-anchor="end" stroke="#000" stroke-width="0.07" textLength="30.00" lengthAdjust="spacingAndGlyphs" transform="rotate(-45 240.20 280.60)"><tspan font-style="italic">Flt3</tspan><tspan baseline-shift="1.93" font-size="2.85">ITD/+</tspan><tspan> </tspan><tspan font-style="italic">Npm1</tspan><tspan baseline-shift="1.93" font-size="2.85">cA/+</tspan></text>
<text x="250.40" y="280.60" font-size="4.6" text-anchor="end" stroke="#000" stroke-width="0.07" textLength="32.50" lengthAdjust="spacingAndGlyphs" transform="rotate(-45 250.40 280.60)"><tspan font-style="italic">Flt3</tspan><tspan baseline-shift="1.93" font-size="2.85">ITD/+</tspan><tspan> </tspan><tspan font-style="italic">Setbp1</tspan><tspan baseline-shift="1.93" font-size="2.85">IM+</tspan></text>
<text x="232.30" y="207.30" font-size="5.0" text-anchor="middle" font-style="italic" stroke="#000" stroke-width="0.04" textLength="11.50" lengthAdjust="spacingAndGlyphs">Meis1</text>
<text x="193.20" y="243.00" font-size="6.4" text-anchor="middle" font-weight="bold" textLength="36.00" lengthAdjust="spacingAndGlyphs" transform="rotate(-90 193.20 243.00)">Normalized FPKM</text>
<rect x="51.30" y="326.15" width="4.60" height="1.10" fill="#666"/>
<rect x="56.40" y="326.20" width="4.60" height="1.00" fill="#c4c4c4"/>
<line x1="61.60" y1="326.50" x2="75.50" y2="326.50" stroke="#444" stroke-width="0.7"/>
<rect x="74.80" y="326.10" width="1.20" height="1.20" fill="#333"/>
<rect x="51.30" y="329.45" width="4.60" height="1.10" fill="#666"/>
<rect x="56.40" y="329.50" width="4.60" height="1.00" fill="#c4c4c4"/>
<line x1="61.60" y1="330.50" x2="86.90" y2="330.50" stroke="#444" stroke-width="0.7"/>
<rect x="86.20" y="329.40" width="1.20" height="1.20" fill="#333"/>
<rect x="62.70" y="332.75" width="4.60" height="1.10" fill="#666"/>
<rect x="67.80" y="332.80" width="4.60" height="1.00" fill="#c4c4c4"/>
<line x1="73.00" y1="333.50" x2="86.90" y2="333.50" stroke="#444" stroke-width="0.7"/>
<rect x="86.20" y="332.70" width="1.20" height="1.20" fill="#333"/>
<rect x="74.20" y="335.55" width="4.60" height="1.10" fill="#666"/>
<rect x="79.30" y="335.60" width="4.60" height="1.00" fill="#c4c4c4"/>
<line x1="84.50" y1="336.50" x2="86.90" y2="336.50" stroke="#444" stroke-width="0.7"/>
<rect x="86.20" y="335.50" width="1.20" height="1.20" fill="#333"/>
<line x1="40.30" y1="355.50" x2="92.60" y2="355.50" stroke="#222" stroke-width="0.75" stroke-dasharray="0.9 0.9"/>
<line x1="52.05" y1="364.40" x2="52.05" y2="365.20" stroke="#333" stroke-width="0.45"/>
<line x1="52.05" y1="367.50" x2="52.05" y2="368.10" stroke="#333" stroke-width="0.45"/>
<line x1="50.55" y1="364.40" x2="53.55" y2="364.40" stroke="#333" stroke-width="0.45"/>
<line x1="50.55" y1="368.10" x2="53.55" y2="368.10" stroke="#333" stroke-width="0.45"/>
<rect x="48.20" y="365.20" width="7.70" height="2.30" fill="#1e2a45" stroke="#333" stroke-width="0.35"/>
<line x1="48.20" y1="366.50" x2="55.90" y2="366.50" stroke="#111" stroke-width="0.7"/>
<line x1="63.45" y1="347.30" x2="63.45" y2="352.20" stroke="#333" stroke-width="0.45"/>
<line x1="63.45" y1="372.60" x2="63.45" y2="376.20" stroke="#333" stroke-width="0.45"/>
<line x1="61.95" y1="347.30" x2="64.95" y2="347.30" stroke="#333" stroke-width="0.45"/>
<line x1="61.95" y1="376.20" x2="64.95" y2="376.20" stroke="#333" stroke-width="0.45"/>
<rect x="59.60" y="352.20" width="7.70" height="20.40" fill="#6aace6" stroke="#333" stroke-width="0.35"/>
<line x1="59.60" y1="363.50" x2="67.30" y2="363.50" stroke="#111" stroke-width="0.7"/>
<line x1="74.85" y1="352.80" x2="74.85" y2="353.80" stroke="#333" stroke-width="0.45"/>
<line x1="74.85" y1="357.40" x2="74.85" y2="358.70" stroke="#333" stroke-width="0.45"/>
<line x1="73.35" y1="352.80" x2="76.35" y2="352.80" stroke="#333" stroke-width="0.45"/>
<line x1="73.35" y1="358.70" x2="76.35" y2="358.70" stroke="#333" stroke-width="0.45"/>
<rect x="71.00" y="353.80" width="7.70" height="3.60" fill="#eea128" stroke="#333" stroke-width="0.35"/>
<line x1="71.00" y1="355.50" x2="78.70" y2="355.50" stroke="#111" stroke-width="0.7"/>
<line x1="86.50" y1="343.90" x2="86.50" y2="344.30" stroke="#333" stroke-width="0.45"/>
<line x1="86.50" y1="346.30" x2="86.50" y2="346.70" stroke="#333" stroke-width="0.45"/>
<line x1="85.00" y1="343.90" x2="88.00" y2="343.90" stroke="#333" stroke-width="0.45"/>
<line x1="85.00" y1="346.70" x2="88.00" y2="346.70" stroke="#333" stroke-width="0.45"/>
<rect x="82.50" y="344.30" width="8.00" height="2.00" fill="#b3163c" stroke="#333" stroke-width="0.35"/>
<line x1="82.50" y1="345.50" x2="90.50" y2="345.50" stroke="#111" stroke-width="0.7"/>
<line x1="40.50" y1="325.90" x2="40.50" y2="383.50" stroke="#000" stroke-width="1.0"/>
<line x1="39.90" y1="383.50" x2="94.60" y2="383.50" stroke="#000" stroke-width="1.0"/>
<line x1="37.70" y1="328.50" x2="40.30" y2="328.50" stroke="#000" stroke-width="0.8"/>
<text x="34.90" y="329.90" font-size="4.4" text-anchor="end" stroke="#000" stroke-width="0.07">10</text>
<line x1="37.70" y1="342.50" x2="40.30" y2="342.50" stroke="#000" stroke-width="0.8"/>
<text x="34.90" y="343.70" font-size="4.4" text-anchor="end" stroke="#000" stroke-width="0.07">5</text>
<line x1="37.70" y1="355.50" x2="40.30" y2="355.50" stroke="#000" stroke-width="0.8"/>
<text x="34.90" y="357.40" font-size="4.4" text-anchor="end" stroke="#000" stroke-width="0.07">0</text>
<line x1="37.70" y1="369.50" x2="40.30" y2="369.50" stroke="#000" stroke-width="0.8"/>
<text x="34.90" y="371.20" font-size="4.4" text-anchor="end" stroke="#000" stroke-width="0.07">-5</text>
<line x1="37.70" y1="383.50" x2="40.30" y2="383.50" stroke="#000" stroke-width="0.8"/>
<text x="34.90" y="384.70" font-size="4.4" text-anchor="end" stroke="#000" stroke-width="0.07">-10</text>
<line x1="52.50" y1="383.10" x2="52.50" y2="385.30" stroke="#000" stroke-width="0.8"/>
<line x1="63.50" y1="383.10" x2="63.50" y2="385.30" stroke="#000" stroke-width="0.8"/>
<line x1="74.50" y1="383.10" x2="74.50" y2="385.30" stroke="#000" stroke-width="0.8"/>
<line x1="86.50" y1="383.10" x2="86.50" y2="385.30" stroke="#000" stroke-width="0.8"/>
<text x="53.60" y="390.70" font-size="4.6" text-anchor="end" stroke="#000" stroke-width="0.07" textLength="37.50" lengthAdjust="spacingAndGlyphs" transform="rotate(-45 53.60 390.70)"><tspan>WT Lineage negative</tspan></text>
<text x="65.00" y="390.70" font-size="4.6" text-anchor="end" stroke="#000" stroke-width="0.07" textLength="31.50" lengthAdjust="spacingAndGlyphs" transform="rotate(-45 65.00 390.70)"><tspan font-style="italic">Flt3</tspan><tspan baseline-shift="1.93" font-size="2.85">ITD/+</tspan><tspan> </tspan><tspan font-style="italic">Setbp1</tspan><tspan baseline-shift="1.93" font-size="2.85">IM-</tspan></text>
<text x="76.50" y="390.70" font-size="4.6" text-anchor="end" stroke="#000" stroke-width="0.07" textLength="30.00" lengthAdjust="spacingAndGlyphs" transform="rotate(-45 76.50 390.70)"><tspan font-style="italic">Flt3</tspan><tspan baseline-shift="1.93" font-size="2.85">ITD/+</tspan><tspan> </tspan><tspan font-style="italic">Npm1</tspan><tspan baseline-shift="1.93" font-size="2.85">cA/+</tspan></text>
<text x="88.10" y="390.70" font-size="4.6" text-anchor="end" stroke="#000" stroke-width="0.07" textLength="32.50" lengthAdjust="spacingAndGlyphs" transform="rotate(-45 88.10 390.70)"><tspan font-style="italic">Flt3</tspan><tspan baseline-shift="1.93" font-size="2.85">ITD/+</tspan><tspan> </tspan><tspan font-style="italic">Setbp1</tspan><tspan baseline-shift="1.93" font-size="2.85">IM+</tspan></text>
<text x="67.30" y="321.00" font-size="5.0" text-anchor="middle" font-style="italic" stroke="#000" stroke-width="0.04" textLength="13.50" lengthAdjust="spacingAndGlyphs">Setbp1</text>
<text x="24.60" y="354.50" font-size="6.4" text-anchor="middle" font-weight="bold" textLength="36.00" lengthAdjust="spacingAndGlyphs" transform="rotate(-90 24.60 354.50)">Normalized FPKM</text>
<rect x="134.80" y="326.55" width="4.60" height="1.10" fill="#666"/>
<rect x="139.90" y="326.60" width="4.60" height="1.00" fill="#c4c4c4"/>
<line x1="145.10" y1="327.50" x2="163.70" y2="327.50" stroke="#444" stroke-width="0.7"/>
<rect x="163.00" y="326.50" width="1.20" height="1.20" fill="#333"/>
<rect x="134.80" y="329.75" width="4.60" height="1.10" fill="#666"/>
<rect x="139.90" y="329.80" width="4.60" height="1.00" fill="#c4c4c4"/>
<line x1="145.10" y1="330.50" x2="153.10" y2="330.50" stroke="#444" stroke-width="0.7"/>
<rect x="152.40" y="329.70" width="1.20" height="1.20" fill="#333"/>
<rect x="134.80" y="332.75" width="4.60" height="1.10" fill="#666"/>
<rect x="139.90" y="332.80" width="4.60" height="1.00" fill="#c4c4c4"/>
<line x1="145.10" y1="333.50" x2="143.60" y2="333.50" stroke="#444" stroke-width="0.7"/>
<rect x="142.90" y="332.70" width="1.20" height="1.20" fill="#333"/>
<rect x="144.10" y="335.55" width="4.60" height="1.10" fill="#666"/>
<rect x="149.20" y="335.60" width="4.60" height="1.00" fill="#c4c4c4"/>
<line x1="154.40" y1="336.50" x2="163.70" y2="336.50" stroke="#444" stroke-width="0.7"/>
<rect x="163.00" y="335.50" width="1.20" height="1.20" fill="#333"/>
<rect x="144.10" y="338.75" width="4.60" height="1.10" fill="#666"/>
<rect x="149.20" y="338.80" width="4.60" height="1.00" fill="#c4c4c4"/>
<line x1="154.40" y1="339.50" x2="154.80" y2="339.50" stroke="#444" stroke-width="0.7"/>
<rect x="154.10" y="338.70" width="1.20" height="1.20" fill="#333"/>
<line x1="123.40" y1="375.50" x2="175.60" y2="375.50" stroke="#222" stroke-width="0.75" stroke-dasharray="0.9 0.9"/>
<line x1="134.95" y1="362.90" x2="134.95" y2="363.40" stroke="#333" stroke-width="0.45"/>
<line x1="134.95" y1="365.10" x2="134.95" y2="365.60" stroke="#333" stroke-width="0.45"/>
<line x1="133.45" y1="362.90" x2="136.45" y2="362.90" stroke="#333" stroke-width="0.45"/>
<line x1="133.45" y1="365.60" x2="136.45" y2="365.60" stroke="#333" stroke-width="0.45"/>
<rect x="131.00" y="363.40" width="7.90" height="1.70" fill="#1e2a45" stroke="#333" stroke-width="0.35"/>
<line x1="131.00" y1="364.50" x2="138.90" y2="364.50" stroke="#111" stroke-width="0.7"/>
<line x1="145.20" y1="363.60" x2="145.20" y2="364.30" stroke="#333" stroke-width="0.45"/>
<line x1="145.20" y1="379.50" x2="145.20" y2="381.10" stroke="#333" stroke-width="0.45"/>
<line x1="143.70" y1="363.60" x2="146.70" y2="363.60" stroke="#333" stroke-width="0.45"/>
<line x1="143.70" y1="381.10" x2="146.70" y2="381.10" stroke="#333" stroke-width="0.45"/>
<rect x="141.40" y="364.30" width="7.60" height="15.20" fill="#6aace6" stroke="#333" stroke-width="0.35"/>
<line x1="141.40" y1="369.50" x2="149.00" y2="369.50" stroke="#111" stroke-width="0.7"/>
<line x1="155.35" y1="348.10" x2="155.35" y2="349.60" stroke="#333" stroke-width="0.45"/>
<line x1="155.35" y1="351.70" x2="155.35" y2="352.20" stroke="#333" stroke-width="0.45"/>
<line x1="153.85" y1="348.10" x2="156.85" y2="348.10" stroke="#333" stroke-width="0.45"/>
<line x1="153.85" y1="352.20" x2="156.85" y2="352.20" stroke="#333" stroke-width="0.45"/>
<rect x="151.50" y="349.60" width="7.70" height="2.10" fill="#eea128" stroke="#333" stroke-width="0.35"/>
<line x1="151.50" y1="350.50" x2="159.20" y2="350.50" stroke="#111" stroke-width="0.7"/>
<line x1="165.40" y1="349.70" x2="165.40" y2="350.00" stroke="#333" stroke-width="0.45"/>
<line x1="165.40" y1="351.40" x2="165.40" y2="351.70" stroke="#333" stroke-width="0.45"/>
<line x1="163.90" y1="349.70" x2="166.90" y2="349.70" stroke="#333" stroke-width="0.45"/>
<line x1="163.90" y1="351.70" x2="166.90" y2="351.70" stroke="#333" stroke-width="0.45"/>
<rect x="161.30" y="350.00" width="8.20" height="1.40" fill="#b3163c" stroke="#333" stroke-width="0.35"/>
<line x1="161.30" y1="350.50" x2="169.50" y2="350.50" stroke="#111" stroke-width="0.7"/>
<line x1="123.50" y1="324.70" x2="123.50" y2="383.60" stroke="#000" stroke-width="1.0"/>
<line x1="123.00" y1="383.50" x2="177.60" y2="383.50" stroke="#000" stroke-width="1.0"/>
<line x1="120.80" y1="327.50" x2="123.40" y2="327.50" stroke="#000" stroke-width="0.8"/>
<text x="118.00" y="328.80" font-size="4.4" text-anchor="end" stroke="#000" stroke-width="0.07">12</text>
<line x1="120.80" y1="343.50" x2="123.40" y2="343.50" stroke="#000" stroke-width="0.8"/>
<text x="118.00" y="344.80" font-size="4.4" text-anchor="end" stroke="#000" stroke-width="0.07">8</text>
<line x1="120.80" y1="359.50" x2="123.40" y2="359.50" stroke="#000" stroke-width="0.8"/>
<text x="118.00" y="360.90" font-size="4.4" text-anchor="end" stroke="#000" stroke-width="0.07">4</text>
<line x1="120.80" y1="375.50" x2="123.40" y2="375.50" stroke="#000" stroke-width="0.8"/>
<text x="118.00" y="377.00" font-size="4.4" text-anchor="end" stroke="#000" stroke-width="0.07">0</text>
<line x1="135.50" y1="383.20" x2="135.50" y2="385.40" stroke="#000" stroke-width="0.8"/>
<line x1="145.50" y1="383.20" x2="145.50" y2="385.40" stroke="#000" stroke-width="0.8"/>
<line x1="155.50" y1="383.20" x2="155.50" y2="385.40" stroke="#000" stroke-width="0.8"/>
<line x1="165.50" y1="383.20" x2="165.50" y2="385.40" stroke="#000" stroke-width="0.8"/>
<text x="136.60" y="390.80" font-size="4.6" text-anchor="end" stroke="#000" stroke-width="0.07" textLength="37.50" lengthAdjust="spacingAndGlyphs" transform="rotate(-45 136.60 390.80)"><tspan>WT Lineage negative</tspan></text>
<text x="146.80" y="390.80" font-size="4.6" text-anchor="end" stroke="#000" stroke-width="0.07" textLength="31.50" lengthAdjust="spacingAndGlyphs" transform="rotate(-45 146.80 390.80)"><tspan font-style="italic">Flt3</tspan><tspan baseline-shift="1.93" font-size="2.85">ITD/+</tspan><tspan> </tspan><tspan font-style="italic">Setbp1</tspan><tspan baseline-shift="1.93" font-size="2.85">IM-</tspan></text>
<text x="157.00" y="390.80" font-size="4.6" text-anchor="end" stroke="#000" stroke-width="0.07" textLength="30.00" lengthAdjust="spacingAndGlyphs" transform="rotate(-45 157.00 390.80)"><tspan font-style="italic">Flt3</tspan><tspan baseline-shift="1.93" font-size="2.85">ITD/+</tspan><tspan> </tspan><tspan font-style="italic">Npm1</tspan><tspan baseline-shift="1.93" font-size="2.85">cA/+</tspan></text>
<text x="167.00" y="390.80" font-size="4.6" text-anchor="end" stroke="#000" stroke-width="0.07" textLength="32.50" lengthAdjust="spacingAndGlyphs" transform="rotate(-45 167.00 390.80)"><tspan font-style="italic">Flt3</tspan><tspan baseline-shift="1.93" font-size="2.85">ITD/+</tspan><tspan> </tspan><tspan font-style="italic">Setbp1</tspan><tspan baseline-shift="1.93" font-size="2.85">IM+</tspan></text>
<text x="149.90" y="321.00" font-size="5.0" text-anchor="middle" font-style="italic" stroke="#000" stroke-width="0.04" textLength="8.50" lengthAdjust="spacingAndGlyphs">Flt3</text>
<text x="108.10" y="354.50" font-size="6.4" text-anchor="middle" font-weight="bold" textLength="36.00" lengthAdjust="spacingAndGlyphs" transform="rotate(-90 108.10 354.50)">Normalized FPKM</text>
<rect x="218.10" y="328.65" width="4.60" height="1.10" fill="#666"/>
<rect x="223.20" y="328.70" width="4.60" height="1.00" fill="#c4c4c4"/>
<line x1="228.40" y1="329.50" x2="247.00" y2="329.50" stroke="#444" stroke-width="0.7"/>
<rect x="246.30" y="328.60" width="1.20" height="1.20" fill="#333"/>
<rect x="227.10" y="331.75" width="4.60" height="1.10" fill="#666"/>
<rect x="232.20" y="331.80" width="4.60" height="1.00" fill="#c4c4c4"/>
<line x1="237.40" y1="332.50" x2="238.80" y2="332.50" stroke="#444" stroke-width="0.7"/>
<rect x="238.10" y="331.70" width="1.20" height="1.20" fill="#333"/>
<rect x="229.90" y="334.65" width="4.60" height="1.10" fill="#666"/>
<rect x="235.00" y="334.70" width="4.60" height="1.00" fill="#c4c4c4"/>
<line x1="240.20" y1="335.50" x2="241.80" y2="335.50" stroke="#444" stroke-width="0.7"/>
<rect x="241.10" y="334.60" width="1.20" height="1.20" fill="#333"/>
<line x1="206.20" y1="346.50" x2="258.60" y2="346.50" stroke="#222" stroke-width="0.75" stroke-dasharray="0.9 0.9"/>
<line x1="217.85" y1="347.90" x2="217.85" y2="349.70" stroke="#333" stroke-width="0.45"/>
<line x1="217.85" y1="352.20" x2="217.85" y2="353.80" stroke="#333" stroke-width="0.45"/>
<line x1="216.35" y1="347.90" x2="219.35" y2="347.90" stroke="#333" stroke-width="0.45"/>
<line x1="216.35" y1="353.80" x2="219.35" y2="353.80" stroke="#333" stroke-width="0.45"/>
<rect x="214.00" y="349.70" width="7.70" height="2.50" fill="#1e2a45" stroke="#333" stroke-width="0.35"/>
<line x1="214.00" y1="350.50" x2="221.70" y2="350.50" stroke="#111" stroke-width="0.7"/>
<line x1="228.05" y1="349.70" x2="228.05" y2="352.20" stroke="#333" stroke-width="0.45"/>
<line x1="228.05" y1="374.60" x2="228.05" y2="377.00" stroke="#333" stroke-width="0.45"/>
<line x1="226.55" y1="349.70" x2="229.55" y2="349.70" stroke="#333" stroke-width="0.45"/>
<line x1="226.55" y1="377.00" x2="229.55" y2="377.00" stroke="#333" stroke-width="0.45"/>
<rect x="224.10" y="352.20" width="7.90" height="22.40" fill="#6aace6" stroke="#333" stroke-width="0.35"/>
<line x1="224.10" y1="362.50" x2="232.00" y2="362.50" stroke="#111" stroke-width="0.7"/>
<line x1="237.85" y1="340.70" x2="237.85" y2="342.40" stroke="#333" stroke-width="0.45"/>
<line x1="237.85" y1="349.70" x2="237.85" y2="353.80" stroke="#333" stroke-width="0.45"/>
<line x1="236.35" y1="340.70" x2="239.35" y2="340.70" stroke="#333" stroke-width="0.45"/>
<line x1="236.35" y1="353.80" x2="239.35" y2="353.80" stroke="#333" stroke-width="0.45"/>
<rect x="233.90" y="342.40" width="7.90" height="7.30" fill="#eea128" stroke="#333" stroke-width="0.35"/>
<line x1="233.90" y1="345.50" x2="241.80" y2="345.50" stroke="#111" stroke-width="0.7"/>
<line x1="247.80" y1="352.20" x2="247.80" y2="354.10" stroke="#333" stroke-width="0.45"/>
<line x1="247.80" y1="376.70" x2="247.80" y2="376.90" stroke="#333" stroke-width="0.45"/>
<line x1="246.30" y1="352.20" x2="249.30" y2="352.20" stroke="#333" stroke-width="0.45"/>
<line x1="246.30" y1="376.90" x2="249.30" y2="376.90" stroke="#333" stroke-width="0.45"/>
<rect x="243.70" y="354.10" width="8.20" height="22.60" fill="#b3163c" stroke="#333" stroke-width="0.35"/>
<line x1="243.70" y1="368.50" x2="251.90" y2="368.50" stroke="#111" stroke-width="0.7"/>
<line x1="206.50" y1="326.00" x2="206.50" y2="384.00" stroke="#000" stroke-width="1.0"/>
<line x1="205.80" y1="383.50" x2="260.60" y2="383.50" stroke="#000" stroke-width="1.0"/>
<line x1="203.60" y1="328.50" x2="206.20" y2="328.50" stroke="#000" stroke-width="0.8"/>
<text x="200.80" y="330.40" font-size="4.4" text-anchor="end" stroke="#000" stroke-width="0.07">6</text>
<line x1="203.60" y1="346.50" x2="206.20" y2="346.50" stroke="#000" stroke-width="0.8"/>
<text x="200.80" y="348.50" font-size="4.4" text-anchor="end" stroke="#000" stroke-width="0.07">0</text>
<line x1="203.60" y1="365.50" x2="206.20" y2="365.50" stroke="#000" stroke-width="0.8"/>
<text x="200.80" y="366.80" font-size="4.4" text-anchor="end" stroke="#000" stroke-width="0.07">-6</text>
<line x1="203.60" y1="383.50" x2="206.20" y2="383.50" stroke="#000" stroke-width="0.8"/>
<text x="200.80" y="385.20" font-size="4.4" text-anchor="end" stroke="#000" stroke-width="0.07">-12</text>
<line x1="217.50" y1="383.60" x2="217.50" y2="385.80" stroke="#000" stroke-width="0.8"/>
<line x1="228.50" y1="383.60" x2="228.50" y2="385.80" stroke="#000" stroke-width="0.8"/>
<line x1="237.50" y1="383.60" x2="237.50" y2="385.80" stroke="#000" stroke-width="0.8"/>
<line x1="247.50" y1="383.60" x2="247.50" y2="385.80" stroke="#000" stroke-width="0.8"/>
<text x="219.50" y="391.20" font-size="4.6" text-anchor="end" stroke="#000" stroke-width="0.07" textLength="37.50" lengthAdjust="spacingAndGlyphs" transform="rotate(-45 219.50 391.20)"><tspan>WT Lineage negative</tspan></text>
<text x="229.60" y="391.20" font-size="4.6" text-anchor="end" stroke="#000" stroke-width="0.07" textLength="31.50" lengthAdjust="spacingAndGlyphs" transform="rotate(-45 229.60 391.20)"><tspan font-style="italic">Flt3</tspan><tspan baseline-shift="1.93" font-size="2.85">ITD/+</tspan><tspan> </tspan><tspan font-style="italic">Setbp1</tspan><tspan baseline-shift="1.93" font-size="2.85">IM-</tspan></text>
<text x="239.40" y="391.20" font-size="4.6" text-anchor="end" stroke="#000" stroke-width="0.07" textLength="30.00" lengthAdjust="spacingAndGlyphs" transform="rotate(-45 239.40 391.20)"><tspan font-style="italic">Flt3</tspan><tspan baseline-shift="1.93" font-size="2.85">ITD/+</tspan><tspan> </tspan><tspan font-style="italic">Npm1</tspan><tspan baseline-shift="1.93" font-size="2.85">cA/+</tspan></text>
<text x="249.40" y="391.20" font-size="4.6" text-anchor="end" stroke="#000" stroke-width="0.07" textLength="32.50" lengthAdjust="spacingAndGlyphs" transform="rotate(-45 249.40 391.20)"><tspan font-style="italic">Flt3</tspan><tspan baseline-shift="1.93" font-size="2.85">ITD/+</tspan><tspan> </tspan><tspan font-style="italic">Setbp1</tspan><tspan baseline-shift="1.93" font-size="2.85">IM+</tspan></text>
<text x="233.10" y="321.00" font-size="5.0" text-anchor="middle" font-style="italic" stroke="#000" stroke-width="0.04" textLength="13.00" lengthAdjust="spacingAndGlyphs">Nkx2.3</text>
<text x="192.60" y="354.50" font-size="6.4" text-anchor="middle" font-weight="bold" textLength="36.00" lengthAdjust="spacingAndGlyphs" transform="rotate(-90 192.60 354.50)">Normalized FPKM</text>
<text x="317.50" y="208.70" font-size="6.2" textLength="174.50" lengthAdjust="spacingAndGlyphs"><tspan font-style="italic">NKX2.3</tspan><tspan> vs </tspan><tspan font-style="italic">HOXA9</tspan><tspan> expression in 437 AMLs (Leucegene cohort)</tspan></text>
<circle cx="335.05" cy="353.20" r="1.25" fill="#6e6e6e"/>
<circle cx="336.90" cy="353.20" r="1.25" fill="#6e6e6e"/>
<circle cx="337.82" cy="353.20" r="1.25" fill="#6e6e6e"/>
<circle cx="349.85" cy="353.20" r="1.25" fill="#6e6e6e"/>
<circle cx="351.70" cy="353.20" r="1.25" fill="#6e6e6e"/>
<circle cx="352.62" cy="353.20" r="1.25" fill="#6e6e6e"/>
<circle cx="355.40" cy="353.20" r="1.25" fill="#6e6e6e"/>
<circle cx="363.73" cy="353.20" r="1.25" fill="#6e6e6e"/>
<circle cx="373.90" cy="353.20" r="1.25" fill="#6e6e6e"/>
<circle cx="376.68" cy="353.20" r="1.25" fill="#6e6e6e"/>
<circle cx="379.45" cy="353.20" r="1.25" fill="#6e6e6e"/>
<circle cx="382.23" cy="353.20" r="1.25" fill="#6e6e6e"/>
<circle cx="385.93" cy="353.20" r="1.25" fill="#6e6e6e"/>
<circle cx="389.62" cy="353.20" r="1.25" fill="#6e6e6e"/>
<circle cx="393.32" cy="353.20" r="1.25" fill="#6e6e6e"/>
<circle cx="396.47" cy="353.20" r="1.25" fill="#6e6e6e"/>
<circle cx="329.50" cy="344.17" r="1.25" fill="#6e6e6e"/>
<circle cx="348.00" cy="344.17" r="1.25" fill="#6e6e6e"/>
<circle cx="349.85" cy="344.17" r="1.25" fill="#6e6e6e"/>
<circle cx="378.52" cy="344.17" r="1.25" fill="#6e6e6e"/>
<circle cx="342.45" cy="338.06" r="1.25" fill="#6e6e6e"/>
<circle cx="348.00" cy="338.92" r="1.25" fill="#6e6e6e"/>
<circle cx="352.62" cy="339.78" r="1.25" fill="#6e6e6e"/>
<circle cx="377.60" cy="338.37" r="1.25" fill="#6e6e6e"/>
<circle cx="396.10" cy="338.37" r="1.25" fill="#6e6e6e"/>
<circle cx="353.55" cy="313.17" r="1.25" fill="#6e6e6e"/>
<circle cx="342.45" cy="332.13" r="1.25" fill="#6e6e6e"/>
<circle cx="396.10" cy="314.07" r="1.25" fill="#6e6e6e"/>
<circle cx="402.57" cy="240.33" r="1.25" fill="#6e6e6e"/>
<circle cx="395.18" cy="249.36" r="1.25" fill="#6e6e6e"/>
<circle cx="388.70" cy="253.87" r="1.25" fill="#6e6e6e"/>
<circle cx="385.01" cy="292.31" r="1.25" fill="#6e6e6e"/>
<circle cx="390.69" cy="289.05" r="1.25" fill="#6e6e6e"/>
<circle cx="392.81" cy="272.72" r="1.25" fill="#6e6e6e"/>
<circle cx="389.37" cy="294.92" r="1.25" fill="#6e6e6e"/>
<circle cx="386.50" cy="288.76" r="1.25" fill="#6e6e6e"/>
<circle cx="392.26" cy="257.31" r="1.25" fill="#6e6e6e"/>
<circle cx="391.45" cy="263.32" r="1.25" fill="#6e6e6e"/>
<circle cx="374.98" cy="335.70" r="1.25" fill="#6e6e6e"/>
<circle cx="382.64" cy="297.99" r="1.25" fill="#6e6e6e"/>
<circle cx="401.89" cy="251.61" r="1.25" fill="#6e6e6e"/>
<circle cx="390.32" cy="282.05" r="1.25" fill="#6e6e6e"/>
<circle cx="385.82" cy="282.80" r="1.25" fill="#6e6e6e"/>
<circle cx="393.99" cy="279.36" r="1.25" fill="#6e6e6e"/>
<circle cx="397.94" cy="250.39" r="1.25" fill="#6e6e6e"/>
<circle cx="396.31" cy="257.00" r="1.25" fill="#6e6e6e"/>
<circle cx="389.89" cy="260.36" r="1.25" fill="#6e6e6e"/>
<circle cx="399.81" cy="250.66" r="1.25" fill="#6e6e6e"/>
<circle cx="395.21" cy="268.82" r="1.25" fill="#6e6e6e"/>
<circle cx="376.38" cy="326.99" r="1.25" fill="#6e6e6e"/>
<circle cx="399.27" cy="246.34" r="1.25" fill="#6e6e6e"/>
<circle cx="400.07" cy="254.79" r="1.25" fill="#6e6e6e"/>
<circle cx="383.03" cy="301.28" r="1.25" fill="#6e6e6e"/>
<circle cx="385.27" cy="278.96" r="1.25" fill="#6e6e6e"/>
<circle cx="383.66" cy="309.97" r="1.25" fill="#6e6e6e"/>
<circle cx="388.52" cy="277.59" r="1.25" fill="#6e6e6e"/>
<circle cx="398.75" cy="251.80" r="1.25" fill="#6e6e6e"/>
<circle cx="397.45" cy="280.12" r="1.25" fill="#6e6e6e"/>
<circle cx="385.90" cy="315.88" r="1.25" fill="#6e6e6e"/>
<circle cx="385.05" cy="308.32" r="1.25" fill="#6e6e6e"/>
<circle cx="387.91" cy="284.71" r="1.25" fill="#6e6e6e"/>
<circle cx="382.38" cy="314.83" r="1.25" fill="#6e6e6e"/>
<circle cx="384.79" cy="302.30" r="1.25" fill="#6e6e6e"/>
<circle cx="388.48" cy="295.34" r="1.25" fill="#6e6e6e"/>
<circle cx="390.10" cy="287.59" r="1.25" fill="#6e6e6e"/>
<circle cx="386.94" cy="287.16" r="1.25" fill="#6e6e6e"/>
<circle cx="381.80" cy="331.99" r="1.25" fill="#6e6e6e"/>
<circle cx="393.53" cy="254.53" r="1.25" fill="#6e6e6e"/>
<circle cx="390.00" cy="273.95" r="1.25" fill="#6e6e6e"/>
<circle cx="379.87" cy="339.89" r="1.25" fill="#6e6e6e"/>
<circle cx="398.69" cy="246.53" r="1.25" fill="#6e6e6e"/>
<circle cx="374.79" cy="340.29" r="1.25" fill="#6e6e6e"/>
<circle cx="387.58" cy="297.12" r="1.25" fill="#6e6e6e"/>
<circle cx="393.55" cy="271.12" r="1.25" fill="#6e6e6e"/>
<circle cx="384.79" cy="301.77" r="1.25" fill="#6e6e6e"/>
<circle cx="398.42" cy="261.23" r="1.25" fill="#6e6e6e"/>
<circle cx="393.46" cy="274.84" r="1.25" fill="#6e6e6e"/>
<circle cx="393.15" cy="257.13" r="1.25" fill="#6e6e6e"/>
<circle cx="381.62" cy="329.80" r="1.25" fill="#6e6e6e"/>
<circle cx="389.69" cy="271.65" r="1.25" fill="#6e6e6e"/>
<circle cx="397.03" cy="265.84" r="1.25" fill="#6e6e6e"/>
<circle cx="393.13" cy="264.21" r="1.25" fill="#6e6e6e"/>
<circle cx="395.43" cy="278.23" r="1.25" fill="#6e6e6e"/>
<circle cx="393.15" cy="273.11" r="1.25" fill="#6e6e6e"/>
<circle cx="395.89" cy="253.63" r="1.25" fill="#6e6e6e"/>
<circle cx="393.42" cy="271.45" r="1.25" fill="#6e6e6e"/>
<circle cx="394.31" cy="266.39" r="1.25" fill="#6e6e6e"/>
<circle cx="397.11" cy="271.28" r="1.25" fill="#6e6e6e"/>
<circle cx="394.90" cy="260.37" r="1.25" fill="#6e6e6e"/>
<circle cx="400.93" cy="247.85" r="1.25" fill="#6e6e6e"/>
<circle cx="399.87" cy="261.19" r="1.25" fill="#6e6e6e"/>
<circle cx="394.29" cy="261.79" r="1.25" fill="#6e6e6e"/>
<circle cx="390.61" cy="278.33" r="1.25" fill="#6e6e6e"/>
<circle cx="387.50" cy="287.77" r="1.25" fill="#6e6e6e"/>
<circle cx="392.74" cy="284.03" r="1.25" fill="#6e6e6e"/>
<circle cx="398.58" cy="267.49" r="1.25" fill="#6e6e6e"/>
<circle cx="394.28" cy="272.35" r="1.25" fill="#6e6e6e"/>
<circle cx="392.60" cy="260.99" r="1.25" fill="#6e6e6e"/>
<circle cx="393.70" cy="269.53" r="1.25" fill="#6e6e6e"/>
<circle cx="390.01" cy="283.28" r="1.25" fill="#6e6e6e"/>
<circle cx="394.48" cy="272.36" r="1.25" fill="#6e6e6e"/>
<circle cx="393.29" cy="270.87" r="1.25" fill="#6e6e6e"/>
<circle cx="403.03" cy="252.72" r="1.25" fill="#6e6e6e"/>
<circle cx="395.32" cy="271.32" r="1.25" fill="#6e6e6e"/>
<circle cx="407.47" cy="247.85" r="1.25" fill="#6e6e6e"/>
<circle cx="398.48" cy="254.92" r="1.25" fill="#6e6e6e"/>
<circle cx="392.73" cy="274.69" r="1.25" fill="#6e6e6e"/>
<circle cx="396.91" cy="263.43" r="1.25" fill="#6e6e6e"/>
<circle cx="392.06" cy="281.64" r="1.25" fill="#6e6e6e"/>
<circle cx="398.29" cy="258.78" r="1.25" fill="#6e6e6e"/>
<circle cx="386.39" cy="285.92" r="1.25" fill="#6e6e6e"/>
<circle cx="401.73" cy="260.01" r="1.25" fill="#6e6e6e"/>
<circle cx="397.05" cy="277.08" r="1.25" fill="#6e6e6e"/>
<circle cx="399.73" cy="268.38" r="1.25" fill="#6e6e6e"/>
<circle cx="390.28" cy="281.31" r="1.25" fill="#6e6e6e"/>
<circle cx="406.71" cy="249.16" r="1.25" fill="#6e6e6e"/>
<circle cx="390.23" cy="274.51" r="1.25" fill="#6e6e6e"/>
<circle cx="397.00" cy="249.61" r="1.25" fill="#6e6e6e"/>
<circle cx="390.20" cy="292.77" r="1.25" fill="#6e6e6e"/>
<circle cx="404.43" cy="241.23" r="1.25" fill="#6e6e6e"/>
<circle cx="329.50" cy="353.20" r="1.30" fill="#d42a20"/>
<circle cx="339.68" cy="353.20" r="1.30" fill="#d42a20"/>
<circle cx="343.38" cy="353.20" r="1.30" fill="#d42a20"/>
<circle cx="348.00" cy="353.20" r="1.30" fill="#d42a20"/>
<circle cx="348.93" cy="353.20" r="1.30" fill="#d42a20"/>
<circle cx="370.42" cy="353.20" r="1.30" fill="#d42a20"/>
<circle cx="371.24" cy="353.20" r="1.30" fill="#d42a20"/>
<circle cx="371.92" cy="353.20" r="1.30" fill="#d42a20"/>
<circle cx="373.80" cy="353.20" r="1.30" fill="#d42a20"/>
<circle cx="373.68" cy="353.20" r="1.30" fill="#d42a20"/>
<circle cx="376.05" cy="353.20" r="1.30" fill="#d42a20"/>
<circle cx="376.16" cy="353.20" r="1.30" fill="#d42a20"/>
<circle cx="378.01" cy="353.20" r="1.30" fill="#d42a20"/>
<circle cx="378.45" cy="353.20" r="1.30" fill="#d42a20"/>
<circle cx="379.01" cy="353.20" r="1.30" fill="#d42a20"/>
<circle cx="380.58" cy="353.20" r="1.30" fill="#d42a20"/>
<circle cx="381.70" cy="353.20" r="1.30" fill="#d42a20"/>
<circle cx="382.81" cy="353.20" r="1.30" fill="#d42a20"/>
<circle cx="384.04" cy="353.20" r="1.30" fill="#d42a20"/>
<circle cx="384.35" cy="353.20" r="1.30" fill="#d42a20"/>
<circle cx="385.90" cy="353.20" r="1.30" fill="#d42a20"/>
<circle cx="387.03" cy="353.20" r="1.30" fill="#d42a20"/>
<circle cx="387.69" cy="353.20" r="1.30" fill="#d42a20"/>
<circle cx="388.48" cy="353.20" r="1.30" fill="#d42a20"/>
<circle cx="389.51" cy="353.20" r="1.30" fill="#d42a20"/>
<circle cx="391.18" cy="353.20" r="1.30" fill="#d42a20"/>
<circle cx="392.23" cy="353.20" r="1.30" fill="#d42a20"/>
<circle cx="392.67" cy="353.20" r="1.30" fill="#d42a20"/>
<circle cx="393.51" cy="353.20" r="1.30" fill="#d42a20"/>
<circle cx="395.50" cy="353.20" r="1.30" fill="#d42a20"/>
<circle cx="395.51" cy="353.20" r="1.30" fill="#d42a20"/>
<circle cx="342.45" cy="344.17" r="1.30" fill="#d42a20"/>
<circle cx="343.93" cy="344.17" r="1.30" fill="#d42a20"/>
<circle cx="375.75" cy="344.17" r="1.30" fill="#d42a20"/>
<circle cx="390.55" cy="344.17" r="1.30" fill="#d42a20"/>
<circle cx="375.75" cy="338.09" r="1.30" fill="#d42a20"/>
<circle cx="383.15" cy="336.91" r="1.30" fill="#d42a20"/>
<circle cx="368.35" cy="332.13" r="1.30" fill="#d42a20"/>
<circle cx="379.22" cy="321.96" r="1.30" fill="#d42a20"/>
<circle cx="394.91" cy="288.81" r="1.30" fill="#d42a20"/>
<circle cx="386.61" cy="333.62" r="1.30" fill="#d42a20"/>
<circle cx="387.78" cy="309.33" r="1.30" fill="#d42a20"/>
<circle cx="386.72" cy="318.31" r="1.30" fill="#d42a20"/>
<circle cx="389.99" cy="305.52" r="1.30" fill="#d42a20"/>
<circle cx="382.88" cy="317.46" r="1.30" fill="#d42a20"/>
<circle cx="384.60" cy="291.84" r="1.30" fill="#d42a20"/>
<circle cx="394.20" cy="267.59" r="1.30" fill="#d42a20"/>
<circle cx="389.40" cy="267.79" r="1.30" fill="#d42a20"/>
<circle cx="386.65" cy="285.94" r="1.30" fill="#d42a20"/>
<circle cx="381.50" cy="333.14" r="1.30" fill="#d42a20"/>
<circle cx="387.79" cy="302.92" r="1.30" fill="#d42a20"/>
<circle cx="383.71" cy="303.28" r="1.30" fill="#d42a20"/>
<circle cx="387.05" cy="287.83" r="1.30" fill="#d42a20"/>
<circle cx="388.03" cy="316.44" r="1.30" fill="#d42a20"/>
<circle cx="392.17" cy="287.85" r="1.30" fill="#d42a20"/>
<circle cx="396.32" cy="271.23" r="1.30" fill="#d42a20"/>
<circle cx="389.28" cy="321.94" r="1.30" fill="#d42a20"/>
<circle cx="388.38" cy="299.39" r="1.30" fill="#d42a20"/>
<circle cx="383.50" cy="317.34" r="1.30" fill="#d42a20"/>
<circle cx="383.00" cy="296.70" r="1.30" fill="#d42a20"/>
<circle cx="388.42" cy="285.16" r="1.30" fill="#d42a20"/>
<circle cx="392.34" cy="287.14" r="1.30" fill="#d42a20"/>
<circle cx="384.18" cy="292.33" r="1.30" fill="#d42a20"/>
<circle cx="386.63" cy="296.28" r="1.30" fill="#d42a20"/>
<circle cx="392.37" cy="285.55" r="1.30" fill="#d42a20"/>
<circle cx="390.09" cy="300.65" r="1.30" fill="#d42a20"/>
<circle cx="386.48" cy="328.05" r="1.30" fill="#d42a20"/>
<circle cx="397.39" cy="268.00" r="1.30" fill="#d42a20"/>
<circle cx="390.10" cy="278.78" r="1.30" fill="#d42a20"/>
<circle cx="393.22" cy="270.49" r="1.30" fill="#d42a20"/>
<circle cx="384.41" cy="322.28" r="1.30" fill="#d42a20"/>
<circle cx="393.58" cy="276.09" r="1.30" fill="#d42a20"/>
<circle cx="386.23" cy="277.32" r="1.30" fill="#d42a20"/>
<circle cx="397.64" cy="267.95" r="1.30" fill="#d42a20"/>
<circle cx="392.22" cy="300.63" r="1.30" fill="#d42a20"/>
<circle cx="382.00" cy="324.93" r="1.30" fill="#d42a20"/>
<circle cx="385.21" cy="325.96" r="1.30" fill="#d42a20"/>
<circle cx="397.15" cy="271.52" r="1.30" fill="#d42a20"/>
<circle cx="385.07" cy="333.41" r="1.30" fill="#d42a20"/>
<circle cx="385.10" cy="296.59" r="1.30" fill="#d42a20"/>
<circle cx="392.42" cy="273.07" r="1.30" fill="#d42a20"/>
<circle cx="380.14" cy="336.82" r="1.30" fill="#d42a20"/>
<circle cx="393.55" cy="287.81" r="1.30" fill="#d42a20"/>
<circle cx="384.74" cy="323.56" r="1.30" fill="#d42a20"/>
<circle cx="386.75" cy="332.83" r="1.30" fill="#d42a20"/>
<circle cx="386.22" cy="340.00" r="1.30" fill="#d42a20"/>
<circle cx="391.07" cy="296.12" r="1.30" fill="#d42a20"/>
<circle cx="389.56" cy="288.74" r="1.30" fill="#d42a20"/>
<circle cx="383.50" cy="305.35" r="1.30" fill="#d42a20"/>
<circle cx="380.35" cy="316.73" r="1.30" fill="#d42a20"/>
<circle cx="386.33" cy="318.14" r="1.30" fill="#d42a20"/>
<circle cx="388.86" cy="297.11" r="1.30" fill="#d42a20"/>
<circle cx="392.79" cy="298.74" r="1.30" fill="#d42a20"/>
<circle cx="388.97" cy="276.14" r="1.30" fill="#d42a20"/>
<circle cx="393.38" cy="296.73" r="1.30" fill="#d42a20"/>
<circle cx="386.85" cy="318.19" r="1.30" fill="#d42a20"/>
<circle cx="391.13" cy="290.26" r="1.30" fill="#d42a20"/>
<circle cx="390.84" cy="296.77" r="1.30" fill="#d42a20"/>
<circle cx="398.88" cy="353.20" r="1.55" fill="none" stroke="#4b33a8" stroke-width="0.6"/>
<circle cx="400.17" cy="353.20" r="1.55" fill="none" stroke="#4b33a8" stroke-width="0.6"/>
<circle cx="388.70" cy="344.17" r="1.55" fill="none" stroke="#4b33a8" stroke-width="0.6"/>
<circle cx="392.77" cy="344.17" r="1.55" fill="none" stroke="#4b33a8" stroke-width="0.6"/>
<circle cx="393.32" cy="336.16" r="1.55" fill="none" stroke="#4b33a8" stroke-width="0.6"/>
<circle cx="392.40" cy="324.61" r="1.55" fill="none" stroke="#4b33a8" stroke-width="0.6"/>
<circle cx="370.75" cy="296.91" r="1.55" fill="none" stroke="#4b33a8" stroke-width="0.6"/>
<circle cx="396.82" cy="277.27" r="1.55" fill="none" stroke="#4b33a8" stroke-width="0.6"/>
<circle cx="395.73" cy="258.85" r="1.55" fill="none" stroke="#4b33a8" stroke-width="0.6"/>
<circle cx="396.98" cy="259.50" r="1.55" fill="none" stroke="#4b33a8" stroke-width="0.6"/>
<circle cx="393.90" cy="276.21" r="1.55" fill="none" stroke="#4b33a8" stroke-width="0.6"/>
<circle cx="409.97" cy="251.05" r="1.55" fill="none" stroke="#4b33a8" stroke-width="0.6"/>
<circle cx="397.75" cy="271.94" r="1.55" fill="none" stroke="#4b33a8" stroke-width="0.6"/>
<circle cx="397.26" cy="269.17" r="1.55" fill="none" stroke="#4b33a8" stroke-width="0.6"/>
<circle cx="397.58" cy="255.16" r="1.55" fill="none" stroke="#4b33a8" stroke-width="0.6"/>
<circle cx="402.00" cy="252.83" r="1.55" fill="none" stroke="#4b33a8" stroke-width="0.6"/>
<circle cx="397.89" cy="262.11" r="1.55" fill="none" stroke="#4b33a8" stroke-width="0.6"/>
<circle cx="398.44" cy="256.97" r="1.55" fill="none" stroke="#4b33a8" stroke-width="0.6"/>
<circle cx="397.90" cy="258.64" r="1.55" fill="none" stroke="#4b33a8" stroke-width="0.6"/>
<circle cx="392.13" cy="267.32" r="1.55" fill="none" stroke="#4b33a8" stroke-width="0.6"/>
<circle cx="405.55" cy="246.55" r="1.55" fill="none" stroke="#4b33a8" stroke-width="0.6"/>
<circle cx="391.68" cy="263.22" r="1.55" fill="none" stroke="#4b33a8" stroke-width="0.6"/>
<circle cx="396.44" cy="292.67" r="1.55" fill="none" stroke="#4b33a8" stroke-width="0.6"/>
<circle cx="396.93" cy="259.62" r="1.55" fill="none" stroke="#4b33a8" stroke-width="0.6"/>
<circle cx="399.57" cy="248.78" r="1.55" fill="none" stroke="#4b33a8" stroke-width="0.6"/>
<circle cx="400.61" cy="256.71" r="1.55" fill="none" stroke="#4b33a8" stroke-width="0.6"/>
<circle cx="389.21" cy="290.03" r="1.55" fill="none" stroke="#4b33a8" stroke-width="0.6"/>
<circle cx="398.68" cy="255.55" r="1.55" fill="none" stroke="#4b33a8" stroke-width="0.6"/>
<circle cx="393.38" cy="277.41" r="1.55" fill="none" stroke="#4b33a8" stroke-width="0.6"/>
<circle cx="399.96" cy="276.16" r="1.55" fill="none" stroke="#4b33a8" stroke-width="0.6"/>
<circle cx="389.34" cy="281.88" r="1.55" fill="none" stroke="#4b33a8" stroke-width="0.6"/>
<circle cx="399.00" cy="265.24" r="1.55" fill="none" stroke="#4b33a8" stroke-width="0.6"/>
<circle cx="387.82" cy="282.59" r="1.55" fill="none" stroke="#4b33a8" stroke-width="0.6"/>
<circle cx="392.06" cy="268.68" r="1.55" fill="none" stroke="#4b33a8" stroke-width="0.6"/>
<circle cx="397.45" cy="261.63" r="1.55" fill="none" stroke="#4b33a8" stroke-width="0.6"/>
<circle cx="400.71" cy="262.32" r="1.55" fill="none" stroke="#4b33a8" stroke-width="0.6"/>
<circle cx="401.53" cy="244.91" r="1.55" fill="none" stroke="#4b33a8" stroke-width="0.6"/>
<circle cx="399.64" cy="247.83" r="1.55" fill="none" stroke="#4b33a8" stroke-width="0.6"/>
<circle cx="395.14" cy="260.31" r="1.55" fill="none" stroke="#4b33a8" stroke-width="0.6"/>
<circle cx="399.08" cy="269.62" r="1.55" fill="none" stroke="#4b33a8" stroke-width="0.6"/>
<circle cx="397.55" cy="268.52" r="1.55" fill="none" stroke="#4b33a8" stroke-width="0.6"/>
<circle cx="395.47" cy="267.07" r="1.55" fill="none" stroke="#4b33a8" stroke-width="0.6"/>
<circle cx="402.56" cy="256.83" r="1.55" fill="none" stroke="#4b33a8" stroke-width="0.6"/>
<circle cx="398.45" cy="275.16" r="1.55" fill="none" stroke="#4b33a8" stroke-width="0.6"/>
<circle cx="398.37" cy="251.87" r="1.55" fill="none" stroke="#4b33a8" stroke-width="0.6"/>
<circle cx="401.46" cy="251.91" r="1.55" fill="none" stroke="#4b33a8" stroke-width="0.6"/>
<circle cx="395.58" cy="276.34" r="1.55" fill="none" stroke="#4b33a8" stroke-width="0.6"/>
<circle cx="397.49" cy="275.87" r="1.55" fill="none" stroke="#4b33a8" stroke-width="0.6"/>
<circle cx="392.48" cy="265.27" r="1.55" fill="none" stroke="#4b33a8" stroke-width="0.6"/>
<circle cx="393.87" cy="254.92" r="1.55" fill="none" stroke="#4b33a8" stroke-width="0.6"/>
<circle cx="391.62" cy="271.52" r="1.55" fill="none" stroke="#4b33a8" stroke-width="0.6"/>
<circle cx="392.75" cy="271.60" r="1.55" fill="none" stroke="#4b33a8" stroke-width="0.6"/>
<circle cx="393.33" cy="271.67" r="1.55" fill="none" stroke="#4b33a8" stroke-width="0.6"/>
<circle cx="397.21" cy="268.48" r="1.55" fill="none" stroke="#4b33a8" stroke-width="0.6"/>
<circle cx="400.15" cy="245.21" r="1.55" fill="none" stroke="#4b33a8" stroke-width="0.6"/>
<circle cx="395.30" cy="260.27" r="1.55" fill="none" stroke="#4b33a8" stroke-width="0.6"/>
<circle cx="398.27" cy="262.65" r="1.55" fill="none" stroke="#4b33a8" stroke-width="0.6"/>
<circle cx="407.54" cy="263.69" r="1.55" fill="none" stroke="#4b33a8" stroke-width="0.6"/>
<circle cx="394.91" cy="285.14" r="1.55" fill="none" stroke="#4b33a8" stroke-width="0.6"/>
<circle cx="396.52" cy="267.85" r="1.55" fill="none" stroke="#4b33a8" stroke-width="0.6"/>
<circle cx="395.96" cy="262.60" r="1.55" fill="none" stroke="#4b33a8" stroke-width="0.6"/>
<circle cx="405.24" cy="247.22" r="1.55" fill="none" stroke="#4b33a8" stroke-width="0.6"/>
<circle cx="398.82" cy="256.81" r="1.55" fill="none" stroke="#4b33a8" stroke-width="0.6"/>
<circle cx="391.28" cy="283.29" r="1.55" fill="none" stroke="#4b33a8" stroke-width="0.6"/>
<circle cx="399.38" cy="255.34" r="1.55" fill="none" stroke="#4b33a8" stroke-width="0.6"/>
<circle cx="393.86" cy="273.89" r="1.55" fill="none" stroke="#4b33a8" stroke-width="0.6"/>
<circle cx="397.36" cy="265.52" r="1.55" fill="none" stroke="#4b33a8" stroke-width="0.6"/>
<circle cx="400.95" cy="256.21" r="1.55" fill="none" stroke="#4b33a8" stroke-width="0.6"/>
<circle cx="398.62" cy="274.36" r="1.55" fill="none" stroke="#4b33a8" stroke-width="0.6"/>
<circle cx="393.26" cy="269.30" r="1.55" fill="none" stroke="#4b33a8" stroke-width="0.6"/>
<circle cx="390.87" cy="274.42" r="1.55" fill="none" stroke="#4b33a8" stroke-width="0.6"/>
<circle cx="394.98" cy="276.10" r="1.55" fill="none" stroke="#4b33a8" stroke-width="0.6"/>
<circle cx="400.74" cy="263.65" r="1.55" fill="none" stroke="#4b33a8" stroke-width="0.6"/>
<circle cx="394.11" cy="276.59" r="1.55" fill="none" stroke="#4b33a8" stroke-width="0.6"/>
<circle cx="388.54" cy="281.59" r="1.55" fill="none" stroke="#4b33a8" stroke-width="0.6"/>
<circle cx="396.81" cy="256.76" r="1.55" fill="none" stroke="#4b33a8" stroke-width="0.6"/>
<circle cx="396.24" cy="288.55" r="1.55" fill="none" stroke="#4b33a8" stroke-width="0.6"/>
<circle cx="403.71" cy="261.60" r="1.55" fill="none" stroke="#4b33a8" stroke-width="0.6"/>
<circle cx="397.60" cy="276.04" r="1.55" fill="none" stroke="#4b33a8" stroke-width="0.6"/>
<circle cx="393.03" cy="277.14" r="1.55" fill="none" stroke="#4b33a8" stroke-width="0.6"/>
<circle cx="401.64" cy="248.34" r="1.55" fill="none" stroke="#4b33a8" stroke-width="0.6"/>
<circle cx="395.22" cy="263.94" r="1.55" fill="none" stroke="#4b33a8" stroke-width="0.6"/>
<circle cx="396.21" cy="265.51" r="1.55" fill="none" stroke="#4b33a8" stroke-width="0.6"/>
<circle cx="398.53" cy="256.43" r="1.55" fill="none" stroke="#4b33a8" stroke-width="0.6"/>
<circle cx="395.13" cy="269.82" r="1.55" fill="none" stroke="#4b33a8" stroke-width="0.6"/>
<circle cx="398.80" cy="260.66" r="1.55" fill="none" stroke="#4b33a8" stroke-width="0.6"/>
<circle cx="394.32" cy="254.78" r="1.55" fill="none" stroke="#4b33a8" stroke-width="0.6"/>
<circle cx="395.80" cy="260.54" r="1.55" fill="none" stroke="#4b33a8" stroke-width="0.6"/>
<circle cx="398.73" cy="250.66" r="1.55" fill="none" stroke="#4b33a8" stroke-width="0.6"/>
<circle cx="388.19" cy="263.79" r="1.55" fill="none" stroke="#4b33a8" stroke-width="0.6"/>
<circle cx="396.89" cy="276.28" r="1.55" fill="none" stroke="#4b33a8" stroke-width="0.6"/>
<circle cx="400.05" cy="270.10" r="1.55" fill="none" stroke="#4b33a8" stroke-width="0.6"/>
<circle cx="395.78" cy="255.42" r="1.55" fill="none" stroke="#4b33a8" stroke-width="0.6"/>
<circle cx="391.63" cy="277.13" r="1.55" fill="none" stroke="#4b33a8" stroke-width="0.6"/>
<circle cx="396.52" cy="246.51" r="1.55" fill="none" stroke="#4b33a8" stroke-width="0.6"/>
<circle cx="396.53" cy="254.15" r="1.55" fill="none" stroke="#4b33a8" stroke-width="0.6"/>
<circle cx="394.83" cy="276.47" r="1.55" fill="none" stroke="#4b33a8" stroke-width="0.6"/>
<circle cx="402.25" cy="249.20" r="1.55" fill="none" stroke="#4b33a8" stroke-width="0.6"/>
<circle cx="390.19" cy="272.58" r="1.55" fill="none" stroke="#4b33a8" stroke-width="0.6"/>
<circle cx="400.65" cy="263.41" r="1.55" fill="none" stroke="#4b33a8" stroke-width="0.6"/>
<circle cx="398.79" cy="259.13" r="1.55" fill="none" stroke="#4b33a8" stroke-width="0.6"/>
<circle cx="395.67" cy="272.88" r="1.55" fill="none" stroke="#4b33a8" stroke-width="0.6"/>
<circle cx="394.85" cy="271.67" r="1.55" fill="none" stroke="#4b33a8" stroke-width="0.6"/>
<circle cx="391.95" cy="275.29" r="1.55" fill="none" stroke="#4b33a8" stroke-width="0.6"/>
<circle cx="391.22" cy="275.67" r="1.55" fill="none" stroke="#4b33a8" stroke-width="0.6"/>
<circle cx="397.43" cy="273.49" r="1.55" fill="none" stroke="#4b33a8" stroke-width="0.6"/>
<circle cx="403.65" cy="264.32" r="1.55" fill="none" stroke="#4b33a8" stroke-width="0.6"/>
<circle cx="403.42" cy="250.56" r="1.55" fill="none" stroke="#4b33a8" stroke-width="0.6"/>
<circle cx="397.57" cy="269.28" r="1.55" fill="none" stroke="#4b33a8" stroke-width="0.6"/>
<circle cx="397.77" cy="251.10" r="1.55" fill="none" stroke="#4b33a8" stroke-width="0.6"/>
<circle cx="400.20" cy="262.52" r="1.55" fill="none" stroke="#4b33a8" stroke-width="0.6"/>
<circle cx="394.85" cy="272.99" r="1.55" fill="none" stroke="#4b33a8" stroke-width="0.6"/>
<circle cx="393.14" cy="272.62" r="1.55" fill="none" stroke="#4b33a8" stroke-width="0.6"/>
<circle cx="396.10" cy="273.56" r="1.55" fill="none" stroke="#4b33a8" stroke-width="0.6"/>
<circle cx="399.55" cy="255.14" r="1.55" fill="none" stroke="#4b33a8" stroke-width="0.6"/>
<circle cx="391.55" cy="284.97" r="1.55" fill="none" stroke="#4b33a8" stroke-width="0.6"/>
<circle cx="403.06" cy="250.39" r="1.55" fill="none" stroke="#4b33a8" stroke-width="0.6"/>
<circle cx="400.10" cy="263.51" r="1.55" fill="none" stroke="#4b33a8" stroke-width="0.6"/>
<circle cx="396.12" cy="262.67" r="1.55" fill="none" stroke="#4b33a8" stroke-width="0.6"/>
<circle cx="395.61" cy="277.71" r="1.55" fill="none" stroke="#4b33a8" stroke-width="0.6"/>
<circle cx="397.80" cy="255.40" r="1.55" fill="none" stroke="#4b33a8" stroke-width="0.6"/>
<circle cx="393.26" cy="262.90" r="1.55" fill="none" stroke="#4b33a8" stroke-width="0.6"/>
<circle cx="400.89" cy="265.20" r="1.55" fill="none" stroke="#4b33a8" stroke-width="0.6"/>
<circle cx="397.83" cy="263.82" r="1.55" fill="none" stroke="#4b33a8" stroke-width="0.6"/>
<circle cx="400.59" cy="252.10" r="1.55" fill="none" stroke="#4b33a8" stroke-width="0.6"/>
<circle cx="392.07" cy="286.75" r="1.55" fill="none" stroke="#4b33a8" stroke-width="0.6"/>
<circle cx="402.33" cy="253.65" r="1.55" fill="none" stroke="#4b33a8" stroke-width="0.6"/>
<circle cx="399.63" cy="256.94" r="1.55" fill="none" stroke="#4b33a8" stroke-width="0.6"/>
<circle cx="404.53" cy="261.15" r="1.55" fill="none" stroke="#4b33a8" stroke-width="0.6"/>
<circle cx="402.59" cy="261.47" r="1.55" fill="none" stroke="#4b33a8" stroke-width="0.6"/>
<circle cx="401.00" cy="245.27" r="1.55" fill="none" stroke="#4b33a8" stroke-width="0.6"/>
<circle cx="391.72" cy="271.77" r="1.55" fill="none" stroke="#4b33a8" stroke-width="0.6"/>
<circle cx="396.58" cy="268.48" r="1.55" fill="none" stroke="#4b33a8" stroke-width="0.6"/>
<circle cx="397.99" cy="272.53" r="1.55" fill="none" stroke="#4b33a8" stroke-width="0.6"/>
<circle cx="393.57" cy="265.89" r="1.55" fill="none" stroke="#4b33a8" stroke-width="0.6"/>
<circle cx="401.51" cy="261.33" r="1.55" fill="none" stroke="#4b33a8" stroke-width="0.6"/>
<circle cx="391.41" cy="255.30" r="1.55" fill="none" stroke="#4b33a8" stroke-width="0.6"/>
<circle cx="402.63" cy="250.87" r="1.55" fill="none" stroke="#4b33a8" stroke-width="0.6"/>
<circle cx="393.28" cy="277.53" r="1.55" fill="none" stroke="#4b33a8" stroke-width="0.6"/>
<circle cx="398.86" cy="269.99" r="1.55" fill="none" stroke="#4b33a8" stroke-width="0.6"/>
<circle cx="404.83" cy="248.55" r="1.55" fill="none" stroke="#4b33a8" stroke-width="0.6"/>
<circle cx="399.52" cy="269.32" r="1.55" fill="none" stroke="#4b33a8" stroke-width="0.6"/>
<circle cx="393.82" cy="278.30" r="1.55" fill="none" stroke="#4b33a8" stroke-width="0.6"/>
<circle cx="399.01" cy="263.50" r="1.55" fill="none" stroke="#4b33a8" stroke-width="0.6"/>
<circle cx="396.53" cy="263.17" r="1.55" fill="none" stroke="#4b33a8" stroke-width="0.6"/>
<circle cx="398.79" cy="248.36" r="1.55" fill="none" stroke="#4b33a8" stroke-width="0.6"/>
<circle cx="396.94" cy="274.21" r="1.55" fill="none" stroke="#4b33a8" stroke-width="0.6"/>
<circle cx="401.65" cy="353.20" r="1.60" fill="none" stroke="#3d9a3d" stroke-width="0.6"/>
<circle cx="403.13" cy="353.20" r="1.60" fill="none" stroke="#3d9a3d" stroke-width="0.6"/>
<circle cx="382.23" cy="344.17" r="1.60" fill="none" stroke="#3d9a3d" stroke-width="0.6"/>
<circle cx="402.57" cy="344.17" r="1.60" fill="none" stroke="#3d9a3d" stroke-width="0.6"/>
<circle cx="404.43" cy="270.43" r="1.60" fill="none" stroke="#3d9a3d" stroke-width="0.6"/>
<circle cx="399.80" cy="286.98" r="1.60" fill="none" stroke="#3d9a3d" stroke-width="0.6"/>
<circle cx="407.20" cy="274.94" r="1.60" fill="none" stroke="#3d9a3d" stroke-width="0.6"/>
<circle cx="402.57" cy="277.95" r="1.60" fill="none" stroke="#3d9a3d" stroke-width="0.6"/>
<circle cx="386.85" cy="273.44" r="1.60" fill="none" stroke="#3d9a3d" stroke-width="0.6"/>
<circle cx="393.32" cy="294.50" r="1.60" fill="none" stroke="#3d9a3d" stroke-width="0.6"/>
<circle cx="404.43" cy="262.90" r="1.60" fill="none" stroke="#3d9a3d" stroke-width="0.6"/>
<circle cx="398.88" cy="264.41" r="1.60" fill="none" stroke="#3d9a3d" stroke-width="0.6"/>
<circle cx="401.65" cy="256.88" r="1.60" fill="none" stroke="#3d9a3d" stroke-width="0.6"/>
<circle cx="395.18" cy="277.95" r="1.60" fill="none" stroke="#3d9a3d" stroke-width="0.6"/>
<circle cx="397.95" cy="283.97" r="1.60" fill="none" stroke="#3d9a3d" stroke-width="0.6"/>
<line x1="366.50" y1="230.00" x2="366.50" y2="383.20" stroke="#e06666" stroke-width="0.6"/>
<text x="370.40" y="235.50" font-size="4.8" font-style="italic" fill="#d33" textLength="31.80" lengthAdjust="spacingAndGlyphs"><tspan font-style="italic">Hoxa9</tspan><tspan> high AMLs</tspan></text>
<polyline points="403.20,233.60 426.50,247.40" fill="none" stroke="#e06666" stroke-width="0.5"/>
<line x1="311.50" y1="230.60" x2="311.50" y2="383.60" stroke="#000" stroke-width="1.0"/>
<line x1="311.10" y1="383.50" x2="424.40" y2="383.50" stroke="#000" stroke-width="1.0"/>
<line x1="308.10" y1="232.50" x2="311.50" y2="232.50" stroke="#000" stroke-width="0.8"/>
<text x="305.50" y="234.00" font-size="4.0" text-anchor="end" stroke="#000" stroke-width="0.07">3</text>
<line x1="308.10" y1="262.50" x2="311.50" y2="262.50" stroke="#000" stroke-width="0.8"/>
<text x="305.50" y="264.20" font-size="4.0" text-anchor="end" stroke="#000" stroke-width="0.07">2</text>
<line x1="308.10" y1="293.50" x2="311.50" y2="293.50" stroke="#000" stroke-width="0.8"/>
<text x="305.50" y="294.40" font-size="4.0" text-anchor="end" stroke="#000" stroke-width="0.07">1</text>
<line x1="308.10" y1="323.50" x2="311.50" y2="323.50" stroke="#000" stroke-width="0.8"/>
<text x="305.50" y="324.50" font-size="4.0" text-anchor="end" stroke="#000" stroke-width="0.07">0</text>
<line x1="308.10" y1="353.50" x2="311.50" y2="353.50" stroke="#000" stroke-width="0.8"/>
<text x="305.50" y="354.60" font-size="4.0" text-anchor="end" stroke="#000" stroke-width="0.07">-1</text>
<line x1="308.10" y1="383.50" x2="311.50" y2="383.50" stroke="#000" stroke-width="0.8"/>
<text x="305.50" y="384.70" font-size="4.0" text-anchor="end" stroke="#000" stroke-width="0.07">-2</text>
<line x1="311.50" y1="383.25" x2="311.50" y2="385.80" stroke="#000" stroke-width="0.8"/>
<text x="311.00" y="393.40" font-size="4.0" text-anchor="middle" stroke="#000" stroke-width="0.07">-2</text>
<line x1="329.50" y1="383.25" x2="329.50" y2="385.80" stroke="#000" stroke-width="0.8"/>
<text x="329.50" y="393.40" font-size="4.0" text-anchor="middle" stroke="#000" stroke-width="0.07">-1</text>
<line x1="348.50" y1="383.25" x2="348.50" y2="385.80" stroke="#000" stroke-width="0.8"/>
<text x="348.00" y="393.40" font-size="4.0" text-anchor="middle" stroke="#000" stroke-width="0.07">0</text>
<line x1="366.50" y1="383.25" x2="366.50" y2="385.80" stroke="#000" stroke-width="0.8"/>
<text x="366.50" y="393.40" font-size="4.0" text-anchor="middle" stroke="#000" stroke-width="0.07">1</text>
<line x1="385.50" y1="383.25" x2="385.50" y2="385.80" stroke="#000" stroke-width="0.8"/>
<text x="385.00" y="393.40" font-size="4.0" text-anchor="middle" stroke="#000" stroke-width="0.07">2</text>
<line x1="403.50" y1="383.25" x2="403.50" y2="385.80" stroke="#000" stroke-width="0.8"/>
<text x="403.50" y="393.40" font-size="4.0" text-anchor="middle" stroke="#000" stroke-width="0.07">3</text>
<line x1="422.50" y1="383.25" x2="422.50" y2="385.80" stroke="#000" stroke-width="0.8"/>
<text x="422.00" y="393.40" font-size="4.0" text-anchor="middle" stroke="#000" stroke-width="0.07">4</text>
<text x="338.30" y="403.00" font-size="6.1" font-weight="bold" textLength="60.50" lengthAdjust="spacingAndGlyphs"><tspan font-style="italic">HOXA9</tspan><tspan> expression (log</tspan><tspan baseline-shift="-1.34" font-size="3.78">10</tspan><tspan> FPKM)</tspan></text>
<text x="298.70" y="306.50" font-size="6.8" text-anchor="middle" textLength="69.60" lengthAdjust="spacingAndGlyphs" transform="rotate(-90 298.70 306.50)"><tspan font-style="italic">NKX2.3</tspan><tspan> expression (log</tspan><tspan baseline-shift="-1.50" font-size="4.22">10</tspan><tspan> FPKM)</tspan></text>
<circle cx="433.00" cy="353.50" r="1.30" fill="#d42a20"/>
<circle cx="433.00" cy="359.20" r="1.55" fill="none" stroke="#4b33a8" stroke-width="0.7"/>
<circle cx="433.00" cy="365.00" r="1.55" fill="none" stroke="#3d9a3d" stroke-width="0.7"/>
<circle cx="431.60" cy="371.20" r="1.45" fill="#d42a20" stroke="#6a2a6a" stroke-width="0.5"/>
<circle cx="435.60" cy="371.20" r="1.45" fill="#c8503a" stroke="#8a3a2a" stroke-width="0.4"/>
<circle cx="433.00" cy="377.10" r="1.10" fill="#c8c8c8"/>
<text x="439.80" y="355.00" font-size="4.5" stroke="#000" stroke-width="0.07" textLength="62.40" lengthAdjust="spacingAndGlyphs"><tspan font-style="italic">SETBP1</tspan><tspan> (Log10FPKM&gt;1) (n=97)</tspan></text>
<text x="439.80" y="360.70" font-size="4.5" stroke="#000" stroke-width="0.07" textLength="42.50" lengthAdjust="spacingAndGlyphs"><tspan font-style="italic">NPM1</tspan><tspan> mutant (n=138)</tspan></text>
<text x="439.80" y="366.50" font-size="4.5" stroke="#000" stroke-width="0.07" textLength="38.50" lengthAdjust="spacingAndGlyphs"><tspan font-style="italic">MLL</tspan><tspan> mutant (n=28)</tspan></text>
<text x="439.80" y="372.70" font-size="4.5" stroke="#000" stroke-width="0.07" textLength="29.00" lengthAdjust="spacingAndGlyphs"><tspan>Overlap (n=7)</tspan></text>
<text x="439.80" y="378.60" font-size="4.5" stroke="#000" stroke-width="0.07" textLength="28.00" lengthAdjust="spacingAndGlyphs"><tspan>Other (n=167)</tspan></text>
<rect x="425.2" y="247.1" width="88.5" height="44.8" rx="5" ry="5" fill="#fff" stroke="#e06666" stroke-width="0.7"/>
<path d="M446.9,270.8 L446.90,256.40 A14.4,14.4 0 0 1 448.35,256.47 Z" fill="#f0d020"/>
<path d="M446.9,270.8 L448.35,256.47 A14.4,14.4 0 0 1 461.21,272.43 Z" fill="#d62c24"/>
<path d="M446.9,270.8 L461.21,272.43 A14.4,14.4 0 0 1 439.73,283.29 Z" fill="#4a2ea2"/>
<path d="M446.9,270.8 L439.73,283.29 A14.4,14.4 0 0 1 435.41,279.48 Z" fill="#3a9a3a"/>
<path d="M446.9,270.8 L435.41,279.48 A14.4,14.4 0 0 1 446.90,256.40 Z" fill="#858585"/>
<text x="451.70" y="265.30" font-size="3.6" text-anchor="middle" fill="#fff" stroke="#fff" stroke-width="0.07">25.2%</text>
<text x="451.70" y="276.90" font-size="3.6" text-anchor="middle" fill="#fff" stroke="#fff" stroke-width="0.07">31.5%</text>
<text x="438.50" y="270.10" font-size="3.6" text-anchor="middle" fill="#fff" stroke="#fff" stroke-width="0.07">35.2%</text>
<text x="445.00" y="251.00" font-size="3.5" text-anchor="middle" stroke="#000" stroke-width="0.07">1.6%</text>
<text x="436.30" y="289.40" font-size="3.5" text-anchor="middle" stroke="#000" stroke-width="0.07">6.4%</text>
<line x1="446.80" y1="252.00" x2="447.20" y2="256.50" stroke="#000" stroke-width="0.3"/>
<line x1="437.50" y1="287.20" x2="439.60" y2="283.50" stroke="#000" stroke-width="0.3"/>
<rect x="466.50" y="257.30" width="3.00" height="2.00" fill="#d22a20"/>
<text x="471.00" y="259.40" font-size="3.3" stroke="#000" stroke-width="0.07" textLength="35.00" lengthAdjust="spacingAndGlyphs"><tspan font-style="italic">SETBP1</tspan><tspan baseline-shift="1.39" font-size="2.05">+</tspan><tspan> (Log</tspan><tspan baseline-shift="-0.73" font-size="2.05">10</tspan><tspan>FPKM&gt;1)</tspan></text>
<rect x="466.50" y="260.60" width="3.00" height="2.00" fill="#4530a0"/>
<text x="471.00" y="262.70" font-size="3.3" stroke="#000" stroke-width="0.07" textLength="20.00" lengthAdjust="spacingAndGlyphs"><tspan font-style="italic">NPM1</tspan><tspan> mutant </tspan><tspan baseline-shift="1.39" font-size="2.05">+</tspan></text>
<rect x="466.50" y="263.70" width="3.00" height="2.00" fill="#3a9a3a"/>
<text x="471.00" y="265.80" font-size="3.3" stroke="#000" stroke-width="0.07" textLength="14.50" lengthAdjust="spacingAndGlyphs"><tspan font-style="italic">MLL</tspan><tspan> mutant</tspan></text>
<rect x="466.50" y="266.90" width="3.00" height="2.00" fill="#7a7a7a"/>
<text x="471.00" y="269.00" font-size="3.3" stroke="#000" stroke-width="0.07" textLength="7.50" lengthAdjust="spacingAndGlyphs"><tspan>Other</tspan></text>
<rect x="466.50" y="270.50" width="3.00" height="2.00" fill="#f0d020"/>
<text x="471.00" y="272.60" font-size="3.3" stroke="#000" stroke-width="0.07" textLength="10.50" lengthAdjust="spacingAndGlyphs"><tspan>Overlap</tspan></text>
<text x="471.00" y="276.40" font-size="3.3" stroke="#000" stroke-width="0.07" textLength="35.00" lengthAdjust="spacingAndGlyphs"><tspan>(</tspan><tspan font-style="italic">SETBP1</tspan><tspan baseline-shift="1.39" font-size="2.05">+</tspan><tspan> (</tspan><tspan font-style="italic">NPM1</tspan><tspan>mutant or</tspan></text>
<text x="471.00" y="281.30" font-size="3.3" stroke="#000" stroke-width="0.07" textLength="27.00" lengthAdjust="spacingAndGlyphs"><tspan font-style="italic">SETBP1</tspan><tspan baseline-shift="1.39" font-size="2.05">+</tspan><tspan> (</tspan><tspan font-style="italic">MLL</tspan><tspan> mutant)</tspan></text>
<text x="54.20" y="455.60" font-size="6.3" textLength="49.60" lengthAdjust="spacingAndGlyphs">CRISPR targeting</text>
<rect x="79.40" y="470.50" width="53.35" height="1.45" fill="#6a4080"/>
<rect x="79.40" y="471.90" width="56.24" height="1.45" fill="#84649a"/>
<rect x="79.40" y="473.30" width="60.56" height="1.45" fill="#8f72a2"/>
<rect x="79.40" y="474.70" width="63.45" height="1.45" fill="#9a80ac"/>
<rect x="79.40" y="476.10" width="66.33" height="1.45" fill="#a690b6"/>
<rect x="79.40" y="477.50" width="68.49" height="1.45" fill="#b4a2c2"/>
<rect x="79.40" y="478.90" width="69.94" height="1.45" fill="#c4b6d0"/>
<rect x="79.40" y="480.30" width="71.38" height="1.45" fill="#d6ccdf"/>
<rect x="79.40" y="481.70" width="72.10" height="1.45" fill="#e8e2ef"/>
<line x1="132.75" y1="471.20" x2="134.92" y2="471.20" stroke="#888" stroke-width="0.4"/>
<line x1="135.64" y1="472.60" x2="138.52" y2="472.60" stroke="#888" stroke-width="0.4"/>
<line x1="139.96" y1="474.00" x2="141.41" y2="474.00" stroke="#888" stroke-width="0.4"/>
<line x1="142.85" y1="475.40" x2="145.01" y2="475.40" stroke="#888" stroke-width="0.4"/>
<line x1="145.73" y1="476.80" x2="147.17" y2="476.80" stroke="#888" stroke-width="0.4"/>
<line x1="147.89" y1="478.20" x2="149.34" y2="478.20" stroke="#888" stroke-width="0.4"/>
<line x1="149.34" y1="479.60" x2="150.78" y2="479.60" stroke="#888" stroke-width="0.4"/>
<line x1="150.78" y1="481.00" x2="152.22" y2="481.00" stroke="#888" stroke-width="0.4"/>
<rect x="79.40" y="484.00" width="54.07" height="1.45" fill="#6a4080"/>
<rect x="79.40" y="485.40" width="57.68" height="1.45" fill="#84649a"/>
<rect x="79.40" y="486.80" width="62.01" height="1.45" fill="#8f72a2"/>
<rect x="79.40" y="488.20" width="63.45" height="1.45" fill="#9a80ac"/>
<rect x="79.40" y="489.60" width="66.33" height="1.45" fill="#a690b6"/>
<rect x="79.40" y="491.00" width="67.77" height="1.45" fill="#b4a2c2"/>
<rect x="79.40" y="492.40" width="69.22" height="1.45" fill="#c4b6d0"/>
<rect x="79.40" y="493.80" width="70.66" height="1.45" fill="#d6ccdf"/>
<rect x="79.40" y="495.20" width="72.10" height="1.45" fill="#e8e2ef"/>
<line x1="133.47" y1="484.70" x2="136.36" y2="484.70" stroke="#888" stroke-width="0.4"/>
<line x1="137.08" y1="486.10" x2="139.24" y2="486.10" stroke="#888" stroke-width="0.4"/>
<line x1="141.41" y1="487.50" x2="145.01" y2="487.50" stroke="#888" stroke-width="0.4"/>
<line x1="142.85" y1="488.90" x2="144.29" y2="488.90" stroke="#888" stroke-width="0.4"/>
<line x1="145.73" y1="490.30" x2="147.17" y2="490.30" stroke="#888" stroke-width="0.4"/>
<line x1="147.17" y1="491.70" x2="149.34" y2="491.70" stroke="#888" stroke-width="0.4"/>
<line x1="148.62" y1="493.10" x2="150.06" y2="493.10" stroke="#888" stroke-width="0.4"/>
<line x1="150.06" y1="494.50" x2="151.50" y2="494.50" stroke="#888" stroke-width="0.4"/>
<rect x="79.40" y="497.60" width="15.50" height="1.45" fill="#c0203f"/>
<rect x="79.40" y="499.00" width="23.79" height="1.45" fill="#cc5a5a"/>
<rect x="79.40" y="500.40" width="23.79" height="1.45" fill="#d06a64"/>
<rect x="79.40" y="501.80" width="23.79" height="1.45" fill="#d87c72"/>
<rect x="79.40" y="503.20" width="23.79" height="1.45" fill="#df8f84"/>
<rect x="79.40" y="504.60" width="25.23" height="1.45" fill="#e6a398"/>
<rect x="79.40" y="506.00" width="47.59" height="1.45" fill="#ecb8ae"/>
<rect x="79.40" y="507.40" width="72.10" height="1.45" fill="#f2cdc5"/>
<rect x="79.40" y="508.80" width="72.10" height="1.45" fill="#f7e2dd"/>
<line x1="94.90" y1="498.30" x2="109.32" y2="498.30" stroke="#888" stroke-width="0.4"/>
<line x1="103.19" y1="499.70" x2="106.08" y2="499.70" stroke="#888" stroke-width="0.4"/>
<line x1="103.19" y1="501.10" x2="104.64" y2="501.10" stroke="#888" stroke-width="0.4"/>
<line x1="103.19" y1="502.50" x2="105.36" y2="502.50" stroke="#888" stroke-width="0.4"/>
<line x1="103.19" y1="503.90" x2="104.64" y2="503.90" stroke="#888" stroke-width="0.4"/>
<line x1="104.64" y1="505.30" x2="111.84" y2="505.30" stroke="#888" stroke-width="0.4"/>
<line x1="126.99" y1="506.70" x2="131.31" y2="506.70" stroke="#888" stroke-width="0.4"/>
<rect x="79.40" y="510.90" width="14.06" height="1.45" fill="#c0203f"/>
<rect x="79.40" y="512.30" width="23.07" height="1.45" fill="#cc5a5a"/>
<rect x="79.40" y="513.70" width="23.07" height="1.45" fill="#d06a64"/>
<rect x="79.40" y="515.10" width="23.07" height="1.45" fill="#d87c72"/>
<rect x="79.40" y="516.50" width="22.71" height="1.45" fill="#df8f84"/>
<rect x="79.40" y="517.90" width="23.07" height="1.45" fill="#e6a398"/>
<rect x="79.40" y="519.30" width="56.96" height="1.45" fill="#ecb8ae"/>
<rect x="79.40" y="520.70" width="72.10" height="1.45" fill="#f2cdc5"/>
<rect x="79.40" y="522.10" width="72.10" height="1.45" fill="#f7e2dd"/>
<line x1="93.46" y1="511.60" x2="106.44" y2="511.60" stroke="#888" stroke-width="0.4"/>
<line x1="102.47" y1="513.00" x2="106.80" y2="513.00" stroke="#888" stroke-width="0.4"/>
<line x1="102.47" y1="514.40" x2="114.01" y2="514.40" stroke="#888" stroke-width="0.4"/>
<line x1="102.47" y1="515.80" x2="105.36" y2="515.80" stroke="#888" stroke-width="0.4"/>
<line x1="102.11" y1="517.20" x2="104.27" y2="517.20" stroke="#888" stroke-width="0.4"/>
<line x1="102.47" y1="518.60" x2="108.24" y2="518.60" stroke="#888" stroke-width="0.4"/>
<line x1="136.36" y1="520.00" x2="142.85" y2="520.00" stroke="#888" stroke-width="0.4"/>
<line x1="79.50" y1="468.50" x2="79.50" y2="525.60" stroke="#000" stroke-width="1.0"/>
<line x1="79.00" y1="525.50" x2="165.92" y2="525.50" stroke="#000" stroke-width="1.0"/>
<line x1="76.10" y1="476.50" x2="79.40" y2="476.50" stroke="#000" stroke-width="0.8"/>
<line x1="76.10" y1="490.50" x2="79.40" y2="490.50" stroke="#000" stroke-width="0.8"/>
<line x1="76.10" y1="503.50" x2="79.40" y2="503.50" stroke="#000" stroke-width="0.8"/>
<line x1="76.10" y1="517.50" x2="79.40" y2="517.50" stroke="#000" stroke-width="0.8"/>
<line x1="79.50" y1="525.30" x2="79.50" y2="527.60" stroke="#000" stroke-width="0.8"/>
<text x="79.40" y="535.00" font-size="4.3" text-anchor="middle" stroke="#000" stroke-width="0.07">0</text>
<line x1="115.50" y1="525.30" x2="115.50" y2="527.60" stroke="#000" stroke-width="0.8"/>
<text x="115.45" y="535.00" font-size="4.3" text-anchor="middle" stroke="#000" stroke-width="0.07">50</text>
<line x1="151.50" y1="525.30" x2="151.50" y2="527.60" stroke="#000" stroke-width="0.8"/>
<text x="151.50" y="535.00" font-size="4.3" text-anchor="middle" stroke="#000" stroke-width="0.07">100</text>
<text x="122.40" y="464.00" font-size="4.5" text-anchor="middle" stroke="#000" stroke-width="0.03" textLength="25.70" lengthAdjust="spacingAndGlyphs"><tspan font-style="italic">Setbp1</tspan><tspan> gRNA</tspan></text>
<text x="91.30" y="544.80" font-size="5.9" font-weight="bold" textLength="62.50" lengthAdjust="spacingAndGlyphs">BFP positive cell population (%)</text>
<rect x="178.50" y="470.50" width="38.88" height="1.45" fill="#6a4080"/>
<rect x="178.50" y="471.90" width="43.80" height="1.45" fill="#84649a"/>
<rect x="178.50" y="473.30" width="47.06" height="1.45" fill="#8f72a2"/>
<rect x="178.50" y="474.70" width="53.58" height="1.45" fill="#9a80ac"/>
<rect x="178.50" y="476.10" width="58.64" height="1.45" fill="#a690b6"/>
<rect x="178.50" y="477.50" width="63.42" height="1.45" fill="#b4a2c2"/>
<rect x="178.50" y="478.90" width="67.33" height="1.45" fill="#c4b6d0"/>
<rect x="178.50" y="480.30" width="69.94" height="1.45" fill="#d6ccdf"/>
<rect x="178.50" y="481.70" width="71.68" height="1.45" fill="#e8e2ef"/>
<line x1="217.38" y1="471.20" x2="218.83" y2="471.20" stroke="#888" stroke-width="0.4"/>
<line x1="222.30" y1="472.60" x2="224.47" y2="472.60" stroke="#888" stroke-width="0.4"/>
<line x1="225.56" y1="474.00" x2="227.01" y2="474.00" stroke="#888" stroke-width="0.4"/>
<line x1="232.08" y1="475.40" x2="234.25" y2="475.40" stroke="#888" stroke-width="0.4"/>
<line x1="237.14" y1="476.80" x2="238.59" y2="476.80" stroke="#888" stroke-width="0.4"/>
<line x1="241.92" y1="478.20" x2="244.09" y2="478.20" stroke="#888" stroke-width="0.4"/>
<line x1="245.83" y1="479.60" x2="247.28" y2="479.60" stroke="#888" stroke-width="0.4"/>
<line x1="248.44" y1="481.00" x2="249.89" y2="481.00" stroke="#888" stroke-width="0.4"/>
<rect x="178.50" y="484.00" width="40.54" height="1.45" fill="#6a4080"/>
<rect x="178.50" y="485.40" width="43.80" height="1.45" fill="#84649a"/>
<rect x="178.50" y="486.80" width="48.51" height="1.45" fill="#8f72a2"/>
<rect x="178.50" y="488.20" width="53.58" height="1.45" fill="#9a80ac"/>
<rect x="178.50" y="489.60" width="58.64" height="1.45" fill="#a690b6"/>
<rect x="178.50" y="491.00" width="63.42" height="1.45" fill="#b4a2c2"/>
<rect x="178.50" y="492.40" width="68.06" height="1.45" fill="#c4b6d0"/>
<rect x="178.50" y="493.80" width="70.73" height="1.45" fill="#d6ccdf"/>
<rect x="178.50" y="495.20" width="71.68" height="1.45" fill="#e8e2ef"/>
<line x1="219.04" y1="484.70" x2="220.49" y2="484.70" stroke="#888" stroke-width="0.4"/>
<line x1="222.30" y1="486.10" x2="224.47" y2="486.10" stroke="#888" stroke-width="0.4"/>
<line x1="227.01" y1="487.50" x2="228.46" y2="487.50" stroke="#888" stroke-width="0.4"/>
<line x1="232.08" y1="488.90" x2="234.25" y2="488.90" stroke="#888" stroke-width="0.4"/>
<line x1="237.14" y1="490.30" x2="238.59" y2="490.30" stroke="#888" stroke-width="0.4"/>
<line x1="241.92" y1="491.70" x2="244.09" y2="491.70" stroke="#888" stroke-width="0.4"/>
<line x1="246.56" y1="493.10" x2="248.00" y2="493.10" stroke="#888" stroke-width="0.4"/>
<line x1="249.23" y1="494.50" x2="250.68" y2="494.50" stroke="#888" stroke-width="0.4"/>
<rect x="178.50" y="497.60" width="20.13" height="1.45" fill="#c0203f"/>
<rect x="178.50" y="499.00" width="28.24" height="1.45" fill="#cc5a5a"/>
<rect x="178.50" y="500.40" width="31.57" height="1.45" fill="#d06a64"/>
<rect x="178.50" y="501.80" width="38.88" height="1.45" fill="#d87c72"/>
<rect x="178.50" y="503.20" width="47.06" height="1.45" fill="#df8f84"/>
<rect x="178.50" y="504.60" width="53.58" height="1.45" fill="#e6a398"/>
<rect x="178.50" y="506.00" width="60.09" height="1.45" fill="#ecb8ae"/>
<rect x="178.50" y="507.40" width="66.61" height="1.45" fill="#f2cdc5"/>
<rect x="178.50" y="508.80" width="72.40" height="1.45" fill="#f7e2dd"/>
<line x1="198.63" y1="498.30" x2="200.08" y2="498.30" stroke="#888" stroke-width="0.4"/>
<line x1="206.74" y1="499.70" x2="208.91" y2="499.70" stroke="#888" stroke-width="0.4"/>
<line x1="210.07" y1="501.10" x2="211.51" y2="501.10" stroke="#888" stroke-width="0.4"/>
<line x1="217.38" y1="502.50" x2="219.55" y2="502.50" stroke="#888" stroke-width="0.4"/>
<line x1="225.56" y1="503.90" x2="227.01" y2="503.90" stroke="#888" stroke-width="0.4"/>
<line x1="232.08" y1="505.30" x2="234.25" y2="505.30" stroke="#888" stroke-width="0.4"/>
<line x1="238.59" y1="506.70" x2="240.04" y2="506.70" stroke="#888" stroke-width="0.4"/>
<line x1="245.11" y1="508.10" x2="246.56" y2="508.10" stroke="#888" stroke-width="0.4"/>
<rect x="178.50" y="510.90" width="8.69" height="1.45" fill="#c0203f"/>
<rect x="178.50" y="512.30" width="15.93" height="1.45" fill="#cc5a5a"/>
<rect x="178.50" y="513.70" width="19.26" height="1.45" fill="#d06a64"/>
<rect x="178.50" y="515.10" width="25.85" height="1.45" fill="#d87c72"/>
<rect x="178.50" y="516.50" width="34.03" height="1.45" fill="#df8f84"/>
<rect x="178.50" y="517.90" width="40.54" height="1.45" fill="#e6a398"/>
<rect x="178.50" y="519.30" width="48.51" height="1.45" fill="#ecb8ae"/>
<rect x="178.50" y="520.70" width="63.42" height="1.45" fill="#f2cdc5"/>
<rect x="178.50" y="522.10" width="72.40" height="1.45" fill="#f7e2dd"/>
<line x1="187.19" y1="511.60" x2="188.64" y2="511.60" stroke="#888" stroke-width="0.4"/>
<line x1="194.43" y1="513.00" x2="196.60" y2="513.00" stroke="#888" stroke-width="0.4"/>
<line x1="197.76" y1="514.40" x2="199.21" y2="514.40" stroke="#888" stroke-width="0.4"/>
<line x1="204.35" y1="515.80" x2="206.52" y2="515.80" stroke="#888" stroke-width="0.4"/>
<line x1="212.53" y1="517.20" x2="213.98" y2="517.20" stroke="#888" stroke-width="0.4"/>
<line x1="219.04" y1="518.60" x2="221.22" y2="518.60" stroke="#888" stroke-width="0.4"/>
<line x1="227.01" y1="520.00" x2="228.46" y2="520.00" stroke="#888" stroke-width="0.4"/>
<line x1="241.92" y1="521.40" x2="243.37" y2="521.40" stroke="#888" stroke-width="0.4"/>
<line x1="178.50" y1="468.50" x2="178.50" y2="525.60" stroke="#000" stroke-width="1.0"/>
<line x1="178.10" y1="525.50" x2="265.38" y2="525.50" stroke="#000" stroke-width="1.0"/>
<line x1="175.20" y1="476.50" x2="178.50" y2="476.50" stroke="#000" stroke-width="0.8"/>
<line x1="175.20" y1="490.50" x2="178.50" y2="490.50" stroke="#000" stroke-width="0.8"/>
<line x1="175.20" y1="503.50" x2="178.50" y2="503.50" stroke="#000" stroke-width="0.8"/>
<line x1="175.20" y1="517.50" x2="178.50" y2="517.50" stroke="#000" stroke-width="0.8"/>
<line x1="178.50" y1="525.30" x2="178.50" y2="527.60" stroke="#000" stroke-width="0.8"/>
<text x="178.50" y="535.00" font-size="4.3" text-anchor="middle" stroke="#000" stroke-width="0.07">0</text>
<line x1="214.50" y1="525.30" x2="214.50" y2="527.60" stroke="#000" stroke-width="0.8"/>
<text x="214.70" y="535.00" font-size="4.3" text-anchor="middle" stroke="#000" stroke-width="0.07">50</text>
<line x1="250.50" y1="525.30" x2="250.50" y2="527.60" stroke="#000" stroke-width="0.8"/>
<text x="250.90" y="535.00" font-size="4.3" text-anchor="middle" stroke="#000" stroke-width="0.07">100</text>
<text x="222.00" y="464.00" font-size="4.5" text-anchor="middle" stroke="#000" stroke-width="0.03" textLength="25.00" lengthAdjust="spacingAndGlyphs"><tspan font-style="italic">Hoxa9</tspan><tspan> gRNA</tspan></text>
<text x="190.40" y="544.80" font-size="5.9" font-weight="bold" textLength="62.50" lengthAdjust="spacingAndGlyphs">BFP positive cell population (%)</text>
<rect x="277.70" y="470.50" width="31.57" height="1.45" fill="#6a4080"/>
<rect x="277.70" y="471.90" width="33.16" height="1.45" fill="#84649a"/>
<rect x="277.70" y="473.30" width="39.75" height="1.45" fill="#8f72a2"/>
<rect x="277.70" y="474.70" width="46.26" height="1.45" fill="#9a80ac"/>
<rect x="277.70" y="476.10" width="52.78" height="1.45" fill="#a690b6"/>
<rect x="277.70" y="477.50" width="57.70" height="1.45" fill="#b4a2c2"/>
<rect x="277.70" y="478.90" width="62.63" height="1.45" fill="#c4b6d0"/>
<rect x="277.70" y="480.30" width="65.88" height="1.45" fill="#d6ccdf"/>
<rect x="277.70" y="481.70" width="72.40" height="1.45" fill="#e8e2ef"/>
<line x1="309.27" y1="471.20" x2="311.44" y2="471.20" stroke="#888" stroke-width="0.4"/>
<line x1="310.86" y1="472.60" x2="312.31" y2="472.60" stroke="#888" stroke-width="0.4"/>
<line x1="317.45" y1="474.00" x2="320.34" y2="474.00" stroke="#888" stroke-width="0.4"/>
<line x1="323.96" y1="475.40" x2="326.14" y2="475.40" stroke="#888" stroke-width="0.4"/>
<line x1="330.48" y1="476.80" x2="331.93" y2="476.80" stroke="#888" stroke-width="0.4"/>
<line x1="335.40" y1="478.20" x2="338.30" y2="478.20" stroke="#888" stroke-width="0.4"/>
<line x1="340.33" y1="479.60" x2="341.77" y2="479.60" stroke="#888" stroke-width="0.4"/>
<line x1="343.58" y1="481.00" x2="347.93" y2="481.00" stroke="#888" stroke-width="0.4"/>
<rect x="277.70" y="484.00" width="19.26" height="1.45" fill="#6a4080"/>
<rect x="277.70" y="485.40" width="21.72" height="1.45" fill="#84649a"/>
<rect x="277.70" y="486.80" width="28.24" height="1.45" fill="#8f72a2"/>
<rect x="277.70" y="488.20" width="34.75" height="1.45" fill="#9a80ac"/>
<rect x="277.70" y="489.60" width="41.27" height="1.45" fill="#a690b6"/>
<rect x="277.70" y="491.00" width="47.78" height="1.45" fill="#b4a2c2"/>
<rect x="277.70" y="492.40" width="56.04" height="1.45" fill="#c4b6d0"/>
<rect x="277.70" y="493.80" width="64.22" height="1.45" fill="#d6ccdf"/>
<rect x="277.70" y="495.20" width="72.40" height="1.45" fill="#e8e2ef"/>
<line x1="296.96" y1="484.70" x2="299.13" y2="484.70" stroke="#888" stroke-width="0.4"/>
<line x1="299.42" y1="486.10" x2="300.87" y2="486.10" stroke="#888" stroke-width="0.4"/>
<line x1="305.94" y1="487.50" x2="308.83" y2="487.50" stroke="#888" stroke-width="0.4"/>
<line x1="312.45" y1="488.90" x2="314.62" y2="488.90" stroke="#888" stroke-width="0.4"/>
<line x1="318.97" y1="490.30" x2="320.42" y2="490.30" stroke="#888" stroke-width="0.4"/>
<line x1="325.48" y1="491.70" x2="328.38" y2="491.70" stroke="#888" stroke-width="0.4"/>
<line x1="333.74" y1="493.10" x2="335.19" y2="493.10" stroke="#888" stroke-width="0.4"/>
<line x1="341.92" y1="494.50" x2="346.26" y2="494.50" stroke="#888" stroke-width="0.4"/>
<rect x="277.70" y="497.60" width="38.08" height="1.45" fill="#c0203f"/>
<rect x="277.70" y="499.00" width="42.14" height="1.45" fill="#cc5a5a"/>
<rect x="277.70" y="500.40" width="44.60" height="1.45" fill="#d06a64"/>
<rect x="277.70" y="501.80" width="47.78" height="1.45" fill="#d87c72"/>
<rect x="277.70" y="503.20" width="52.78" height="1.45" fill="#df8f84"/>
<rect x="277.70" y="504.60" width="57.70" height="1.45" fill="#e6a398"/>
<rect x="277.70" y="506.00" width="62.63" height="1.45" fill="#ecb8ae"/>
<rect x="277.70" y="507.40" width="67.48" height="1.45" fill="#f2cdc5"/>
<rect x="277.70" y="508.80" width="72.40" height="1.45" fill="#f7e2dd"/>
<line x1="315.78" y1="498.30" x2="317.95" y2="498.30" stroke="#888" stroke-width="0.4"/>
<line x1="319.84" y1="499.70" x2="321.28" y2="499.70" stroke="#888" stroke-width="0.4"/>
<line x1="322.30" y1="501.10" x2="325.19" y2="501.10" stroke="#888" stroke-width="0.4"/>
<line x1="325.48" y1="502.50" x2="327.66" y2="502.50" stroke="#888" stroke-width="0.4"/>
<line x1="330.48" y1="503.90" x2="331.93" y2="503.90" stroke="#888" stroke-width="0.4"/>
<line x1="335.40" y1="505.30" x2="338.30" y2="505.30" stroke="#888" stroke-width="0.4"/>
<line x1="340.33" y1="506.70" x2="341.77" y2="506.70" stroke="#888" stroke-width="0.4"/>
<line x1="345.18" y1="508.10" x2="349.52" y2="508.10" stroke="#888" stroke-width="0.4"/>
<rect x="277.70" y="510.90" width="44.60" height="1.45" fill="#c0203f"/>
<rect x="277.70" y="512.30" width="44.60" height="1.45" fill="#cc5a5a"/>
<rect x="277.70" y="513.70" width="46.26" height="1.45" fill="#d06a64"/>
<rect x="277.70" y="515.10" width="48.73" height="1.45" fill="#d87c72"/>
<rect x="277.70" y="516.50" width="52.78" height="1.45" fill="#df8f84"/>
<rect x="277.70" y="517.90" width="56.91" height="1.45" fill="#e6a398"/>
<rect x="277.70" y="519.30" width="60.96" height="1.45" fill="#ecb8ae"/>
<rect x="277.70" y="520.70" width="65.88" height="1.45" fill="#f2cdc5"/>
<rect x="277.70" y="522.10" width="72.40" height="1.45" fill="#f7e2dd"/>
<line x1="322.30" y1="511.60" x2="324.47" y2="511.60" stroke="#888" stroke-width="0.4"/>
<line x1="322.30" y1="513.00" x2="323.75" y2="513.00" stroke="#888" stroke-width="0.4"/>
<line x1="323.96" y1="514.40" x2="326.86" y2="514.40" stroke="#888" stroke-width="0.4"/>
<line x1="326.43" y1="515.80" x2="328.60" y2="515.80" stroke="#888" stroke-width="0.4"/>
<line x1="330.48" y1="517.20" x2="331.93" y2="517.20" stroke="#888" stroke-width="0.4"/>
<line x1="334.61" y1="518.60" x2="337.50" y2="518.60" stroke="#888" stroke-width="0.4"/>
<line x1="338.66" y1="520.00" x2="340.11" y2="520.00" stroke="#888" stroke-width="0.4"/>
<line x1="343.58" y1="521.40" x2="347.93" y2="521.40" stroke="#888" stroke-width="0.4"/>
<line x1="277.50" y1="468.50" x2="277.50" y2="525.60" stroke="#000" stroke-width="1.0"/>
<line x1="277.30" y1="525.50" x2="364.58" y2="525.50" stroke="#000" stroke-width="1.0"/>
<line x1="274.40" y1="476.50" x2="277.70" y2="476.50" stroke="#000" stroke-width="0.8"/>
<line x1="274.40" y1="490.50" x2="277.70" y2="490.50" stroke="#000" stroke-width="0.8"/>
<line x1="274.40" y1="503.50" x2="277.70" y2="503.50" stroke="#000" stroke-width="0.8"/>
<line x1="274.40" y1="517.50" x2="277.70" y2="517.50" stroke="#000" stroke-width="0.8"/>
<line x1="277.50" y1="525.30" x2="277.50" y2="527.60" stroke="#000" stroke-width="0.8"/>
<text x="277.70" y="535.00" font-size="4.3" text-anchor="middle" stroke="#000" stroke-width="0.07">0</text>
<line x1="313.50" y1="525.30" x2="313.50" y2="527.60" stroke="#000" stroke-width="0.8"/>
<text x="313.90" y="535.00" font-size="4.3" text-anchor="middle" stroke="#000" stroke-width="0.07">50</text>
<line x1="350.50" y1="525.30" x2="350.50" y2="527.60" stroke="#000" stroke-width="0.8"/>
<text x="350.10" y="535.00" font-size="4.3" text-anchor="middle" stroke="#000" stroke-width="0.07">100</text>
<text x="321.20" y="464.00" font-size="4.5" text-anchor="middle" stroke="#000" stroke-width="0.03" textLength="27.00" lengthAdjust="spacingAndGlyphs"><tspan font-style="italic">Hoxa10</tspan><tspan> gRNA</tspan></text>
<text x="289.60" y="544.80" font-size="5.9" font-weight="bold" textLength="62.50" lengthAdjust="spacingAndGlyphs">BFP positive cell population (%)</text>
<rect x="376.90" y="470.50" width="45.78" height="1.45" fill="#6a4080"/>
<rect x="376.90" y="471.90" width="49.53" height="1.45" fill="#84649a"/>
<rect x="376.90" y="473.30" width="51.98" height="1.45" fill="#8f72a2"/>
<rect x="376.90" y="474.70" width="55.23" height="1.45" fill="#9a80ac"/>
<rect x="376.90" y="476.10" width="58.55" height="1.45" fill="#a690b6"/>
<rect x="376.90" y="477.50" width="61.79" height="1.45" fill="#b4a2c2"/>
<rect x="376.90" y="478.90" width="65.03" height="1.45" fill="#c4b6d0"/>
<rect x="376.90" y="480.30" width="68.35" height="1.45" fill="#d6ccdf"/>
<rect x="376.90" y="481.70" width="72.10" height="1.45" fill="#e8e2ef"/>
<line x1="422.68" y1="471.20" x2="424.85" y2="471.20" stroke="#888" stroke-width="0.4"/>
<line x1="426.43" y1="472.60" x2="427.87" y2="472.60" stroke="#888" stroke-width="0.4"/>
<line x1="428.88" y1="474.00" x2="431.05" y2="474.00" stroke="#888" stroke-width="0.4"/>
<line x1="432.13" y1="475.40" x2="433.57" y2="475.40" stroke="#888" stroke-width="0.4"/>
<line x1="435.45" y1="476.80" x2="437.61" y2="476.80" stroke="#888" stroke-width="0.4"/>
<line x1="438.69" y1="478.20" x2="440.13" y2="478.20" stroke="#888" stroke-width="0.4"/>
<line x1="441.93" y1="479.60" x2="443.38" y2="479.60" stroke="#888" stroke-width="0.4"/>
<line x1="445.25" y1="481.00" x2="446.69" y2="481.00" stroke="#888" stroke-width="0.4"/>
<rect x="376.90" y="484.00" width="25.81" height="1.45" fill="#6a4080"/>
<rect x="376.90" y="485.40" width="26.68" height="1.45" fill="#84649a"/>
<rect x="376.90" y="486.80" width="28.26" height="1.45" fill="#8f72a2"/>
<rect x="376.90" y="488.20" width="31.58" height="1.45" fill="#9a80ac"/>
<rect x="376.90" y="489.60" width="38.93" height="1.45" fill="#a690b6"/>
<rect x="376.90" y="491.00" width="47.08" height="1.45" fill="#b4a2c2"/>
<rect x="376.90" y="492.40" width="55.23" height="1.45" fill="#c4b6d0"/>
<rect x="376.90" y="493.80" width="58.40" height="1.45" fill="#d6ccdf"/>
<rect x="376.90" y="495.20" width="72.10" height="1.45" fill="#e8e2ef"/>
<line x1="402.71" y1="484.70" x2="404.87" y2="484.70" stroke="#888" stroke-width="0.4"/>
<line x1="403.58" y1="486.10" x2="405.02" y2="486.10" stroke="#888" stroke-width="0.4"/>
<line x1="405.16" y1="487.50" x2="407.33" y2="487.50" stroke="#888" stroke-width="0.4"/>
<line x1="408.48" y1="488.90" x2="409.92" y2="488.90" stroke="#888" stroke-width="0.4"/>
<line x1="415.83" y1="490.30" x2="418.00" y2="490.30" stroke="#888" stroke-width="0.4"/>
<line x1="423.98" y1="491.70" x2="425.42" y2="491.70" stroke="#888" stroke-width="0.4"/>
<line x1="432.13" y1="493.10" x2="433.57" y2="493.10" stroke="#888" stroke-width="0.4"/>
<line x1="435.30" y1="494.50" x2="436.74" y2="494.50" stroke="#888" stroke-width="0.4"/>
<rect x="376.90" y="497.60" width="71.31" height="1.45" fill="#c0203f"/>
<rect x="376.90" y="499.00" width="71.60" height="1.45" fill="#cc5a5a"/>
<rect x="376.90" y="500.40" width="72.46" height="1.45" fill="#d06a64"/>
<rect x="376.90" y="501.80" width="73.25" height="1.45" fill="#d87c72"/>
<rect x="376.90" y="503.20" width="74.05" height="1.45" fill="#df8f84"/>
<rect x="376.90" y="504.60" width="74.91" height="1.45" fill="#e6a398"/>
<rect x="376.90" y="506.00" width="74.91" height="1.45" fill="#ecb8ae"/>
<rect x="376.90" y="507.40" width="74.05" height="1.45" fill="#f2cdc5"/>
<rect x="376.90" y="508.80" width="72.10" height="1.45" fill="#f7e2dd"/>
<line x1="448.21" y1="498.30" x2="450.37" y2="498.30" stroke="#888" stroke-width="0.4"/>
<line x1="448.50" y1="499.70" x2="449.94" y2="499.70" stroke="#888" stroke-width="0.4"/>
<line x1="449.36" y1="501.10" x2="451.52" y2="501.10" stroke="#888" stroke-width="0.4"/>
<line x1="450.15" y1="502.50" x2="451.60" y2="502.50" stroke="#888" stroke-width="0.4"/>
<line x1="450.95" y1="503.90" x2="453.11" y2="503.90" stroke="#888" stroke-width="0.4"/>
<line x1="451.81" y1="505.30" x2="453.25" y2="505.30" stroke="#888" stroke-width="0.4"/>
<line x1="451.81" y1="506.70" x2="453.25" y2="506.70" stroke="#888" stroke-width="0.4"/>
<line x1="450.95" y1="508.10" x2="452.39" y2="508.10" stroke="#888" stroke-width="0.4"/>
<rect x="376.90" y="510.90" width="69.14" height="1.45" fill="#c0203f"/>
<rect x="376.90" y="512.30" width="69.94" height="1.45" fill="#cc5a5a"/>
<rect x="376.90" y="513.70" width="70.80" height="1.45" fill="#d06a64"/>
<rect x="376.90" y="515.10" width="71.60" height="1.45" fill="#d87c72"/>
<rect x="376.90" y="516.50" width="72.46" height="1.45" fill="#df8f84"/>
<rect x="376.90" y="517.90" width="73.25" height="1.45" fill="#e6a398"/>
<rect x="376.90" y="519.30" width="74.05" height="1.45" fill="#ecb8ae"/>
<rect x="376.90" y="520.70" width="74.91" height="1.45" fill="#f2cdc5"/>
<rect x="376.90" y="522.10" width="72.10" height="1.45" fill="#f7e2dd"/>
<line x1="446.04" y1="511.60" x2="448.21" y2="511.60" stroke="#888" stroke-width="0.4"/>
<line x1="446.84" y1="513.00" x2="448.28" y2="513.00" stroke="#888" stroke-width="0.4"/>
<line x1="447.70" y1="514.40" x2="449.87" y2="514.40" stroke="#888" stroke-width="0.4"/>
<line x1="448.50" y1="515.80" x2="449.94" y2="515.80" stroke="#888" stroke-width="0.4"/>
<line x1="449.36" y1="517.20" x2="451.52" y2="517.20" stroke="#888" stroke-width="0.4"/>
<line x1="450.15" y1="518.60" x2="451.60" y2="518.60" stroke="#888" stroke-width="0.4"/>
<line x1="450.95" y1="520.00" x2="452.39" y2="520.00" stroke="#888" stroke-width="0.4"/>
<line x1="451.81" y1="521.40" x2="453.25" y2="521.40" stroke="#888" stroke-width="0.4"/>
<line x1="376.50" y1="468.50" x2="376.50" y2="525.60" stroke="#000" stroke-width="1.0"/>
<line x1="376.50" y1="525.50" x2="463.42" y2="525.50" stroke="#000" stroke-width="1.0"/>
<line x1="373.60" y1="476.50" x2="376.90" y2="476.50" stroke="#000" stroke-width="0.8"/>
<line x1="373.60" y1="490.50" x2="376.90" y2="490.50" stroke="#000" stroke-width="0.8"/>
<line x1="373.60" y1="503.50" x2="376.90" y2="503.50" stroke="#000" stroke-width="0.8"/>
<line x1="373.60" y1="517.50" x2="376.90" y2="517.50" stroke="#000" stroke-width="0.8"/>
<line x1="376.50" y1="525.30" x2="376.50" y2="527.60" stroke="#000" stroke-width="0.8"/>
<text x="376.90" y="535.00" font-size="4.3" text-anchor="middle" stroke="#000" stroke-width="0.07">0</text>
<line x1="412.50" y1="525.30" x2="412.50" y2="527.60" stroke="#000" stroke-width="0.8"/>
<text x="412.95" y="535.00" font-size="4.3" text-anchor="middle" stroke="#000" stroke-width="0.07">50</text>
<line x1="449.50" y1="525.30" x2="449.50" y2="527.60" stroke="#000" stroke-width="0.8"/>
<text x="449.00" y="535.00" font-size="4.3" text-anchor="middle" stroke="#000" stroke-width="0.07">100</text>
<text x="420.70" y="464.00" font-size="4.5" text-anchor="middle" stroke="#000" stroke-width="0.03" textLength="26.00" lengthAdjust="spacingAndGlyphs"><tspan font-style="italic">Nkx2.3</tspan><tspan> gRNA</tspan></text>
<text x="388.80" y="544.80" font-size="5.9" font-weight="bold" textLength="62.50" lengthAdjust="spacingAndGlyphs">BFP positive cell population (%)</text>
<text x="18.70" y="478.10" font-size="4.6" stroke="#000" stroke-width="0.07" textLength="54.90" lengthAdjust="spacingAndGlyphs"><tspan font-style="italic" fill="#555" stroke="#555">Flt3</tspan><tspan fill="#555" stroke="#555" baseline-shift="1.93" font-size="2.85">ITD/+</tspan><tspan fill="#555" stroke="#555"> /</tspan><tspan font-style="italic" fill="#555" stroke="#555">Npm1</tspan><tspan fill="#555" stroke="#555" baseline-shift="1.93" font-size="2.85">cA/+</tspan><tspan> Cell line 1</tspan></text>
<text x="18.70" y="491.80" font-size="4.6" stroke="#000" stroke-width="0.07" textLength="54.90" lengthAdjust="spacingAndGlyphs"><tspan font-style="italic" fill="#555" stroke="#555">Flt3</tspan><tspan fill="#555" stroke="#555" baseline-shift="1.93" font-size="2.85">ITD/+</tspan><tspan fill="#555" stroke="#555"> /</tspan><tspan font-style="italic" fill="#555" stroke="#555">Npm1</tspan><tspan fill="#555" stroke="#555" baseline-shift="1.93" font-size="2.85">cA/+</tspan><tspan> Cell line 2</tspan></text>
<text x="18.70" y="505.20" font-size="4.6" stroke="#000" stroke-width="0.07" textLength="54.90" lengthAdjust="spacingAndGlyphs"><tspan font-style="italic" fill="#555" stroke="#555">Flt3</tspan><tspan fill="#555" stroke="#555" baseline-shift="1.93" font-size="2.85">ITD/+</tspan><tspan fill="#555" stroke="#555"> /</tspan><tspan font-style="italic" fill="#555" stroke="#555">Setbp1</tspan><tspan fill="#555" stroke="#555" baseline-shift="1.93" font-size="2.85">IM+</tspan><tspan> Cell line 1</tspan></text>
<text x="18.70" y="518.70" font-size="4.6" stroke="#000" stroke-width="0.07" textLength="54.90" lengthAdjust="spacingAndGlyphs"><tspan font-style="italic" fill="#555" stroke="#555">Flt3</tspan><tspan fill="#555" stroke="#555" baseline-shift="1.93" font-size="2.85">ITD/+</tspan><tspan fill="#555" stroke="#555"> /</tspan><tspan font-style="italic" fill="#555" stroke="#555">Setbp1</tspan><tspan fill="#555" stroke="#555" baseline-shift="1.93" font-size="2.85">IM+</tspan><tspan> Cell line 2</tspan></text>
<rect x="473.00" y="474.30" width="3.80" height="3.80" fill="#e3dcec"/>
<rect x="478.10" y="474.30" width="3.80" height="3.80" fill="#f3ddd7"/>
<text x="484.80" y="477.80" font-size="4.6" stroke="#000" stroke-width="0.06">Day 5</text>
<rect x="473.00" y="479.35" width="3.80" height="3.80" fill="#d3c8e0"/>
<rect x="478.10" y="479.35" width="3.80" height="3.80" fill="#ebc4ba"/>
<text x="484.80" y="482.85" font-size="4.6" stroke="#000" stroke-width="0.06">Day 7</text>
<rect x="473.00" y="484.40" width="3.80" height="3.80" fill="#c0b0d0"/>
<rect x="478.10" y="484.40" width="3.80" height="3.80" fill="#e2ab9e"/>
<text x="484.80" y="487.90" font-size="4.6" stroke="#000" stroke-width="0.06">Day 9</text>
<rect x="473.00" y="489.45" width="3.80" height="3.80" fill="#ac98c0"/>
<rect x="478.10" y="489.45" width="3.80" height="3.80" fill="#d99284"/>
<text x="484.80" y="492.95" font-size="4.6" stroke="#000" stroke-width="0.06">Day 11</text>
<rect x="473.00" y="494.50" width="3.80" height="3.80" fill="#9880b0"/>
<rect x="478.10" y="494.50" width="3.80" height="3.80" fill="#d07a6c"/>
<text x="484.80" y="498.00" font-size="4.6" stroke="#000" stroke-width="0.06">Day 13</text>
<rect x="473.00" y="499.55" width="3.80" height="3.80" fill="#82639e"/>
<rect x="478.10" y="499.55" width="3.80" height="3.80" fill="#c86256"/>
<text x="484.80" y="503.05" font-size="4.6" stroke="#000" stroke-width="0.06">Day 15</text>
<rect x="473.00" y="504.60" width="3.80" height="3.80" fill="#6d4a8c"/>
<rect x="478.10" y="504.60" width="3.80" height="3.80" fill="#c04a42"/>
<text x="484.80" y="508.10" font-size="4.6" stroke="#000" stroke-width="0.06">Day 17</text>
<rect x="473.00" y="509.65" width="3.80" height="3.80" fill="#583578"/>
<rect x="478.10" y="509.65" width="3.80" height="3.80" fill="#b83232"/>
<text x="484.80" y="513.15" font-size="4.6" stroke="#000" stroke-width="0.06">Day 19</text>
<rect x="473.00" y="514.70" width="3.80" height="3.80" fill="#3c1552"/>
<rect x="478.10" y="514.70" width="3.80" height="3.80" fill="#b00028"/>
<text x="484.80" y="518.20" font-size="4.6" stroke="#000" stroke-width="0.06">Day 21</text>
</svg><div id="frame"></div></div></body></html>
